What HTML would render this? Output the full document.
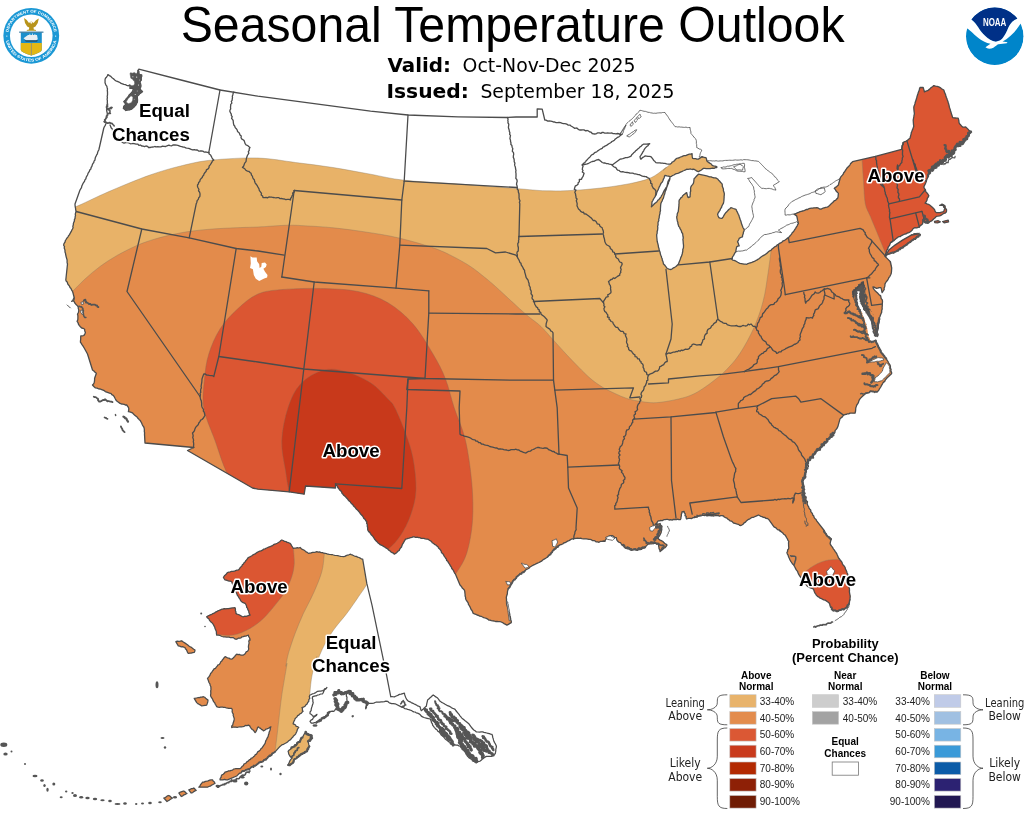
<!DOCTYPE html>
<html lang="en"><head><meta charset="utf-8"><title>Seasonal Temperature Outlook</title>
<style>html,body{margin:0;padding:0;background:#fff}svg{display:block}</style></head>
<body>
<svg width="1031" height="815" viewBox="0 0 1031 815">
<defs>
<clipPath id="cl"><path d="M138.8,69.2 L181.0,80.0 L220.0,90.0 L257.8,96.2 L295.5,101.2 L333.0,106.2 L370.5,111.2 L408.0,115.0 L458.0,116.8 L507.2,117.5 L516.0,117.0 L537.2,117.0 L537.2,108.8 L542.2,109.2 L544.8,120.0 L544.8,120.0 L546.0,120.2 L547.8,121.1 L549.1,121.0 L550.8,121.1 L552.0,121.3 L553.5,122.0 L554.7,122.0 L556.1,122.6 L557.7,122.6 L559.0,122.3 L560.6,122.6 L561.7,123.1 L563.4,123.6 L564.8,123.6 L566.0,123.8 L567.3,124.4 L568.3,125.2 L570.0,125.1 L571.0,126.0 L572.4,126.8 L573.5,127.5 L574.8,128.4 L576.0,128.0 L577.5,128.4 L578.2,129.4 L579.6,130.0 L581.0,130.0 L582.7,129.9 L583.9,129.9 L585.7,130.9 L587.2,130.5 L588.4,130.9 L589.9,132.0 L591.1,132.1 L592.2,133.5 L593.5,133.8 L594.8,134.0 L596.5,133.6 L597.7,132.8 L599.4,132.8 L600.9,133.4 L601.9,132.5 L603.5,132.5 L604.7,133.1 L606.3,133.1 L607.6,133.0 L609.0,133.2 L610.5,133.1 L612.0,133.0 L613.1,133.7 L614.5,133.7 L616.0,133.8 L617.7,133.5 L619.2,133.9 L620.4,134.6 L622.2,134.2 L621.0,135.0 L619.8,135.9 L618.9,136.9 L617.5,137.3 L616.5,138.2 L615.3,139.0 L614.4,140.2 L613.3,140.9 L611.9,141.5 L611.0,142.5 L609.8,143.2 L608.8,143.8 L607.6,144.6 L606.6,145.4 L605.4,145.8 L604.3,146.6 L603.0,147.2 L602.2,148.3 L601.0,148.8 L599.8,149.5 L598.7,150.2 L597.7,150.9 L596.7,151.9 L595.3,152.3 L594.2,153.1 L593.4,154.2 L592.0,154.7 L591.0,155.5 L590.3,156.6 L589.4,157.5 L588.2,158.5 L587.5,159.5 L586.4,160.4 L585.6,161.6 L584.8,162.5 L583.3,163.6 L582.2,165.0 L587.2,163.8 L588.6,163.3 L589.7,162.7 L591.0,162.0 L592.2,161.5 L593.4,161.3 L594.7,161.0 L596.0,160.2 L597.2,159.8 L598.5,159.5 L599.9,160.4 L601.1,161.4 L602.2,162.5 L603.6,163.0 L605.1,163.0 L606.4,163.6 L607.9,163.7 L609.3,164.1 L611.0,164.4 L612.2,165.0 L620.0,159.2 L621.4,159.0 L622.8,158.6 L624.3,158.1 L625.6,157.7 L627.3,157.6 L628.7,157.2 L630.0,156.7 L631.2,155.9 L631.7,154.7 L632.8,153.8 L633.6,152.8 L634.7,152.0 L635.6,150.8 L636.7,150.1 L637.7,149.0 L638.9,148.2 L639.9,147.0 L641.1,146.2 L642.2,145.0 L643.4,144.2 L645.0,144.1 L646.6,144.1 L648.2,143.9 L649.7,143.7 L648.7,144.5 L647.9,145.8 L646.8,146.5 L645.9,147.4 L645.0,148.4 L644.2,149.6 L643.7,150.8 L642.8,152.0 L642.3,153.2 L641.5,154.4 L640.8,155.5 L640.0,156.7 L640.3,158.1 L640.9,159.2 L641.8,158.2 L642.9,157.4 L644.0,156.7 L645.0,155.9 L646.5,156.1 L648.0,156.3 L649.3,156.4 L650.9,156.7 L651.9,157.8 L652.9,159.1 L653.7,160.4 L654.8,161.3 L655.9,162.6 L657.2,162.8 L658.5,162.8 L659.9,162.8 L661.1,163.2 L662.5,163.2 L663.7,163.3 L665.0,163.4 L666.6,163.9 L668.4,164.2 L670.0,164.2 L671.4,163.3 L672.1,162.2 L673.6,161.5 L674.6,160.5 L675.5,159.3 L676.7,158.4 L678.1,158.0 L679.2,157.8 L680.5,157.0 L681.8,156.6 L682.8,156.1 L684.1,155.7 L685.6,155.7 L686.7,155.1 L688.0,154.6 L689.3,154.2 L690.7,154.2 L692.1,153.7 L692.1,155.3 L692.3,156.9 L692.6,158.4 L694.0,158.6 L695.6,158.7 L696.9,159.1 L698.4,159.2 L699.4,158.3 L700.8,157.6 L701.8,156.7 L703.1,157.0 L704.5,157.5 L705.9,157.6 L706.5,159.1 L706.8,160.9 L707.8,161.9 L708.9,162.6 L710.1,163.4 L711.3,164.0 L712.2,165.3 L713.4,165.9 L715.0,166.2 L716.8,166.7 L716.8,167.6 L715.5,167.7 L714.1,168.3 L712.8,168.1 L711.4,168.3 L710.1,168.7 L708.8,168.7 L707.4,168.7 L706.2,168.6 L704.7,168.4 L703.4,168.4 L702.3,169.2 L701.0,170.2 L699.7,170.9 L698.4,171.7 L697.0,171.2 L696.0,170.4 L694.8,169.7 L693.4,169.2 L692.1,169.5 L690.6,169.0 L689.5,169.1 L688.0,169.3 L686.7,169.2 L685.6,169.9 L684.2,170.5 L682.9,171.0 L681.7,171.7 L680.4,172.2 L679.0,172.9 L677.7,173.4 L676.4,173.7 L675.1,174.2 L673.9,175.0 L672.5,175.5 L671.5,176.3 L670.0,176.7 L668.4,176.2 L666.8,175.9 L665.0,175.4 L664.4,176.6 L664.1,178.0 L663.4,179.2 L662.9,180.7 L662.3,182.0 L661.2,183.1 L660.5,184.4 L659.9,185.8 L659.2,187.0 L658.7,188.4 L658.2,189.6 L657.6,190.7 L657.0,191.9 L656.6,193.2 L656.3,194.4 L655.6,195.7 L655.0,196.8 L654.2,198.0 L653.4,199.3 L652.9,200.5 L652.0,201.8 L651.9,203.5 L651.7,205.2 L651.4,206.8 L652.5,205.7 L653.5,204.7 L654.6,203.5 L655.9,202.6 L657.0,201.7 L657.8,200.3 L659.0,199.4 L659.8,198.3 L660.9,197.1 L661.5,195.7 L662.3,194.5 L663.1,193.1 L663.6,191.7 L664.2,190.4 L665.2,189.2 L665.8,187.9 L666.7,186.8 L667.2,185.1 L667.6,183.5 L667.9,181.8 L668.6,180.4 L669.4,179.1 L670.0,177.6 L669.8,179.2 L669.4,180.6 L668.6,182.0 L668.4,183.4 L667.7,184.7 L667.3,186.1 L666.7,187.4 L666.4,188.7 L665.9,190.1 L665.3,191.3 L664.9,192.8 L664.7,194.0 L664.1,195.3 L663.7,196.8 L663.4,198.1 L662.6,199.5 L662.2,200.8 L661.5,202.0 L660.9,203.4 L660.7,204.8 L660.6,206.3 L660.5,207.7 L660.4,209.2 L660.5,210.7 L660.0,212.0 L660.0,213.4 L659.6,214.8 L659.3,216.2 L659.2,217.8 L658.7,219.2 L658.8,220.7 L658.1,222.0 L658.0,223.5 L658.1,224.9 L657.6,226.3 L657.8,227.6 L657.7,229.0 L657.5,230.5 L657.1,231.8 L657.2,233.1 L656.7,234.5 L656.7,236.0 L657.2,241.5 L657.6,242.9 L658.0,244.3 L658.3,245.7 L658.5,247.3 L659.0,248.6 L659.2,250.1 L659.8,251.5 L660.2,252.8 L660.4,254.1 L660.8,255.2 L661.4,256.5 L661.6,257.7 L662.2,258.8 L662.3,260.2 L662.9,261.4 L663.2,262.7 L663.5,264.0 L664.6,265.0 L665.5,266.2 L666.4,267.3 L667.2,268.5 L669.1,269.1 L671.0,269.5 L672.3,268.7 L673.5,267.8 L674.7,267.3 L676.0,266.5 L677.3,265.2 L678.5,264.0 L678.9,262.8 L679.4,261.4 L679.9,260.2 L680.4,259.1 L680.7,257.7 L681.3,256.6 L681.8,255.2 L682.2,254.0 L682.5,252.5 L682.8,251.1 L682.8,249.5 L683.4,248.0 L683.5,246.5 L683.5,245.0 L683.3,243.6 L683.2,242.2 L683.1,240.8 L682.9,239.4 L683.3,238.0 L683.0,236.5 L682.6,233.5 L681.7,232.3 L681.4,231.0 L680.9,229.9 L680.0,228.7 L679.7,227.4 L678.7,226.4 L678.4,225.1 L677.9,223.8 L677.9,222.4 L677.3,220.9 L677.1,219.6 L676.8,218.1 L676.7,216.8 L677.2,215.5 L677.2,214.1 L677.7,212.8 L678.3,211.5 L678.4,210.1 L678.6,208.7 L678.7,207.3 L678.9,205.8 L678.9,204.4 L679.1,203.0 L679.0,201.5 L679.2,200.1 L680.0,199.1 L680.8,197.9 L681.9,197.2 L682.5,196.0 L683.4,195.1 L684.5,194.2 L685.6,193.4 L686.7,192.6 L687.1,194.3 L687.5,196.0 L688.1,197.6 L690.1,196.8 L690.1,195.4 L690.3,193.9 L690.2,192.5 L690.7,191.0 L690.6,189.6 L690.6,188.2 L690.9,186.8 L691.6,185.6 L692.5,184.6 L693.4,183.4 L693.8,181.7 L693.9,180.0 L694.2,178.4 L695.4,177.4 L696.4,176.3 L697.4,175.2 L698.4,174.2 L706.8,175.9 L708.1,176.3 L709.6,176.8 L711.1,176.8 L712.4,177.3 L713.9,177.8 L715.4,177.8 L716.8,178.4 L718.0,179.3 L718.8,180.5 L719.8,181.3 L720.7,182.5 L721.8,183.4 L722.3,184.8 L722.3,186.3 L722.8,187.6 L723.4,189.1 L723.4,190.7 L723.9,192.0 L724.3,193.4 L724.3,194.9 L724.1,196.4 L724.1,197.7 L724.0,199.1 L723.9,200.5 L723.7,201.9 L723.4,203.4 L722.6,204.7 L721.9,206.0 L721.5,207.5 L720.6,208.6 L720.1,210.1 L719.2,211.5 L718.3,212.7 L717.6,214.3 L718.1,215.9 L718.8,217.6 L720.2,218.1 L721.8,218.4 L722.8,217.5 L723.5,216.3 L724.1,215.1 L724.9,213.9 L725.7,212.8 L726.8,211.8 L727.7,210.7 L728.8,209.5 L729.9,208.7 L730.9,207.6 L732.2,208.0 L733.3,208.5 L734.6,208.9 L736.0,209.3 L736.5,210.6 L737.2,211.8 L737.7,212.9 L738.3,214.2 L738.9,215.4 L739.3,216.8 L739.7,218.0 L740.1,219.3 L740.7,220.7 L741.1,222.0 L741.4,223.3 L741.8,224.6 L742.4,225.9 L742.8,227.2 L743.5,228.5 L744.2,229.2 L744.0,230.9 L743.4,232.3 L743.2,233.8 L742.6,235.2 L742.5,236.8 L740.7,237.5 L739.2,238.4 L738.5,240.1 L737.5,241.8 L738.3,243.1 L738.7,244.5 L739.2,245.9 L737.9,246.1 L736.7,246.8 L736.3,248.5 L736.0,250.1 L735.8,251.8 L734.9,252.9 L734.2,254.2 L733.5,255.6 L732.5,256.8 L732.3,258.2 L731.7,259.3 L732.7,260.0 L734.1,260.4 L735.4,260.9 L736.5,261.5 L737.7,262.2 L738.8,262.8 L740.0,263.4 L741.4,263.6 L742.7,263.8 L744.1,264.1 L745.4,264.2 L746.7,264.3 L747.9,263.6 L749.2,263.2 L750.4,262.8 L751.8,262.3 L753.0,261.8 L754.3,261.3 L755.4,260.8 L756.7,260.1 L757.9,259.4 L759.0,258.8 L759.9,257.9 L761.0,257.0 L762.1,256.3 L763.2,255.6 L764.6,254.9 L765.6,254.2 L766.7,253.4 L767.7,252.5 L768.7,251.6 L769.6,250.9 L770.9,250.3 L771.7,249.3 L772.8,248.4 L773.9,247.5 L774.9,246.7 L776.3,246.1 L777.1,245.0 L778.4,244.3 L779.5,243.4 L780.6,242.9 L781.9,242.2 L782.7,241.2 L784.0,240.7 L785.1,240.0 L786.2,239.2 L787.3,238.4 L788.4,237.6 L789.5,236.5 L790.4,235.4 L791.6,234.1 L792.2,232.8 L793.4,231.8 L794.2,230.5 L794.9,229.4 L795.7,228.3 L796.3,227.1 L797.2,225.8 L797.7,224.6 L798.4,223.4 L798.1,222.0 L797.6,220.4 L797.4,219.0 L797.1,217.5 L796.7,215.9 L795.5,215.1 L794.2,214.2 L795.7,213.7 L797.2,212.9 L798.6,212.4 L800.1,211.7 L801.4,211.3 L802.5,211.0 L803.9,210.7 L805.1,210.1 L806.2,209.5 L807.6,209.5 L808.8,208.7 L810.1,208.4 L811.4,208.1 L812.7,208.1 L814.0,207.8 L815.5,207.8 L816.8,207.6 L818.5,208.2 L820.1,209.2 L821.4,209.0 L822.8,208.2 L824.2,207.8 L825.6,207.4 L827.0,207.2 L828.4,206.7 L829.3,205.6 L830.3,204.7 L831.3,203.6 L832.5,202.7 L833.4,201.7 L834.3,200.7 L835.6,200.3 L836.5,199.1 L837.6,198.4 L838.1,196.8 L838.2,195.1 L838.4,193.4 L837.5,192.4 L836.6,191.6 L835.8,190.5 L835.2,189.2 L834.3,188.4 L835.2,187.4 L836.5,186.8 L837.3,185.9 L838.4,185.0 L838.7,183.6 L839.1,182.3 L839.4,181.0 L839.8,179.8 L840.1,178.4 L840.7,177.1 L841.5,176.1 L842.4,175.1 L843.3,174.0 L843.7,172.8 L844.7,171.7 L845.3,170.6 L846.1,169.5 L846.8,168.3 L847.8,167.2 L848.8,166.2 L849.9,165.1 L850.5,163.8 L851.5,162.7 L852.6,161.7 L875.4,156.4 L901.6,149.4 L903.1,142.6 L904.3,141.8 L905.7,141.4 L906.9,140.7 L908.0,139.9 L908.9,139.0 L910.0,138.2 L910.4,136.8 L910.7,135.4 L911.1,134.1 L911.3,132.6 L911.9,131.3 L912.3,130.1 L912.9,128.9 L913.3,127.6 L913.8,126.3 L913.5,124.7 L913.4,123.2 L913.3,121.7 L913.2,120.1 L913.5,118.5 L913.8,116.9 L914.0,115.3 L914.4,113.8 L914.2,112.2 L914.0,110.7 L913.9,109.1 L913.8,107.5 L914.0,106.2 L914.5,105.0 L914.9,103.9 L915.2,102.5 L915.6,101.3 L916.1,100.1 L916.4,98.8 L916.8,97.5 L917.1,96.2 L917.5,95.0 L917.9,93.8 L918.3,92.5 L918.8,91.3 L919.3,90.1 L919.5,88.7 L920.0,87.5 L921.6,87.5 L923.2,87.5 L923.6,89.1 L924.1,90.4 L924.4,91.9 L926.0,91.2 L927.6,90.7 L928.6,89.9 L929.7,89.1 L930.6,88.1 L931.7,87.2 L932.8,86.5 L933.8,85.6 L935.5,86.2 L937.2,86.4 L938.8,86.9 L940.1,87.6 L941.3,88.6 L942.5,89.3 L943.8,90.0 L944.2,91.3 L944.6,92.6 L945.2,93.8 L945.7,95.0 L945.9,96.3 L946.4,97.5 L947.0,98.8 L947.3,100.0 L947.9,101.3 L948.2,102.5 L948.6,103.8 L949.0,105.1 L949.2,106.3 L949.5,107.5 L950.0,108.9 L950.4,110.1 L950.6,111.3 L951.1,112.6 L951.4,113.8 L951.8,115.1 L952.3,116.3 L952.6,117.6 L954.0,117.8 L955.4,118.0 L956.8,118.2 L958.2,118.2 L958.6,119.6 L958.9,121.0 L959.0,122.5 L959.5,123.8 L960.6,124.8 L961.5,126.0 L962.6,127.0 L964.2,127.1 L965.7,127.0 L966.7,127.9 L967.7,128.9 L968.7,130.0 L969.7,131.0 L970.7,131.9 L967.6,136.3 L966.4,137.8 L966.3,139.4 L964.3,139.6 L963.9,141.3 L962.2,141.9 L961.0,142.7 L960.1,143.8 L958.3,144.2 L957.0,145.1 L956.2,146.0 L955.1,147.6 L954.7,149.5 L954.4,150.8 L953.8,152.6 L952.0,152.8 L951.1,154.2 L950.1,155.1 L948.7,155.5 L947.7,156.2 L945.9,156.6 L945.1,157.6 L944.9,159.1 L944.0,160.4 L943.4,161.8 L942.6,162.6 L941.5,164.0 L940.3,164.0 L938.8,163.8 L937.6,165.1 L936.2,165.7 L935.2,166.4 L933.8,167.6 L932.9,168.4 L931.3,168.8 L930.7,170.1 L929.4,172.0 L928.2,176.3 L927.7,177.7 L927.1,178.7 L926.6,180.1 L926.3,181.3 L925.8,182.7 L925.2,184.1 L924.5,185.4 L923.8,186.9 L924.4,188.5 L925.4,189.6 L925.7,191.3 L926.4,192.5 L927.4,193.3 L928.1,194.5 L928.8,195.7 L928.2,197.2 L927.3,198.4 L927.0,200.1 L926.2,201.7 L925.1,203.2 L926.4,203.5 L927.4,204.2 L928.8,204.4 L930.0,205.3 L931.4,206.5 L932.6,207.6 L933.8,208.7 L934.7,209.9 L935.1,211.4 L936.3,212.6 L938.3,212.6 L940.1,212.6 L941.4,212.2 L942.7,211.9 L943.8,211.3 L944.2,209.8 L945.1,208.2 L943.9,207.5 L943.5,206.0 L942.3,205.3 L940.8,205.3 L939.6,205.3 L940.9,205.0 L942.0,204.1 L943.5,204.8 L945.1,206.1 L945.2,207.4 L945.8,208.7 L946.6,209.8 L946.4,211.9 L945.3,213.0 L943.7,213.4 L942.5,214.3 L941.3,215.1 L939.7,215.8 L937.9,216.1 L936.3,216.3 L935.2,217.8 L933.8,218.8 L932.6,220.1 L931.6,220.9 L930.0,221.6 L928.8,221.9 L927.0,222.2 L925.1,222.6 L924.4,221.2 L924.2,219.6 L923.8,218.2 L923.3,219.7 L922.9,221.1 L922.8,222.3 L922.6,223.8 L921.4,224.9 L920.3,225.6 L919.4,227.0 L917.9,227.4 L916.8,227.8 L915.0,227.7 L913.8,228.2 L912.8,229.0 L912.1,230.3 L911.0,231.2 L910.0,232.0 L908.9,232.6 L907.3,233.0 L906.3,233.8 L904.9,234.0 L903.8,234.5 L902.5,235.1 L901.3,235.8 L900.1,236.6 L898.7,236.7 L897.5,237.6 L896.1,238.5 L895.1,239.4 L894.0,240.7 L892.5,241.3 L890.6,242.6 L890.0,243.9 L889.7,245.2 L888.8,246.4 L888.0,247.5 L887.9,248.8 L887.0,250.0 L886.4,251.4 L886.3,252.6 L885.5,253.9 L885.8,255.1 L885.0,256.4 L890.4,261.6 L891.7,268.0 L891.6,269.6 L891.5,271.3 L891.3,273.0 L890.9,274.2 L890.3,275.5 L889.8,276.6 L888.9,277.5 L888.4,278.8 L887.6,280.3 L886.7,281.2 L885.8,282.5 L885.0,283.9 L884.9,285.4 L884.7,286.7 L884.1,288.1 L884.2,289.7 L883.1,291.1 L882.1,292.6 L881.7,290.9 L881.4,289.1 L880.9,287.6 L879.3,287.7 L878.0,288.0 L876.7,288.4 L875.5,287.8 L874.2,287.2 L873.0,286.8 L873.3,288.3 L874.2,289.7 L875.4,291.1 L876.7,292.2 L877.9,293.3 L878.9,294.5 L880.0,295.5 L880.5,295.5 L880.9,297.0 L881.2,298.6 L882.3,299.9 L882.5,301.4 L882.4,302.9 L882.3,304.2 L882.3,305.8 L882.1,307.2 L882.2,309.0 L881.7,310.5 L881.7,312.2 L881.0,313.7 L880.4,315.2 L879.9,316.7 L879.2,318.0 L878.2,327.5 L878.1,328.9 L877.5,330.2 L877.3,331.6 L876.9,333.0 L876.9,334.4 L876.3,335.6 L874.4,335.0 L874.1,333.4 L873.9,332.0 L873.0,330.5 L872.8,329.0 L872.5,327.5 L872.5,326.0 L872.3,324.5 L872.3,323.1 L872.6,321.6 L872.5,320.0 L871.7,318.0 L871.3,316.9 L871.1,315.2 L870.9,314.1 L870.7,312.8 L870.0,311.4 L869.0,310.8 L868.3,309.6 L867.0,309.0 L865.9,308.0 L866.3,306.8 L866.6,305.5 L866.4,304.0 L867.0,302.8 L866.7,301.4 L866.3,300.0 L866.1,298.5 L865.7,297.1 L865.0,295.5 L865.3,294.1 L864.2,292.7 L864.3,291.6 L864.7,290.0 L863.5,288.7 L864.2,287.3 L863.3,286.0 L863.4,284.7 L863.4,282.2 L862.0,283.1 L861.2,284.4 L859.8,285.2 L858.9,286.4 L857.5,287.2 L856.9,288.4 L855.4,289.0 L855.0,290.5 L853.5,291.1 L852.9,292.2 L853.7,293.7 L853.4,295.3 L853.7,296.7 L854.9,298.2 L855.0,299.7 L855.5,301.1 L855.9,302.5 L856.7,303.9 L857.6,304.9 L858.5,305.9 L858.8,307.2 L859.6,308.4 L860.6,309.4 L861.8,310.7 L862.5,312.1 L863.4,313.0 L864.2,314.4 L864.4,315.5 L864.9,317.1 L865.9,318.0 L866.3,320.0 L866.7,321.3 L866.7,322.9 L867.3,324.3 L867.8,325.6 L867.8,327.1 L868.5,328.6 L868.8,330.0 L869.3,331.3 L869.6,332.4 L869.7,333.8 L870.2,335.1 L870.7,336.3 L871.0,337.6 L871.3,338.8 L872.6,339.0 L873.7,339.6 L875.0,340.0 L875.7,340.6 L876.5,342.1 L876.7,343.6 L877.5,345.0 L878.2,346.4 L879.0,347.5 L879.1,348.8 L880.2,349.9 L880.5,351.3 L881.3,352.5 L882.2,353.5 L883.1,354.4 L883.7,355.6 L884.5,356.9 L885.5,357.8 L886.3,358.8 L887.0,360.2 L887.9,361.3 L888.4,362.6 L889.2,363.8 L890.1,365.1 L890.4,366.5 L890.4,368.0 L891.1,369.5 L890.8,370.9 L891.6,372.4 L891.6,373.8 L890.4,374.7 L889.4,375.7 L888.3,376.8 L887.2,377.8 L886.3,378.8 L885.3,380.0 L884.7,381.4 L883.3,382.4 L882.5,383.8 L881.7,385.1 L881.1,386.3 L880.4,387.5 L879.5,388.8 L878.8,390.1 L878.1,391.1 L876.9,392.0 L875.4,391.5 L874.1,391.8 L872.8,391.8 L871.3,391.3 L870.0,391.7 L868.8,392.7 L867.5,392.9 L866.3,393.3 L865.0,393.8 L864.0,395.0 L863.1,395.8 L862.0,396.8 L860.9,397.9 L860.0,398.9 L859.2,400.1 L858.7,401.4 L858.4,402.6 L857.6,403.9 L856.8,405.0 L856.3,406.4 L855.8,407.7 L855.7,409.0 L855.6,410.6 L855.4,411.8 L855.0,413.2 L853.3,413.2 L851.6,413.1 L850.0,413.2 L848.8,413.8 L847.4,413.8 L846.3,414.4 L845.0,414.5 L843.8,415.1 L842.8,416.1 L842.1,417.1 L841.0,417.9 L840.0,418.9 L837.8,426.8 L837.2,428.0 L836.2,429.4 L835.1,430.5 L835.0,432.0 L834.1,433.0 L832.8,433.8 L831.8,434.7 L831.3,436.2 L830.2,437.5 L829.0,438.1 L828.0,438.9 L827.2,440.2 L826.4,441.3 L825.0,442.1 L824.0,443.0 L822.9,443.8 L822.1,444.6 L821.3,446.1 L820.4,447.1 L819.6,448.3 L819.0,449.2 L818.2,450.5 L816.7,450.8 L815.9,452.0 L815.3,453.1 L814.6,454.5 L813.3,455.2 L812.8,456.7 L811.9,457.5 L810.3,458.3 L809.2,459.5 L808.4,460.6 L807.8,461.8 L807.4,463.0 L807.5,464.8 L806.7,466.2 L806.3,467.6 L806.6,468.9 L805.7,470.2 L805.7,471.6 L805.3,473.1 L804.7,474.3 L804.8,475.8 L803.9,477.2 L803.6,478.7 L803.3,480.3 L802.7,481.6 L802.8,483.1 L802.8,484.5 L802.9,486.0 L803.7,487.1 L803.9,488.7 L803.3,490.3 L804.2,491.6 L804.0,493.1 L804.4,494.2 L804.5,495.7 L805.7,496.8 L806.1,497.8 L805.7,499.5 L806.4,500.7 L807.5,501.8 L807.2,503.1 L807.3,504.4 L807.9,505.6 L808.7,506.9 L809.0,508.1 L809.7,509.0 L810.8,510.1 L810.7,511.5 L811.7,512.6 L812.5,513.8 L812.7,515.1 L813.8,516.1 L814.1,517.4 L814.8,518.5 L816.1,519.5 L816.5,520.6 L823.8,530.0 L824.6,531.1 L825.1,532.5 L825.7,533.6 L826.3,535.0 L827.4,536.0 L828.8,536.9 L830.2,537.9 L831.3,538.8 L830.8,540.4 L830.4,542.1 L830.1,543.8 L830.7,545.0 L831.6,546.2 L832.7,547.6 L833.3,548.8 L834.4,550.1 L835.1,551.3 L835.9,552.4 L836.7,553.6 L837.3,555.0 L837.9,556.2 L838.4,557.7 L839.3,558.7 L840.1,560.0 L841.2,561.2 L842.0,562.4 L842.4,563.8 L843.3,565.2 L844.4,566.2 L845.1,567.5 L845.4,568.9 L846.1,570.2 L846.6,571.2 L847.0,572.7 L847.6,573.8 L847.9,575.2 L848.0,576.7 L847.8,578.3 L847.9,579.6 L847.9,581.0 L848.2,582.6 L848.6,583.9 L848.6,585.6 L848.9,587.0 L849.4,588.5 L849.5,590.1 L849.4,591.6 L849.6,593.1 L849.9,594.6 L850.2,596.1 L850.1,597.6 L850.0,599.2 L849.5,600.8 L849.3,602.3 L848.9,603.8 L848.2,605.2 L847.1,606.2 L846.4,607.6 L845.0,608.5 L843.8,609.5 L841.9,609.5 L840.1,610.1 L838.9,610.6 L837.6,611.4 L835.9,610.6 L834.3,610.6 L832.6,610.1 L831.9,608.5 L830.7,607.0 L830.0,605.6 L829.7,603.9 L828.8,602.6 L827.5,601.8 L826.4,600.9 L825.1,600.1 L823.7,599.9 L822.5,599.2 L821.5,598.6 L820.1,598.2 L818.9,597.1 L817.5,596.4 L816.3,595.1 L815.6,593.8 L814.8,592.8 L814.3,591.5 L813.8,590.0 L813.2,588.8 L811.8,588.3 L810.3,587.9 L809.0,587.0 L807.5,586.3 L806.5,585.0 L805.0,583.8 L804.1,582.5 L803.4,581.3 L802.6,580.1 L801.9,578.6 L800.9,577.5 L800.0,576.3 L799.2,575.2 L798.5,573.9 L798.0,572.7 L797.5,571.3 L796.5,570.1 L795.7,568.9 L795.1,567.5 L794.4,566.3 L793.7,564.8 L792.5,563.9 L791.6,562.5 L790.8,561.3 L790.0,560.0 L789.5,558.7 L788.9,557.5 L788.4,556.3 L788.1,555.1 L787.3,553.8 L786.9,552.5 L787.6,551.3 L787.6,550.0 L788.6,548.8 L788.8,547.5 L788.6,546.0 L788.6,544.4 L788.5,542.9 L788.8,541.3 L787.8,540.1 L787.4,538.8 L786.5,537.5 L785.8,536.1 L785.0,535.0 L783.7,534.2 L782.8,533.0 L781.5,532.0 L780.0,531.2 L779.4,530.0 L781.5,531.9 L780.3,531.2 L779.1,530.0 L777.5,529.6 L776.6,528.6 L775.5,527.6 L774.0,526.9 L768.5,519.2 L767.4,518.5 L766.0,518.4 L765.0,517.5 L763.3,517.3 L762.1,516.7 L761.0,516.4 L759.8,515.7 L758.5,515.0 L757.2,515.6 L756.0,516.2 L754.7,516.7 L753.6,517.3 L752.1,517.4 L751.0,518.0 L749.9,518.8 L748.6,519.3 L747.3,520.3 L746.3,521.1 L745.5,522.1 L744.1,522.9 L743.3,524.0 L742.3,524.8 L741.0,525.5 L739.6,525.4 L738.7,524.3 L737.3,524.2 L735.9,523.7 L734.9,523.3 L733.5,523.0 L732.6,522.1 L731.4,521.1 L730.0,520.9 L729.1,519.8 L727.8,519.2 L727.0,518.2 L725.6,517.6 L724.3,517.0 L723.5,516.0 L722.1,515.7 L720.8,515.7 L719.5,516.2 L718.3,515.7 L716.9,515.6 L715.3,515.5 L713.9,516.0 L712.6,515.7 L711.2,515.9 L710.1,515.7 L708.6,515.7 L707.2,515.8 L706.0,515.5 L719.0,513.5 L717.5,513.7 L716.1,513.4 L714.9,514.1 L713.1,514.2 L711.6,514.1 L710.2,513.8 L708.9,514.2 L707.2,514.2 L705.9,514.8 L704.7,515.5 L703.0,515.1 L701.5,515.6 L700.1,515.9 L698.4,515.9 L697.2,517.0 L695.8,517.2 L694.6,517.5 L693.1,517.6 L691.7,518.5 L690.1,518.4 L688.4,518.4 L686.6,519.0 L686.0,517.8 L686.3,516.5 L685.0,515.6 L685.3,513.9 L684.4,512.8 L684.1,511.5 L681.9,511.8 L681.9,513.0 L681.3,514.5 L681.4,515.7 L681.0,517.2 L680.9,518.4 L680.4,519.5 L678.8,519.7 L677.7,519.2 L676.4,519.7 L675.1,519.5 L673.4,519.4 L672.1,520.1 L670.7,519.7 L669.2,520.0 L667.7,519.3 L666.6,519.4 L665.1,519.7 L663.8,519.7 L662.3,520.6 L660.8,520.3 L659.8,520.9 L658.2,520.9 L657.2,522.2 L656.6,523.4 L655.1,524.4 L656.7,524.4 L658.6,524.0 L660.1,523.5 L660.7,525.2 L662.0,526.3 L661.6,528.0 L661.8,529.6 L661.3,531.3 L661.1,532.6 L660.4,534.0 L660.0,535.0 L658.8,536.2 L658.4,537.5 L658.2,538.8 L660.1,540.1 L661.3,540.6 L662.9,541.5 L663.8,542.6 L664.8,543.5 L665.9,544.1 L667.0,545.1 L666.0,546.5 L665.1,547.6 L663.8,548.3 L663.1,549.1 L662.0,550.1 L660.1,551.6 L659.9,550.3 L659.1,548.8 L658.9,547.2 L658.6,545.8 L658.6,544.4 L657.0,543.9 L655.1,543.2 L653.2,543.7 L651.3,543.8 L648.8,543.8 L647.5,544.6 L646.8,545.4 L645.9,546.3 L645.1,547.6 L643.7,548.2 L642.6,548.2 L641.6,549.4 L640.1,549.5 L638.7,549.4 L637.2,549.8 L635.6,549.9 L634.2,549.5 L632.6,549.6 L631.3,550.1 L630.2,549.2 L628.9,548.7 L627.6,548.8 L626.3,548.4 L625.0,547.6 L623.8,546.2 L622.5,545.1 L621.4,544.2 L620.6,542.7 L619.0,542.3 L617.8,541.3 L616.9,540.1 L616.3,537.6 L614.8,537.3 L613.8,536.6 L612.6,535.7 L611.3,535.7 L609.7,535.8 L608.7,536.3 L607.4,537.0 L606.3,537.6 L606.3,538.9 L605.3,540.1 L605.0,541.3 L603.7,541.0 L602.0,541.4 L600.7,541.3 L599.0,542.3 L597.5,541.9 L596.0,541.9 L595.0,540.9 L593.9,540.6 L592.4,540.6 L591.3,539.7 L590.0,539.4 L589.0,539.4 L587.7,539.1 L586.3,538.9 L584.7,538.9 L583.3,538.8 L581.9,538.7 L580.5,538.2 L579.1,538.3 L577.6,538.1 L576.0,538.3 L574.3,538.5 L572.6,538.8 L571.2,539.2 L570.2,539.9 L569.0,540.6 L567.5,541.2 L566.4,541.9 L565.1,542.7 L563.7,543.0 L562.7,544.0 L561.4,544.5 L560.0,544.8 L558.9,545.6 L557.8,546.7 L557.0,547.4 L555.7,548.1 L554.7,549.0 L553.9,550.0 L552.9,550.9 L552.1,552.1 L551.2,552.9 L550.5,554.0 L549.2,554.9 L548.4,555.9 L547.6,556.9 L546.4,557.8 L545.0,558.7 L543.8,559.3 L542.5,560.2 L541.5,561.2 L540.1,561.9 L539.0,562.5 L537.5,563.1 L536.4,563.6 L535.1,564.3 L533.7,564.9 L532.6,565.5 L531.3,566.3 L530.0,567.0 L528.9,568.3 L527.6,569.0 L526.1,569.6 L525.1,570.7 L523.9,571.7 L522.4,572.3 L521.4,573.5 L520.0,574.2 L518.8,575.1 L517.8,576.3 L516.7,577.1 L515.9,578.3 L514.7,579.3 L513.5,580.2 L512.6,581.3 L511.9,582.7 L511.4,583.8 L510.5,585.1 L509.8,586.5 L509.1,587.7 L508.2,588.8 L507.8,590.3 L507.4,591.8 L507.4,593.3 L507.1,594.8 L506.6,596.1 L506.3,597.6 L506.5,599.2 L506.5,600.5 L506.5,602.2 L506.6,603.6 L506.9,605.1 L507.4,606.3 L507.7,607.7 L508.0,608.9 L508.7,610.1 L508.9,611.5 L509.4,612.6 L509.7,613.9 L509.9,615.4 L510.3,616.8 L510.6,618.4 L510.7,619.8 L511.3,621.2 L511.3,622.6 L509.9,623.4 L508.4,624.4 L506.9,625.1 L505.6,624.4 L504.1,623.6 L502.8,622.8 L501.3,622.0 L500.0,621.6 L498.5,621.6 L497.1,621.5 L495.5,621.5 L494.1,621.0 L492.7,620.9 L491.3,620.7 L490.1,620.2 L488.7,620.0 L487.7,619.1 L486.4,618.4 L485.1,618.0 L483.7,617.6 L482.5,617.0 L481.2,616.3 L479.8,616.2 L478.5,615.4 L477.0,615.0 L475.9,614.3 L474.4,613.9 L473.1,613.2 L472.7,612.0 L472.0,610.5 L471.1,609.5 L470.6,608.2 L470.1,607.1 L469.4,605.7 L468.5,604.6 L468.3,603.3 L467.7,602.1 L466.8,601.0 L466.2,600.1 L465.6,598.8 L465.6,597.4 L465.1,596.0 L465.1,594.5 L464.9,593.0 L464.8,591.5 L464.4,590.1 L463.4,589.0 L462.5,588.3 L461.8,587.1 L460.9,585.9 L460.0,585.1 L455.5,574.2 L454.6,573.1 L454.1,571.9 L453.5,570.7 L452.7,569.5 L451.8,568.5 L451.4,567.2 L450.6,566.2 L449.9,564.9 L449.3,563.8 L448.4,562.7 L447.8,561.3 L446.6,560.4 L446.4,559.1 L445.5,558.0 L444.8,557.0 L444.0,555.9 L443.5,554.5 L442.5,553.6 L441.5,552.5 L441.2,551.1 L440.4,549.9 L439.7,549.0 L438.5,547.9 L438.0,546.8 L436.9,545.9 L435.9,545.0 L434.5,544.3 L433.6,543.5 L432.3,542.8 L431.5,541.5 L430.3,540.7 L429.1,540.0 L428.0,539.2 L426.6,539.1 L425.2,538.9 L423.9,538.4 L422.6,538.4 L421.2,538.3 L419.8,537.7 L418.5,537.6 L417.2,537.2 L415.6,537.3 L414.3,536.9 L413.0,536.8 L411.9,537.3 L410.5,537.7 L409.2,538.1 L407.9,538.3 L406.7,538.8 L405.5,539.2 L404.8,540.4 L404.0,541.7 L403.4,542.9 L402.5,544.2 L402.0,545.4 L401.5,547.0 L400.5,548.0 L399.8,549.1 L399.2,550.5 L397.9,551.3 L396.9,552.4 L395.6,553.4 L394.2,554.2 L393.4,553.2 L392.2,552.6 L391.0,552.0 L390.1,551.0 L388.9,550.2 L388.0,549.2 L387.0,548.5 L385.9,547.9 L384.7,547.0 L383.4,546.4 L382.5,545.6 L381.4,545.2 L380.0,544.6 L379.1,543.6 L378.0,543.0 L377.3,542.0 L376.2,541.0 L375.4,540.0 L374.5,539.0 L373.7,537.7 L373.1,536.7 L372.3,535.7 L371.3,534.8 L370.5,533.6 L369.8,532.4 L368.7,531.6 L368.0,530.5 L367.6,529.1 L367.7,527.7 L367.2,526.0 L367.4,524.6 L366.7,523.4 L366.8,521.8 L365.8,520.7 L365.2,519.4 L363.9,518.5 L363.3,517.3 L362.6,516.0 L361.6,515.0 L360.5,513.9 L359.7,512.7 L358.9,511.7 L358.0,510.5 L356.9,509.6 L356.0,508.7 L355.3,507.6 L354.4,506.8 L353.4,505.7 L352.8,504.6 L351.7,503.8 L350.9,502.8 L350.3,501.8 L349.0,500.9 L348.3,500.1 L347.6,498.9 L346.6,498.1 L345.7,496.9 L344.7,496.1 L343.7,495.3 L343.0,494.2 L342.0,493.2 L341.6,491.8 L340.6,490.7 L339.4,489.7 L338.6,488.5 L337.8,487.4 L337.3,486.1 L336.3,485.1 L335.5,483.8 L335.5,488.0 L305.5,486.0 L304.2,494.2 L289.2,491.8 L258.0,489.2 L252.5,488.0 L187.5,450.5 L193.8,447.5 L145.0,443.0 L144.6,435.9 L144.5,434.4 L144.6,432.8 L144.3,431.3 L144.4,429.9 L144.2,428.4 L143.8,427.0 L142.8,425.6 L142.2,424.5 L141.7,423.1 L140.9,421.7 L140.3,420.6 L139.2,419.7 L138.4,418.7 L137.5,417.7 L136.7,416.7 L135.7,415.9 L134.5,414.9 L133.5,414.0 L132.5,412.9 L131.2,412.3 L129.8,411.8 L128.4,411.7 L128.7,410.1 L128.8,408.4 L128.2,407.1 L127.5,406.1 L126.7,405.0 L125.2,405.0 L124.2,404.3 L122.7,404.1 L121.4,404.0 L120.0,403.4 L119.0,402.6 L117.8,401.8 L116.8,401.0 L115.9,400.0 L115.0,398.3 L114.2,396.7 L113.2,395.3 L111.8,394.7 L110.9,393.4 L109.5,393.2 L108.2,392.7 L106.7,392.1 L105.3,391.6 L104.3,390.7 L103.0,390.1 L101.7,389.6 L100.2,389.0 L98.4,388.8 L97.1,388.1 L95.4,387.9 L94.4,387.1 L93.4,386.0 L92.5,385.0 L93.6,383.9 L94.2,382.5 L94.5,381.1 L94.6,379.6 L94.6,378.3 L95.1,377.1 L95.5,375.8 L96.0,374.6 L96.3,373.3 L95.1,372.2 L93.9,371.0 L92.5,370.0 L87.5,354.0 L84.2,348.0 L82.9,345.9 L82.0,344.6 L81.3,343.4 L80.4,342.1 L80.5,340.7 L80.7,339.0 L80.7,337.5 L80.8,335.9 L82.5,335.9 L83.8,335.5 L84.8,334.1 L85.4,332.5 L84.8,330.9 L84.6,329.2 L83.1,328.3 L81.7,328.0 L80.4,326.7 L79.2,325.4 L78.4,324.1 L78.0,322.6 L77.1,321.3 L77.8,319.9 L77.9,318.4 L77.9,316.9 L77.9,315.5 L77.5,314.2 L78.4,312.5 L78.8,310.9 L78.6,309.4 L78.2,308.1 L78.3,306.7 L77.0,305.4 L75.8,304.2 L74.8,303.0 L74.1,301.5 L72.9,300.4 L73.4,299.0 L74.2,297.5 L73.7,295.8 L73.3,294.2 L72.9,292.5 L72.4,291.2 L71.5,289.9 L71.0,288.5 L70.0,287.5 L69.5,286.1 L68.6,285.0 L67.7,283.8 L67.4,282.3 L66.3,281.3 L65.8,280.0 L67.5,264.0 L67.1,262.6 L67.1,261.3 L67.1,260.0 L66.7,258.6 L66.3,257.3 L66.0,256.0 L65.7,254.6 L65.5,253.3 L65.0,252.0 L65.0,250.6 L64.8,249.4 L64.2,248.0 L64.5,246.7 L63.7,245.5 L63.8,244.0 L64.5,242.8 L65.1,241.8 L65.4,240.5 L66.2,239.3 L66.8,238.2 L67.9,237.1 L68.4,236.0 L69.3,234.9 L70.0,233.7 L70.6,232.4 L71.3,231.5 L71.8,230.1 L72.5,229.0 L73.1,227.6 L72.8,226.2 L73.3,225.1 L73.4,223.4 L73.8,222.3 L74.4,221.1 L74.4,219.6 L75.1,218.2 L75.1,216.9 L75.5,215.6 L75.3,214.1 L75.6,212.8 L76.2,211.5 L75.7,210.1 L75.6,208.6 L75.3,207.1 L75.1,205.6 L75.0,204.0 L80.0,190.0 L80.7,188.8 L81.5,187.7 L81.8,186.1 L82.3,185.0 L82.9,183.7 L83.6,182.5 L84.5,181.4 L84.9,179.9 L85.9,178.8 L86.1,177.5 L86.7,176.3 L87.5,175.0 L87.9,173.7 L88.5,172.5 L89.4,171.3 L89.9,169.8 L90.9,168.9 L91.1,167.5 L91.9,166.4 L92.3,164.8 L92.8,163.7 L93.8,162.5 L94.0,161.1 L95.0,160.0 L95.1,158.7 L95.5,157.3 L96.1,156.1 L96.6,154.9 L97.4,153.8 L97.6,152.5 L98.1,151.1 L98.8,150.0 L103.8,128.0 L104.4,126.7 L105.3,125.3 L105.8,123.9 L106.7,122.5 L105.4,122.4 L104.2,121.7 L105.0,120.2 L105.8,118.4 L106.7,117.0 L107.0,115.5 L107.5,114.2 L107.1,112.5 L106.7,110.8 L106.7,109.2 L106.8,107.5 L107.3,106.0 L107.5,104.2 L107.3,102.6 L107.4,100.9 L107.1,99.2 L107.4,97.8 L107.2,96.3 L107.5,94.8 L107.5,93.4 L107.5,91.9 L107.3,90.3 L107.5,89.0 L107.1,87.5 L106.8,86.2 L105.9,85.1 L105.4,83.7 L105.0,82.5 L105.1,81.0 L105.0,79.8 L105.4,78.3 L106.5,77.2 L107.3,76.0 L107.9,74.6 L109.4,75.6 L110.8,76.3 L111.7,77.4 L112.8,78.3 L113.9,79.1 L114.7,80.0 L115.8,80.8 L117.3,81.3 L118.5,81.8 L119.9,82.5 L121.1,83.4 L122.5,83.8 L123.9,84.3 L125.6,84.7 L126.8,85.4 L128.4,85.8 L129.6,85.0 L130.0,86.7 L130.0,88.4 L131.3,88.4 L132.8,88.5 L134.2,88.4 L133.3,89.6 L132.6,91.2 L131.7,92.5 L130.0,94.2 L128.9,95.3 L128.6,96.5 L127.5,97.5 L126.7,98.7 L125.9,99.7 L124.7,100.7 L123.8,101.7 L125.0,103.1 L125.9,104.6 L124.7,105.4 L123.8,106.3 L123.4,108.4 L124.6,109.3 L125.9,110.5 L127.3,110.1 L128.8,109.8 L130.2,109.5 L131.7,109.2 L132.7,108.0 L133.8,107.1 L134.8,106.0 L135.9,105.0 L136.2,103.6 L137.3,102.3 L137.5,100.9 L137.4,99.3 L137.3,97.4 L137.5,95.9 L139.0,94.7 L140.0,93.4 L141.3,92.6 L142.5,91.7 L141.1,90.5 L140.0,88.8 L140.6,87.4 L140.9,85.8 L140.7,84.0 L140.0,82.5 L140.4,81.1 L141.3,80.0 L141.2,78.4 L141.5,76.6 L141.7,75.0 L140.4,74.8 L138.9,74.3 L137.5,73.8Z M885.6,255.7 L888.8,250.1 L895.0,245.1 L902.5,240.1 L911.3,235.1 L918.8,233.8 L920.1,234.5 L916.3,237.6 L912.5,240.1 L903.8,246.4 L896.3,251.4 L888.8,253.9Z M934.5,221.3 L938.2,220.7 L940.3,221.9 L937.6,222.9 L934.8,222.6Z M942.6,221.6 L948.2,220.1 L948.6,221.9 L944.1,222.8Z"/></clipPath>
<clipPath id="ck"><path d="M223.4,577.5 L224.1,576.3 L224.7,575.4 L225.9,574.6 L226.6,573.6 L227.5,572.5 L228.8,572.1 L230.3,571.9 L231.5,571.3 L232.9,571.4 L234.4,571.2 L235.6,570.6 L236.9,570.2 L238.4,570.0 L239.2,569.2 L239.9,568.0 L240.9,566.9 L241.9,566.0 L242.5,564.6 L243.5,564.0 L244.0,562.7 L245.3,561.8 L245.8,560.6 L246.8,559.7 L247.5,558.5 L248.4,557.5 L249.8,556.9 L251.0,556.2 L252.3,555.5 L253.4,554.5 L254.7,554.2 L255.9,553.2 L257.2,552.4 L258.4,551.7 L259.7,551.1 L261.0,550.8 L262.5,550.2 L263.5,549.2 L265.0,548.9 L266.0,548.3 L267.3,547.7 L268.6,547.1 L270.1,546.7 L271.2,546.1 L272.4,545.7 L273.6,544.6 L274.8,544.1 L276.0,543.8 L277.3,543.2 L278.4,542.5 L279.7,541.8 L280.5,540.8 L281.8,540.0 L283.2,540.5 L284.5,541.4 L286.0,541.5 L287.1,542.4 L288.6,542.7 L290.1,543.4 L291.0,544.5 L291.7,545.9 L292.5,547.0 L293.4,548.4 L294.8,548.2 L296.0,548.2 L297.3,547.7 L298.8,548.0 L300.1,547.5 L301.1,548.5 L302.3,549.4 L303.8,550.0 L305.0,550.8 L306.0,551.9 L307.3,552.4 L308.4,553.4 L309.8,553.1 L311.2,552.8 L312.6,552.3 L314.1,552.4 L315.4,552.2 L316.8,551.7 L318.2,552.1 L319.5,551.9 L321.1,552.6 L322.5,552.6 L323.8,553.2 L325.1,553.4 L326.5,553.6 L327.9,554.2 L329.3,554.4 L330.8,554.5 L332.1,554.5 L333.5,555.0 L334.9,555.3 L336.3,555.5 L337.9,555.7 L339.1,556.0 L340.6,556.4 L342.0,556.5 L343.5,556.7 L344.8,556.4 L346.2,555.6 L347.4,555.2 L348.9,554.8 L350.1,554.2 L351.3,554.7 L352.8,555.2 L353.9,555.8 L355.0,556.3 L356.4,556.4 L357.6,557.1 L359.0,557.5 L360.2,558.1 L361.3,558.8 L362.7,559.2 L366.8,583.4 L372.0,605.1 L386.4,674.4 L390.8,696.9 L390.6,696.3 L392.6,696.7 L394.4,696.9 L395.6,696.3 L396.9,695.7 L398.2,695.1 L399.4,694.4 L401.1,694.1 L402.8,693.6 L404.4,693.1 L404.7,694.7 L405.2,696.1 L405.7,697.5 L406.6,699.1 L407.6,700.6 L408.8,701.4 L410.1,701.8 L411.2,702.6 L412.5,703.1 L413.8,703.8 L415.1,704.4 L416.4,705.0 L417.5,705.8 L418.8,706.2 L420.1,706.9 L420.4,708.2 L420.8,709.5 L421.3,710.7 L422.4,709.8 L423.4,709.0 L424.3,708.0 L425.2,707.1 L426.3,706.3 L426.6,704.7 L426.9,703.2 L427.3,701.6 L427.6,700.0 L428.8,699.1 L429.8,698.0 L431.0,697.1 L432.0,696.0 L433.2,695.0 L434.4,695.7 L435.3,696.6 L436.5,697.3 L437.6,698.1 L438.5,699.1 L439.3,700.3 L440.1,701.3 L441.3,702.1 L442.5,702.8 L443.9,703.5 L445.1,704.3 L446.4,705.0 L447.6,705.7 L448.9,706.1 L450.2,706.8 L451.3,707.6 L452.6,708.3 L453.9,708.7 L455.1,709.4 L455.8,710.5 L456.6,711.5 L457.5,712.6 L458.4,713.7 L459.2,714.7 L460.0,715.8 L460.9,716.8 L461.7,717.8 L462.6,718.8 L463.7,719.6 L464.7,720.4 L465.8,721.2 L466.7,722.1 L467.9,723.0 L468.9,723.8 L469.8,725.1 L470.7,726.4 L471.6,727.5 L472.6,728.8 L473.8,730.0 L475.1,730.8 L476.4,731.9 L477.9,732.0 L479.5,732.1 L481.1,731.9 L482.6,731.9 L484.0,732.4 L485.3,732.7 L486.7,733.0 L488.0,733.3 L489.4,733.6 L490.6,734.1 L492.0,734.4 L492.5,735.8 L492.7,737.2 L493.2,738.6 L493.5,739.9 L493.9,741.3 L494.6,742.6 L495.3,743.8 L495.9,745.0 L496.4,746.3 L496.2,747.8 L495.8,749.3 L495.8,750.8 L495.5,752.4 L495.2,753.8 L493.9,754.8 L492.7,755.7 L491.4,756.4 L486.4,756.4 L485.0,757.1 L483.8,757.9 L482.4,758.9 L481.4,760.1 L480.3,761.0 L479.1,761.5 L477.5,761.7 L476.4,762.6 L475.0,762.1 L474.0,761.0 L473.4,760.1 L472.0,759.5 L470.8,759.0 L469.8,758.1 L468.7,757.4 L467.6,756.4 L466.8,755.0 L466.2,754.0 L465.7,752.6 L464.9,751.1 L464.1,750.1 L463.4,748.8 L462.6,747.6 L461.1,747.2 L460.2,746.1 L458.7,745.8 L457.6,745.1 L456.0,745.2 L454.2,744.7 L452.6,745.1 L451.9,744.0 L450.6,743.2 L449.8,742.1 L448.4,741.6 L447.4,740.6 L446.2,739.7 L445.2,738.9 L444.4,737.8 L443.5,736.8 L442.5,736.0 L441.3,735.1 L440.6,734.0 L439.9,732.9 L439.0,731.9 L437.8,731.2 L437.0,729.8 L435.8,729.1 L435.0,728.1 L434.3,727.3 L433.4,726.1 L432.6,725.1 L432.4,723.6 L431.5,722.7 L431.2,721.2 L430.7,720.0 L430.1,718.8 L428.6,718.7 L427.1,718.3 L425.5,717.9 L424.1,717.5 L422.6,716.9 L421.3,716.1 L420.2,714.7 L419.1,713.8 L417.6,713.2 L416.2,712.8 L415.1,712.0 L413.8,711.8 L412.6,711.3 L411.4,710.5 L410.3,710.2 L408.9,709.6 L407.6,709.4 L406.2,708.8 L404.9,708.7 L403.7,707.8 L402.7,707.3 L401.3,706.9 L395.1,703.8 L393.3,703.7 L391.6,703.7 L390.1,703.2 L388.9,702.4 L387.6,701.3 L386.0,701.1 L384.4,701.7 L382.6,701.9 L381.2,701.8 L379.6,702.1 L378.1,702.1 L376.5,702.0 L375.1,702.5 L373.8,703.1 L372.0,703.4 L370.8,703.4 L369.0,703.4 L367.6,703.8 L367.5,705.1 L366.3,706.3 L366.5,707.5 L365.7,708.8 L365.7,707.5 L366.1,705.9 L366.5,704.6 L366.4,703.2 L365.0,702.3 L363.7,701.9 L362.8,700.6 L361.4,700.0 L359.9,700.3 L358.0,700.1 L356.9,699.3 L355.1,699.4 L353.9,698.4 L353.5,696.7 L352.6,695.7 L351.7,694.9 L350.5,693.8 L349.5,692.9 L348.8,691.9 L347.6,693.1 L346.3,694.4 L346.4,696.1 L347.0,697.3 L346.8,699.0 L347.0,700.4 L347.6,701.9 L346.5,702.9 L345.5,704.2 L345.1,705.7 L344.4,706.7 L343.3,707.9 L342.5,708.8 L342.3,710.3 L341.3,711.3 L340.5,710.4 L339.6,709.3 L338.1,708.7 L337.6,707.5 L336.4,708.4 L335.4,709.3 L334.7,710.3 L333.8,711.3 L332.4,711.2 L331.0,711.3 L329.4,711.9 L328.6,713.3 L327.6,714.5 L326.3,715.7 L325.2,717.0 L323.8,717.5 L322.5,718.2 L321.3,719.4 L319.9,720.4 L318.5,720.7 L317.4,721.6 L316.3,722.6 L314.5,722.7 L313.1,723.1 L311.3,723.2 L310.0,721.3 L311.0,720.1 L312.5,719.4 L313.1,718.2 L314.1,717.1 L315.3,716.3 L316.3,715.6 L316.9,714.4 L315.4,715.6 L313.8,716.3 L312.5,715.8 L311.6,714.5 L310.0,713.8 L310.1,711.9 L311.1,710.6 L311.3,708.8 L311.7,707.4 L312.1,706.2 L312.4,705.2 L312.8,704.0 L313.2,702.5 L312.8,701.2 L312.9,699.7 L312.3,698.5 L312.5,696.9 L313.6,696.4 L315.2,695.9 L316.4,695.8 L317.6,695.0 L319.1,694.8 L320.7,694.0 L322.6,693.8 L323.2,692.7 L323.8,691.3 L324.6,689.6 L326.1,688.7 L326.9,687.5 L326.1,688.4 L324.6,688.9 L323.9,690.0 L322.6,690.6 L320.8,691.1 L319.3,691.1 L317.6,691.3 L316.5,692.0 L315.2,692.9 L313.9,693.5 L312.5,693.8 L311.3,694.5 L310.0,695.0 L309.3,696.5 L309.8,698.4 L308.8,699.7 L308.8,701.3 L307.7,702.5 L307.1,703.9 L305.8,705.0 L305.0,706.3 L303.4,707.2 L301.9,707.5 L302.5,708.8 L302.3,710.1 L303.1,711.3 L302.0,712.3 L301.1,713.4 L299.7,714.0 L298.8,715.1 L297.6,715.6 L297.0,716.9 L295.9,717.9 L295.0,718.8 L294.7,720.0 L293.9,721.4 L293.5,722.4 L293.1,723.8 L294.4,724.3 L295.5,725.0 L296.2,726.4 L297.8,726.6 L298.8,727.6 L297.8,728.6 L297.3,729.8 L296.8,731.5 L296.3,732.6 L295.6,734.1 L294.6,735.1 L293.3,736.2 L292.5,737.6 L291.5,738.3 L290.6,739.6 L289.5,740.3 L288.4,741.1 L287.5,742.0 L286.4,742.8 L284.9,743.5 L283.6,744.3 L282.4,744.6 L281.1,745.6 L280.0,746.4 L275.1,751.8 L274.1,752.6 L273.1,753.3 L271.6,754.1 L270.9,755.1 L270.0,756.4 L268.9,756.7 L267.6,757.2 L266.8,758.5 L265.4,758.9 L264.2,759.8 L263.1,760.8 L262.3,761.7 L261.1,762.4 L259.5,762.7 L258.4,763.5 L257.4,764.4 L256.3,765.3 L255.1,765.8 L253.4,766.1 L252.2,766.7 L250.9,767.4 L250.1,768.5 L248.8,768.8 L247.3,769.5 L245.8,770.2 L244.4,770.9 L242.9,770.9 L241.7,771.8 L240.9,773.1 L239.5,773.2 L238.7,774.0 L237.6,775.1 L236.7,776.0 L227.5,779.8 L226.0,779.9 L224.6,779.4 L223.0,779.9 L221.5,779.9 L220.0,779.8 L220.2,778.4 L221.2,777.2 L221.2,776.0 L221.9,774.9 L223.2,774.3 L224.3,773.3 L225.0,772.2 L226.1,771.8 L227.6,771.4 L228.7,770.8 L230.1,770.9 L231.2,770.3 L232.5,770.1 L233.7,769.0 L234.8,768.8 L236.2,768.5 L240.1,768.5 L241.2,767.7 L242.0,766.6 L243.4,765.6 L243.9,764.1 L245.1,763.5 L246.4,762.7 L247.0,761.6 L248.2,761.1 L249.2,759.8 L250.5,759.4 L251.1,758.2 L252.5,757.8 L253.4,756.8 L254.6,755.9 L255.3,754.6 L256.5,754.2 L257.1,753.0 L257.9,751.7 L259.1,751.2 L260.1,750.1 L260.9,748.8 L261.9,748.1 L262.7,746.9 L263.4,745.8 L264.4,744.4 L265.1,743.4 L265.5,741.8 L265.9,740.5 L266.7,739.3 L267.3,737.8 L268.1,736.6 L268.4,735.1 L269.0,733.6 L269.1,732.2 L269.7,731.0 L270.2,729.6 L270.3,728.1 L270.9,726.8 L269.8,727.4 L268.5,728.2 L267.0,728.9 L265.8,729.2 L264.8,730.3 L263.4,730.9 L262.6,729.9 L261.4,729.4 L260.6,728.4 L259.1,727.7 L258.4,726.8 L257.5,727.6 L257.1,729.2 L256.5,730.4 L256.0,731.6 L255.1,732.6 L254.2,731.3 L253.5,730.3 L252.2,729.5 L251.2,728.3 L250.4,727.3 L249.7,725.9 L248.4,725.1 L247.1,725.6 L245.4,725.4 L244.2,726.3 L242.8,726.6 L241.6,726.8 L240.1,726.8 L238.8,727.0 L237.2,727.3 L235.8,727.2 L234.5,727.2 L233.1,727.0 L231.7,727.6 L231.7,726.0 L232.7,725.1 L233.0,723.7 L233.3,722.5 L233.9,721.0 L234.1,719.9 L234.2,718.4 L233.7,716.9 L233.2,715.6 L233.3,714.1 L232.5,712.7 L232.1,711.5 L232.3,709.7 L231.7,708.4 L230.4,708.4 L228.8,708.4 L227.6,708.1 L226.3,708.0 L224.9,707.3 L223.5,707.4 L222.3,707.0 L220.9,707.1 L219.3,707.3 L218.1,707.2 L216.7,706.7 L216.1,705.4 L215.3,704.3 L214.7,702.8 L213.8,701.9 L213.0,700.4 L212.6,699.1 L211.7,697.8 L210.9,696.7 L210.5,695.2 L210.8,693.9 L210.8,692.4 L210.7,690.9 L211.0,689.6 L210.9,688.1 L210.9,686.7 L210.2,685.5 L209.9,683.8 L209.0,682.5 L208.6,681.3 L208.1,679.7 L207.5,678.4 L208.6,677.2 L209.4,676.2 L210.1,674.9 L210.6,673.5 L211.7,672.4 L212.4,671.2 L213.4,670.0 L214.0,668.9 L215.5,668.3 L216.3,667.2 L217.2,666.2 L218.0,664.9 L219.3,664.5 L220.1,663.4 L220.6,662.1 L221.8,661.1 L222.4,659.9 L223.3,659.0 L224.1,657.7 L225.1,656.7 L226.3,657.2 L227.7,658.0 L228.9,658.1 L230.2,658.9 L231.7,659.2 L232.9,658.3 L233.9,657.3 L234.8,656.4 L235.6,655.2 L236.7,654.2 L238.1,654.7 L239.3,654.4 L240.6,655.0 L242.1,655.0 L243.4,655.0 L244.6,654.3 L245.5,653.2 L246.1,651.9 L247.6,651.2 L248.4,650.0 L248.7,648.7 L248.4,647.1 L248.5,645.7 L248.8,644.4 L249.1,643.0 L248.8,641.4 L249.2,640.0 L250.1,640.1 L249.9,638.8 L249.4,637.7 L248.6,636.5 L248.4,635.1 L247.2,635.5 L245.9,636.1 L244.7,636.2 L243.3,636.7 L242.1,636.8 L241.0,637.8 L239.8,638.2 L238.2,638.2 L237.2,638.9 L235.9,639.3 L234.4,638.6 L233.4,637.6 L231.9,637.6 L230.5,637.7 L229.2,637.1 L227.8,637.1 L226.5,637.1 L225.0,636.8 L223.6,636.8 L222.2,636.5 L220.9,636.0 L219.5,635.3 L218.1,635.1 L216.7,635.1 L216.4,633.5 L216.4,631.8 L215.8,630.1 L215.1,628.8 L214.8,627.3 L214.0,625.9 L213.4,624.6 L212.5,623.4 L211.6,622.4 L210.4,621.5 L209.4,620.1 L208.8,618.7 L207.6,618.0 L206.7,616.8 L207.8,616.0 L209.2,615.4 L210.4,614.8 L211.7,614.3 L212.9,613.6 L214.2,613.2 L215.4,612.2 L216.7,611.7 L217.7,610.9 L219.1,610.4 L220.4,609.9 L221.7,609.2 L223.0,609.1 L224.3,608.6 L225.8,608.8 L227.0,608.7 L228.3,608.7 L229.8,608.3 L230.9,608.1 L232.4,607.9 L233.8,607.8 L235.0,607.6 L235.5,609.0 L235.3,610.4 L236.0,612.0 L235.9,613.4 L237.0,614.1 L238.4,614.5 L239.7,615.1 L240.9,615.7 L242.1,616.5 L243.4,616.8 L244.6,616.2 L246.1,616.3 L247.5,615.9 L248.8,615.4 L250.1,615.1 L249.4,613.9 L248.9,612.5 L248.7,610.9 L247.9,609.9 L247.6,608.4 L246.7,607.4 L246.5,605.9 L245.9,604.5 L245.1,603.4 L243.2,602.7 L241.7,601.7 L240.6,600.6 L240.0,599.2 L239.2,598.1 L238.4,596.7 L237.3,595.2 L236.7,593.4 L236.1,592.2 L235.3,590.9 L235.2,589.4 L234.4,588.3 L233.9,586.8 L233.5,585.6 L232.7,584.3 L232.2,583.2 L231.7,581.7 L230.4,581.1 L229.1,581.1 L227.6,580.7 L226.4,580.2 L225.0,580.0Z M175.8,641.7 L181.7,640.8 L186.7,644.2 L195.0,650.0 L194.2,652.5 L188.3,653.4 L185.0,647.5 L178.3,645.8Z M194.2,698.4 L203.4,696.7 L208.0,700.1 L206.7,705.1 L201.7,705.9 L196.7,702.6Z M305.7,732.0 L310.0,735.1 L311.9,738.2 L308.2,741.3 L309.4,746.4 L306.9,751.4 L302.5,753.9 L298.8,756.4 L295.0,758.9 L292.5,763.2 L288.1,765.1 L289.4,762.0 L291.9,758.2 L289.4,755.1 L288.1,751.4 L291.3,748.2 L295.0,745.1 L298.8,742.0 L302.5,737.6 L304.4,733.8Z M198.8,787.2 L202.5,782.2 L212.5,779.8 L215.0,783.5 L207.5,787.2Z M188.8,789.8 L193.8,788.0 L196.2,790.5 L191.2,793.0Z M178.8,793.0 L183.8,791.0 L187.0,793.5 L181.2,796.5Z M163.8,798.0 L168.8,795.5 L172.5,798.0 L167.0,801.5Z"/></clipPath>
</defs>
<rect width="1031" height="815" fill="#fff"/>
<g clip-path="url(#cl)">
<path d="M50.0,225.0 C53.3,222.5 64.6,213.5 70.0,210.0 C75.4,206.5 75.4,207.1 82.5,203.8 C89.6,200.4 101.2,194.8 112.5,190.0 C123.8,185.2 138.3,179.1 150.0,175.0 C161.7,170.9 172.1,168.0 182.5,165.5 C192.9,163.0 200.0,161.2 212.5,160.0 C225.0,158.8 243.9,157.6 257.8,158.0 C271.6,158.4 283.0,160.9 295.5,162.5 C308.0,164.1 320.5,165.5 333.0,167.5 C345.5,169.5 358.6,172.1 370.5,174.2 C382.4,176.4 389.7,178.6 404.2,180.2 C418.8,181.9 439.4,182.6 458.0,184.0 C476.6,185.4 501.1,187.4 515.8,188.5 C530.4,189.6 536.0,190.5 546.0,190.8 C556.0,191.0 564.3,191.0 576.0,190.2 C587.7,189.5 603.9,187.9 616.0,186.0 C628.1,184.1 640.2,181.8 648.5,178.8 C656.8,175.7 663.5,168.9 666.0,167.5 C668.5,166.1 661.6,171.6 663.4,170.1 C665.2,168.6 672.8,162.0 676.7,158.4 C680.6,154.8 683.9,151.4 686.7,148.4 C689.5,145.3 692.3,141.4 693.4,140.0 L1031,140 L1031,815 L0,815 L0,225 Z" fill="#E8B268"/>
<path d="M50.0,314.0 C52.1,311.9 58.8,305.2 62.5,301.5 C66.2,297.8 68.8,295.2 72.5,291.5 C76.2,287.8 80.4,283.2 85.0,279.0 C89.6,274.8 94.6,270.5 100.0,266.5 C105.4,262.5 111.2,258.8 117.5,255.2 C123.8,251.7 131.2,248.0 137.5,245.2 C143.8,242.5 148.8,240.9 155.0,239.0 C161.2,237.1 168.8,235.3 175.0,234.0 C181.2,232.7 186.2,231.8 192.5,231.0 C198.8,230.2 205.4,229.5 212.5,229.0 C219.6,228.5 227.5,228.1 235.0,227.8 C242.5,227.4 248.9,227.4 257.8,227.0 C266.6,226.6 279.6,225.4 288.0,225.2 C296.4,225.1 300.5,225.6 308.0,226.0 C315.5,226.4 323.4,226.8 333.0,227.8 C342.6,228.8 354.7,230.3 365.5,232.0 C376.3,233.7 386.8,235.1 398.0,237.8 C409.2,240.4 423.8,244.6 433.0,247.8 C442.2,250.9 446.8,253.4 453.0,256.5 C459.2,259.6 465.5,263.2 470.5,266.5 C475.5,269.8 478.8,272.7 483.0,276.0 C487.2,279.3 490.0,281.6 495.5,286.5 C501.0,291.4 510.2,300.2 515.8,305.2 C521.2,310.2 524.3,313.0 528.5,316.5 C532.7,320.0 536.8,322.5 541.0,326.5 C545.2,330.5 549.3,335.7 553.5,340.2 C557.7,344.8 561.8,349.5 566.0,354.0 C570.2,358.5 574.3,362.8 578.5,367.0 C582.7,371.2 586.8,375.5 591.0,379.0 C595.2,382.5 599.3,385.2 603.5,387.8 C607.7,390.2 611.8,392.1 616.0,394.0 C620.2,395.9 624.3,397.8 628.5,399.0 C632.7,400.2 636.8,400.9 641.0,401.5 C645.2,402.1 649.3,402.8 653.5,402.8 C657.7,402.8 661.8,402.1 666.0,401.5 C670.2,400.9 674.3,400.0 678.5,399.0 C682.7,398.0 686.8,397.0 691.0,395.2 C695.2,393.5 699.3,391.0 703.5,388.2 C707.7,385.5 712.2,382.0 716.0,379.0 C719.8,376.0 722.7,373.6 726.0,370.2 C729.3,366.9 733.1,362.8 736.0,359.0 C738.9,355.2 741.0,351.9 743.5,347.8 C746.0,343.6 748.9,338.2 751.0,334.0 C753.1,329.8 754.3,326.9 756.0,322.8 C757.7,318.6 759.5,313.8 761.0,309.0 C762.5,304.2 763.7,299.0 764.8,294.0 C765.8,289.0 766.5,283.8 767.2,279.0 C768.0,274.2 768.6,269.8 769.2,265.2 C769.9,260.7 770.3,256.7 771.0,251.5 C771.7,246.3 772.7,240.2 773.5,234.0 C774.3,227.8 775.6,217.3 776.0,214.0 L780,60 L1031,60 L1031,815 L0,815 L0,314 Z" fill="#E38B4B"/>
<path d="M258.0,294.0 C265.6,290.8 272.6,290.4 283.0,289.5 C293.4,288.6 308.0,288.2 320.5,288.5 C333.0,288.8 346.8,289.1 358.0,291.5 C369.2,293.9 378.8,297.3 388.0,302.8 C397.2,308.2 405.5,315.5 413.0,324.0 C420.5,332.5 427.6,344.8 433.0,354.0 C438.4,363.2 442.0,370.0 445.5,379.0 C449.0,388.0 450.9,397.5 454.2,407.8 C457.6,418.0 462.6,428.0 465.5,440.5 C468.4,453.0 470.6,469.7 471.8,483.0 C472.9,496.3 473.3,508.8 472.5,520.5 C471.7,532.2 469.6,544.0 466.8,553.0 C463.9,562.0 460.3,566.8 455.5,574.2 C450.7,581.8 445.9,590.7 438.0,598.0 C430.1,605.3 439.3,632.2 408.0,618.0 C376.7,603.8 280.1,537.0 250.0,513.0 C219.9,489.0 233.3,486.3 227.5,474.2 C221.7,462.2 219.0,451.5 215.0,440.5 C211.0,429.5 205.5,418.2 203.8,408.0 C202.0,397.8 203.7,388.0 204.5,379.0 C205.3,370.0 206.2,362.3 208.8,354.0 C211.3,345.7 215.2,336.5 220.0,329.0 C224.8,321.5 231.2,314.8 237.5,309.0 C243.8,303.2 250.4,297.2 258.0,294.0Z" fill="#DB5632"/>
<path d="M323.0,370.2 C330.5,368.2 337.6,369.4 345.5,371.5 C353.4,373.6 363.4,378.2 370.5,382.8 C377.6,387.3 383.9,394.8 388.0,399.0 C392.1,403.2 392.1,402.3 395.0,408.0 C397.9,413.7 402.5,424.7 405.5,433.0 C408.5,441.3 411.2,448.4 413.0,458.0 C414.8,467.6 416.4,480.9 416.0,490.5 C415.6,500.1 413.1,508.0 410.5,515.5 C407.9,523.0 404.2,529.9 400.5,535.5 C396.8,541.1 393.4,544.7 388.0,549.2 C382.6,553.8 377.2,561.5 368.0,563.0 C358.8,564.5 344.7,565.1 333.0,558.0 C321.3,550.9 305.3,531.5 298.0,520.5 C290.7,509.5 291.3,500.1 289.2,491.8 C287.2,483.4 286.8,479.0 285.5,470.5 C284.2,462.0 281.3,451.0 281.8,440.5 C282.2,430.0 284.9,417.2 288.0,407.8 C291.1,398.3 294.7,390.2 300.5,384.0 C306.3,377.8 315.5,372.3 323.0,370.2Z" fill="#C8391B"/>
<path d="M860.3,140.1 C860.6,143.5 861.5,153.1 862.1,160.2 C862.6,167.2 863.0,175.4 863.6,182.7 C864.1,190.0 864.2,198.3 865.3,203.9 C866.5,209.6 868.5,211.9 870.4,216.5 C872.2,221.1 874.1,225.5 876.6,231.5 C879.1,237.6 882.9,247.0 885.4,252.8 C887.9,258.6 890.6,264.3 891.6,266.6 L1031,266 L1031,60 L860,60 Z" fill="#DB5632"/>
<path d="M789.0,588.2 C791.9,585.3 801.1,575.0 806.5,570.7 C812.0,566.3 816.5,563.8 821.5,561.9 C826.6,560.0 831.1,559.5 836.6,559.4 C842.0,559.3 851.2,560.9 854.1,561.1 L860,700 L780,700 Z" fill="#DB5632"/>
<path d="M50.0,225.0 C53.3,222.5 64.6,213.5 70.0,210.0 C75.4,206.5 75.4,207.1 82.5,203.8 C89.6,200.4 101.2,194.8 112.5,190.0 C123.8,185.2 138.3,179.1 150.0,175.0 C161.7,170.9 172.1,168.0 182.5,165.5 C192.9,163.0 200.0,161.2 212.5,160.0 C225.0,158.8 243.9,157.6 257.8,158.0 C271.6,158.4 283.0,160.9 295.5,162.5 C308.0,164.1 320.5,165.5 333.0,167.5 C345.5,169.5 358.6,172.1 370.5,174.2 C382.4,176.4 389.7,178.6 404.2,180.2 C418.8,181.9 439.4,182.6 458.0,184.0 C476.6,185.4 501.1,187.4 515.8,188.5 C530.4,189.6 536.0,190.5 546.0,190.8 C556.0,191.0 564.3,191.0 576.0,190.2 C587.7,189.5 603.9,187.9 616.0,186.0 C628.1,184.1 640.2,181.8 648.5,178.8 C656.8,175.7 663.5,168.9 666.0,167.5 C668.5,166.1 661.6,171.6 663.4,170.1 C665.2,168.6 672.8,162.0 676.7,158.4 C680.6,154.8 683.9,151.4 686.7,148.4 C689.5,145.3 692.3,141.4 693.4,140.0" fill="none" stroke="#8a7a60" stroke-opacity=".55" stroke-width=".7"/>
<path d="M50.0,314.0 C52.1,311.9 58.8,305.2 62.5,301.5 C66.2,297.8 68.8,295.2 72.5,291.5 C76.2,287.8 80.4,283.2 85.0,279.0 C89.6,274.8 94.6,270.5 100.0,266.5 C105.4,262.5 111.2,258.8 117.5,255.2 C123.8,251.7 131.2,248.0 137.5,245.2 C143.8,242.5 148.8,240.9 155.0,239.0 C161.2,237.1 168.8,235.3 175.0,234.0 C181.2,232.7 186.2,231.8 192.5,231.0 C198.8,230.2 205.4,229.5 212.5,229.0 C219.6,228.5 227.5,228.1 235.0,227.8 C242.5,227.4 248.9,227.4 257.8,227.0 C266.6,226.6 279.6,225.4 288.0,225.2 C296.4,225.1 300.5,225.6 308.0,226.0 C315.5,226.4 323.4,226.8 333.0,227.8 C342.6,228.8 354.7,230.3 365.5,232.0 C376.3,233.7 386.8,235.1 398.0,237.8 C409.2,240.4 423.8,244.6 433.0,247.8 C442.2,250.9 446.8,253.4 453.0,256.5 C459.2,259.6 465.5,263.2 470.5,266.5 C475.5,269.8 478.8,272.7 483.0,276.0 C487.2,279.3 490.0,281.6 495.5,286.5 C501.0,291.4 510.2,300.2 515.8,305.2 C521.2,310.2 524.3,313.0 528.5,316.5 C532.7,320.0 536.8,322.5 541.0,326.5 C545.2,330.5 549.3,335.7 553.5,340.2 C557.7,344.8 561.8,349.5 566.0,354.0 C570.2,358.5 574.3,362.8 578.5,367.0 C582.7,371.2 586.8,375.5 591.0,379.0 C595.2,382.5 599.3,385.2 603.5,387.8 C607.7,390.2 611.8,392.1 616.0,394.0 C620.2,395.9 624.3,397.8 628.5,399.0 C632.7,400.2 636.8,400.9 641.0,401.5 C645.2,402.1 649.3,402.8 653.5,402.8 C657.7,402.8 661.8,402.1 666.0,401.5 C670.2,400.9 674.3,400.0 678.5,399.0 C682.7,398.0 686.8,397.0 691.0,395.2 C695.2,393.5 699.3,391.0 703.5,388.2 C707.7,385.5 712.2,382.0 716.0,379.0 C719.8,376.0 722.7,373.6 726.0,370.2 C729.3,366.9 733.1,362.8 736.0,359.0 C738.9,355.2 741.0,351.9 743.5,347.8 C746.0,343.6 748.9,338.2 751.0,334.0 C753.1,329.8 754.3,326.9 756.0,322.8 C757.7,318.6 759.5,313.8 761.0,309.0 C762.5,304.2 763.7,299.0 764.8,294.0 C765.8,289.0 766.5,283.8 767.2,279.0 C768.0,274.2 768.6,269.8 769.2,265.2 C769.9,260.7 770.3,256.7 771.0,251.5 C771.7,246.3 772.7,240.2 773.5,234.0 C774.3,227.8 775.6,217.3 776.0,214.0" fill="none" stroke="#8a7a60" stroke-opacity=".55" stroke-width=".7"/>
<path d="M860.3,140.1 C860.6,143.5 861.5,153.1 862.1,160.2 C862.6,167.2 863.0,175.4 863.6,182.7 C864.1,190.0 864.2,198.3 865.3,203.9 C866.5,209.6 868.5,211.9 870.4,216.5 C872.2,221.1 874.1,225.5 876.6,231.5 C879.1,237.6 882.9,247.0 885.4,252.8 C887.9,258.6 890.6,264.3 891.6,266.6" fill="none" stroke="#8a7a60" stroke-opacity=".55" stroke-width=".7"/>
<path d="M789.0,588.2 C791.9,585.3 801.1,575.0 806.5,570.7 C812.0,566.3 816.5,563.8 821.5,561.9 C826.6,560.0 831.1,559.5 836.6,559.4 C842.0,559.3 851.2,560.9 854.1,561.1" fill="none" stroke="#8a7a60" stroke-opacity=".55" stroke-width=".7"/>
<path d="M258.0,294.0 C265.6,290.8 272.6,290.4 283.0,289.5 C293.4,288.6 308.0,288.2 320.5,288.5 C333.0,288.8 346.8,289.1 358.0,291.5 C369.2,293.9 378.8,297.3 388.0,302.8 C397.2,308.2 405.5,315.5 413.0,324.0 C420.5,332.5 427.6,344.8 433.0,354.0 C438.4,363.2 442.0,370.0 445.5,379.0 C449.0,388.0 450.9,397.5 454.2,407.8 C457.6,418.0 462.6,428.0 465.5,440.5 C468.4,453.0 470.6,469.7 471.8,483.0 C472.9,496.3 473.3,508.8 472.5,520.5 C471.7,532.2 469.6,544.0 466.8,553.0 C463.9,562.0 460.3,566.8 455.5,574.2 C450.7,581.8 445.9,590.7 438.0,598.0 C430.1,605.3 439.3,632.2 408.0,618.0 C376.7,603.8 280.1,537.0 250.0,513.0 C219.9,489.0 233.3,486.3 227.5,474.2 C221.7,462.2 219.0,451.5 215.0,440.5 C211.0,429.5 205.5,418.2 203.8,408.0 C202.0,397.8 203.7,388.0 204.5,379.0 C205.3,370.0 206.2,362.3 208.8,354.0 C211.3,345.7 215.2,336.5 220.0,329.0 C224.8,321.5 231.2,314.8 237.5,309.0 C243.8,303.2 250.4,297.2 258.0,294.0Z" fill="none" stroke="#8a6a55" stroke-opacity=".55" stroke-width=".7"/>
<path d="M323.0,370.2 C330.5,368.2 337.6,369.4 345.5,371.5 C353.4,373.6 363.4,378.2 370.5,382.8 C377.6,387.3 383.9,394.8 388.0,399.0 C392.1,403.2 392.1,402.3 395.0,408.0 C397.9,413.7 402.5,424.7 405.5,433.0 C408.5,441.3 411.2,448.4 413.0,458.0 C414.8,467.6 416.4,480.9 416.0,490.5 C415.6,500.1 413.1,508.0 410.5,515.5 C407.9,523.0 404.2,529.9 400.5,535.5 C396.8,541.1 393.4,544.7 388.0,549.2 C382.6,553.8 377.2,561.5 368.0,563.0 C358.8,564.5 344.7,565.1 333.0,558.0 C321.3,550.9 305.3,531.5 298.0,520.5 C290.7,509.5 291.3,500.1 289.2,491.8 C287.2,483.4 286.8,479.0 285.5,470.5 C284.2,462.0 281.3,451.0 281.8,440.5 C282.2,430.0 284.9,417.2 288.0,407.8 C291.1,398.3 294.7,390.2 300.5,384.0 C306.3,377.8 315.5,372.3 323.0,370.2Z" fill="none" stroke="#8a6a55" stroke-opacity=".55" stroke-width=".7"/>
</g>
<path d="M250.4,256.3 L252.5,257.5 L256.7,257.5 L257.1,261.3 L259.2,264.2 L259.6,267.9 L261.3,266.7 L261.7,262.9 L265.0,262.5 L266.7,264.6 L265.9,267.1 L263.4,268.8 L265.0,271.7 L267.5,275.0 L267.1,277.5 L264.2,278.4 L259.2,280.9 L255.8,278.8 L253.8,275.0 L252.9,269.2 L250.0,267.9 L250.8,263.4Z" fill="#fff"/>
<path d="M863.4,281.8 L862.2,282.1 L861.3,282.5 L861.4,284.1 L859.9,284.2 L858.5,284.8 L858.8,286.3 L857.5,286.8 L856.7,287.7 L855.3,287.8 L855.9,289.4 L853.8,289.5 L853.9,291.1 L852.6,291.0 L852.5,292.2 L852.7,293.3 L852.5,294.2 L853.4,295.3 L852.7,296.5 L853.9,297.7 L854.1,299.1 L854.6,299.7 L855.3,301.0 L854.9,302.1 L855.9,302.9 L856.3,303.9 L856.2,305.3 L858.1,305.4 L858.4,307.2 L859.4,308.0 L859.2,309.5 L861.0,309.1 L860.5,310.4 L862.4,311.0 L863.2,311.8 L862.9,313.0 L864.2,313.5 L863.4,315.6 L863.9,315.9 L865.6,316.3 L865.5,318.0 L866.4,318.8 L866.4,320.0 L867.5,321.3 L867.0,322.8 L866.9,323.8 L866.8,324.6 L867.3,326.0 L867.9,326.7 L868.3,327.7 L869.2,329.3 L869.1,330.2 L869.4,331.3 L869.0,332.4 L869.6,333.5 L870.0,334.3 L871.3,334.5 L871.4,336.0 L871.2,337.0 L871.7,337.6 L872.3,338.8 L873.3,338.2 L872.3,336.9 L873.6,335.6 L873.8,335.0 L873.9,333.6 L872.9,332.6 L873.0,331.6 L872.4,331.1 L873.8,329.3 L872.4,328.3 L872.8,327.5 L872.5,326.7 L873.4,325.7 L872.5,324.4 L873.1,323.2 L872.6,322.1 L873.5,321.2 L872.8,320.0 L873.3,319.2 L873.4,318.0 L872.6,317.1 L873.1,316.1 L872.7,314.8 L872.2,314.1 L871.3,313.0 L871.2,311.6 L869.7,312.0 L869.9,310.2 L869.9,309.4 L868.3,308.4 L867.7,308.0 L868.3,306.5 L866.8,305.5 L867.3,305.0 L866.8,303.9 L866.4,302.6 L866.4,301.4 L865.6,300.3 L865.8,299.4 L865.4,298.7 L866.0,296.8 L864.3,296.6 L864.6,295.5 L865.1,294.6 L864.6,293.0 L864.8,292.4 L864.4,291.3 L864.4,290.2 L863.3,289.3 L864.7,287.9 L863.6,286.6 L864.4,285.4 L863.5,284.7Z" fill="#555555" stroke="#555555" stroke-width="1.2" stroke-linejoin="round"/>
<g clip-path="url(#ck)">
<path d="M372.0,571.7 C371.1,573.8 369.1,580.1 366.8,584.2 C364.6,588.4 361.8,591.9 358.5,596.7 C355.2,601.6 351.0,607.9 346.8,613.4 C342.6,619.0 337.4,624.5 333.5,630.1 C329.6,635.7 326.5,640.8 323.5,646.8 C320.4,652.8 316.2,664.3 315.1,666.0 C314.0,667.6 317.4,654.9 316.8,656.7 C316.3,658.5 313.0,670.3 311.8,676.7 C310.6,683.1 310.1,692.0 309.8,695.1 C309.5,698.1 310.1,693.8 310.0,695.0 C310.0,696.3 309.8,699.8 309.4,702.5 C309.0,705.3 308.5,708.4 307.8,711.3 C307.0,714.2 305.7,717.1 305.0,720.1 C304.4,723.0 304.4,725.9 303.8,728.8 C303.2,731.7 303.2,734.5 301.3,737.6 C299.4,740.7 296.1,744.3 292.5,747.6 C289.0,750.9 282.1,755.9 280.0,757.6 L100,815 L100,520 L372,520 Z" fill="#E8B268"/>
<path d="M325.1,543.4 C325.0,545.2 324.8,549.5 324.3,554.2 C323.7,558.9 323.6,565.2 321.8,571.7 C320.0,578.2 316.5,586.4 313.4,593.4 C310.4,600.4 306.5,606.7 303.4,613.4 C300.4,620.1 297.6,626.8 295.1,633.4 C292.6,640.1 290.0,648.0 288.4,653.5 C286.9,658.9 286.2,664.0 285.9,666.0 C285.6,667.9 287.5,660.2 286.8,665.0 C286.1,669.9 283.2,685.3 281.8,695.1 C280.4,704.8 279.5,714.5 278.4,723.4 C277.4,732.3 276.6,740.1 275.4,748.4 C274.3,756.8 272.4,769.3 271.8,773.5 L100,815 L100,520 L325,520 Z" fill="#E38B4B"/>
<path d="M293.4,540.0 C293.4,541.4 293.3,544.5 293.4,548.4 C293.6,552.2 294.5,558.6 294.3,563.4 C294.0,568.1 293.3,572.0 291.8,576.7 C290.2,581.4 287.9,587.0 285.1,591.7 C282.3,596.5 278.7,600.6 275.1,605.1 C271.5,609.5 267.6,614.5 263.4,618.4 C259.2,622.3 255.1,625.6 250.1,628.4 C245.0,631.2 238.9,634.1 233.4,635.1 C227.8,636.1 222.2,635.1 216.7,634.3 C211.1,633.4 202.8,630.8 200.0,630.1 L150,630 L150,520 L293,520 Z" fill="#DB5632"/>
<path d="M305.7,732.0 L310.0,735.1 L311.9,738.2 L308.2,741.3 L309.4,746.4 L306.9,751.4 L302.5,753.9 L298.8,756.4 L295.0,758.9 L292.5,763.2 L288.1,765.1 L289.4,762.0 L291.9,758.2 L289.4,755.1 L288.1,751.4 L291.3,748.2 L295.0,745.1 L298.8,742.0 L302.5,737.6 L304.4,733.8Z" fill="#E8B268"/>
<path d="M198.8,787.2 L202.5,782.2 L212.5,779.8 L215.0,783.5 L207.5,787.2Z" fill="#E38B4B"/>
<path d="M188.8,789.8 L193.8,788.0 L196.2,790.5 L191.2,793.0Z" fill="#E38B4B"/>
<path d="M178.8,793.0 L183.8,791.0 L187.0,793.5 L181.2,796.5Z" fill="#E38B4B"/>
<path d="M163.8,798.0 L168.8,795.5 L172.5,798.0 L167.0,801.5Z" fill="#E38B4B"/>
<path d="M372.0,571.7 C371.1,573.8 369.1,580.1 366.8,584.2 C364.6,588.4 361.8,591.9 358.5,596.7 C355.2,601.6 351.0,607.9 346.8,613.4 C342.6,619.0 337.4,624.5 333.5,630.1 C329.6,635.7 326.5,640.8 323.5,646.8 C320.4,652.8 316.2,664.3 315.1,666.0 C314.0,667.6 317.4,654.9 316.8,656.7 C316.3,658.5 313.0,670.3 311.8,676.7 C310.6,683.1 310.1,692.0 309.8,695.1 C309.5,698.1 310.1,693.8 310.0,695.0 C310.0,696.3 309.8,699.8 309.4,702.5 C309.0,705.3 308.5,708.4 307.8,711.3 C307.0,714.2 305.7,717.1 305.0,720.1 C304.4,723.0 304.4,725.9 303.8,728.8 C303.2,731.7 303.2,734.5 301.3,737.6 C299.4,740.7 296.1,744.3 292.5,747.6 C289.0,750.9 282.1,755.9 280.0,757.6" fill="none" stroke="#8a7a60" stroke-opacity=".55" stroke-width=".7"/>
<path d="M325.1,543.4 C325.0,545.2 324.8,549.5 324.3,554.2 C323.7,558.9 323.6,565.2 321.8,571.7 C320.0,578.2 316.5,586.4 313.4,593.4 C310.4,600.4 306.5,606.7 303.4,613.4 C300.4,620.1 297.6,626.8 295.1,633.4 C292.6,640.1 290.0,648.0 288.4,653.5 C286.9,658.9 286.2,664.0 285.9,666.0 C285.6,667.9 287.5,660.2 286.8,665.0 C286.1,669.9 283.2,685.3 281.8,695.1 C280.4,704.8 279.5,714.5 278.4,723.4 C277.4,732.3 276.6,740.1 275.4,748.4 C274.3,756.8 272.4,769.3 271.8,773.5" fill="none" stroke="#8a7a60" stroke-opacity=".55" stroke-width=".7"/>
<path d="M293.4,540.0 C293.4,541.4 293.3,544.5 293.4,548.4 C293.6,552.2 294.5,558.6 294.3,563.4 C294.0,568.1 293.3,572.0 291.8,576.7 C290.2,581.4 287.9,587.0 285.1,591.7 C282.3,596.5 278.7,600.6 275.1,605.1 C271.5,609.5 267.6,614.5 263.4,618.4 C259.2,622.3 255.1,625.6 250.1,628.4 C245.0,631.2 238.9,634.1 233.4,635.1 C227.8,636.1 222.2,635.1 216.7,634.3 C211.1,633.4 202.8,630.8 200.0,630.1" fill="none" stroke="#8a7a60" stroke-opacity=".55" stroke-width=".7"/>
</g>
<g fill="none" stroke="#4c4c4c" stroke-width="1.3" stroke-linejoin="round" stroke-linecap="round">
<path d="M220.0,90.0 L208.8,152.5"/>
<path d="M110.0,125.0 L110.6,126.3 L111.1,127.8 L112.5,129.2 L112.6,131.0 L113.4,132.1 L114.7,133.4 L115.0,135.0 L115.8,136.4 L116.9,137.3 L118.3,137.8 L118.9,139.7 L120.6,140.1 L121.4,141.6 L122.5,142.5 L124.0,143.2 L125.7,142.7 L127.4,142.4 L128.6,142.8 L130.4,143.8 L131.8,143.7 L133.4,143.4 L135.0,143.8 L136.2,144.1 L137.7,144.1 L139.1,145.4 L140.4,145.0 L141.7,146.0 L143.2,146.2 L144.6,146.6 L145.9,146.0 L147.6,146.4 L148.5,147.5 L150.0,147.5 L151.5,147.2 L153.3,147.0 L154.8,146.5 L156.0,146.8 L157.9,146.7 L159.2,146.8 L160.9,146.8 L162.5,146.2 L164.0,146.3 L165.8,146.5 L167.0,145.8 L168.9,145.2 L170.1,145.6 L171.8,145.8 L173.3,144.8 L175.0,145.0 L176.6,145.2 L177.9,145.4 L179.1,145.8 L180.5,146.4 L181.8,146.7 L183.2,147.2 L184.6,147.2 L185.7,147.9 L187.1,148.2 L188.8,148.4 L190.0,148.8 L191.2,149.4 L192.6,149.9 L194.4,149.6 L195.6,150.0 L197.3,150.0 L198.6,151.1 L200.0,151.0 L201.3,150.8 L202.8,151.1 L204.5,152.2 L206.1,152.0 L207.2,152.4 L208.8,152.5"/>
<path d="M208.8,152.5 L209.2,154.0 L210.6,155.0 L211.3,156.4 L212.0,157.8 L212.7,159.0 L213.8,160.0 L212.4,161.1 L211.8,162.4 L211.0,163.7 L210.2,164.8 L209.1,166.2 L209.0,167.6 L208.1,168.9 L206.4,169.9 L206.0,171.5 L205.0,172.5 L204.0,173.8 L203.7,175.2 L202.6,176.2 L202.2,177.6 L200.9,178.8 L200.2,179.7 L199.8,181.4 L198.6,182.5 L198.4,183.8 L197.5,185.0 L197.5,186.5 L198.0,187.7 L198.9,189.3 L198.5,190.8 L199.5,192.0 L200.0,193.6 L200.0,195.0 L199.8,196.6 L198.7,197.8 L198.3,199.4 L197.2,200.5 L196.8,202.4 L196.2,203.8 L189.2,237.8"/>
<path d="M233.8,92.0 L233.2,93.1 L232.8,94.9 L232.3,96.2 L232.5,97.5 L232.3,98.7 L232.1,100.3 L231.3,101.4 L231.9,103.1 L230.7,104.4 L230.7,105.6 L230.5,107.2 L230.7,108.8 L230.0,110.0 L229.8,111.3 L230.6,112.9 L231.3,114.1 L231.3,115.6 L232.2,116.5 L231.6,118.5 L232.5,119.4 L233.2,120.6 L233.3,122.2 L233.5,123.6 L233.8,125.0 L234.7,126.0 L235.2,127.6 L236.3,128.7 L237.2,130.0 L237.5,131.4 L238.8,132.4 L239.5,133.5 L240.0,135.0 L241.3,136.0 L241.0,137.6 L241.9,139.1 L243.5,140.0 L244.2,140.8 L244.8,142.6 L245.1,143.7 L246.2,145.0 L247.8,145.6 L248.7,146.5 L250.0,147.5 L249.2,148.9 L249.2,150.5 L248.3,151.6 L248.8,153.3 L248.1,154.3 L247.3,155.7 L246.8,157.2 L246.4,158.4 L246.2,160.0 L246.0,161.6 L244.7,163.1 L244.2,164.5 L243.7,166.0 L242.5,167.5 L243.9,168.2 L245.0,169.0 L245.9,170.3 L247.4,171.1 L248.8,171.3 L250.0,172.5 L251.1,173.3 L251.5,175.1 L252.4,176.1 L252.7,177.4 L253.3,178.8 L254.3,179.7 L254.6,181.3 L255.1,182.8 L256.0,184.0 L256.7,184.9 L257.5,186.2 L258.3,187.7 L259.0,188.8 L259.3,190.4 L260.4,191.8 L261.5,193.3 L261.2,194.9 L262.6,196.0 L263.0,197.5 L264.6,197.7 L266.1,197.4 L267.4,197.9 L268.9,197.0 L270.3,197.2 L271.7,197.1 L273.0,197.5 L274.6,197.7 L276.0,197.8 L277.2,197.6 L278.9,197.7 L280.1,198.7 L281.4,198.5 L283.0,198.8 L284.4,199.0 L285.8,199.6 L287.4,199.3 L289.1,199.3 L290.5,200.0 L290.6,198.5 L291.6,197.2 L292.1,195.7 L293.0,194.6 L292.6,193.1 L294.2,191.9 L294.2,190.5"/>
<path d="M76.2,211.5 L141.8,229.0 L189.2,237.8 L236.2,248.5 L258.0,251.0 L284.2,255.2"/>
<path d="M141.8,229.0 L127.0,291.5 L200.0,396.5 L200.0,396.5 L200.3,397.9 L200.6,399.4 L201.3,400.7 L201.5,402.1 L201.7,403.8 L201.6,405.2 L201.9,406.7 L202.5,408.0 L203.5,409.5 L203.3,411.0 L204.3,412.3 L204.6,414.0 L205.0,415.5 L204.2,416.7 L203.2,418.3 L202.0,419.5 L200.6,420.2 L199.9,421.6 L198.8,423.0 L198.4,424.4 L197.5,425.5 L196.3,426.5 L195.4,427.9 L194.8,429.3 L194.5,430.6 L193.5,432.0 L192.5,433.0 L192.9,434.5 L193.2,436.0 L192.7,437.3 L193.2,438.7 L193.6,440.2 L193.3,441.7 L193.6,443.0 L193.7,444.6 L193.5,446.1 L193.8,447.5"/>
<path d="M236.2,248.5 L218.8,356.5 L218.8,356.5 L213.8,376.5 L212.5,375.7 L211.0,375.6 L209.3,375.4 L207.9,375.2 L206.6,375.1 L205.3,373.9 L203.8,374.0 L203.2,375.6 L202.5,377.4 L202.0,379.0 L201.9,380.7 L201.8,382.1 L201.6,383.3 L201.3,385.0 L201.1,386.4 L201.4,388.0 L200.8,389.0 L200.6,390.7 L200.8,392.3 L200.0,393.5 L200.5,394.9 L200.0,396.5"/>
<path d="M218.8,356.5 L258.0,362.0 L303.8,369.0 L425.0,378.5 L516.0,380.2 L553.5,380.2"/>
<path d="M294.2,190.5 L281.8,277.0"/>
<path d="M294.2,190.5 L401.8,200.0"/>
<path d="M408.0,115.0 L404.2,181.2 L401.8,200.0 L399.8,245.2 L396.0,288.2"/>
<path d="M404.2,181.2 L517.2,187.5"/>
<path d="M507.2,117.5 L508.1,119.0 L507.8,120.4 L508.1,121.8 L507.9,122.9 L508.8,124.2 L508.6,125.8 L508.4,127.4 L508.7,128.8 L509.2,130.0 L509.3,131.2 L509.9,132.8 L509.6,134.3 L510.5,135.4 L510.2,136.9 L509.9,138.8 L510.5,140.0 L510.5,141.3 L511.0,143.0 L510.8,144.3 L511.9,145.5 L512.1,147.2 L512.8,148.5 L512.5,150.0 L512.3,151.3 L513.5,152.6 L513.7,154.3 L513.4,155.6 L513.3,157.4 L513.9,158.6 L514.2,160.0 L514.2,161.7 L514.9,163.1 L514.6,164.8 L514.9,165.9 L515.4,167.3 L515.6,169.0 L516.0,170.6 L515.7,171.9 L516.0,173.5 L516.0,175.0 L516.0,176.6 L515.8,178.3 L516.8,179.5 L517.2,181.2 L516.7,183.0 L516.5,184.3 L517.1,185.9 L517.2,187.5 L517.3,189.2 L518.3,190.2 L518.3,191.9 L519.0,193.7 L519.0,195.0 L519.1,196.6 L519.0,197.7 L519.3,199.4 L520.0,200.8 L519.4,202.5 L519.8,203.8 L519.0,236.5"/>
<path d="M281.8,277.0 L314.2,282.0 L396.0,288.2 L428.8,290.8"/>
<path d="M314.2,282.0 L303.8,369.0 L299.2,408.0 L289.2,491.8"/>
<path d="M428.8,290.8 L428.8,313.2 L425.0,378.5"/>
<path d="M399.8,245.2 L486.8,248.5 L495.5,252.8 L505.5,252.0 L516.0,255.2 L517.2,256.5"/>
<path d="M519.0,236.5 L518.7,238.2 L518.9,239.3 L518.5,240.6 L518.6,242.4 L517.8,243.5 L517.8,244.9 L518.0,246.5 L518.4,247.8 L518.3,249.2 L518.2,251.1 L517.1,252.0 L516.9,253.6 L517.4,254.9 L517.2,256.5 L517.8,258.2 L518.6,259.3 L519.2,260.5 L519.9,262.4 L521.0,263.3 L521.2,264.8 L522.2,266.3 L522.9,267.5 L523.5,269.0 L524.6,270.4 L524.6,271.8 L525.0,273.1 L525.5,274.8 L525.9,276.5 L526.2,277.7 L527.2,279.0 L528.1,280.2 L528.5,281.9 L529.1,283.4 L529.1,285.2 L529.8,286.5 L530.3,287.7 L530.2,289.1 L531.0,290.6 L531.3,291.8 L531.0,293.7 L531.8,294.6 L532.6,296.1 L532.0,297.4 L532.2,298.7 L533.6,300.1 L533.5,301.5 L534.5,302.5 L534.6,304.0 L535.5,305.5 L536.3,306.9 L537.7,307.7 L537.8,309.0 L539.2,309.9 L539.3,311.6 L540.8,312.6 L541.0,314.0 L542.1,315.1 L543.5,316.0 L544.6,316.9 L545.5,318.1 L546.4,318.9 L547.2,320.2 L546.8,321.6 L546.2,323.5 L546.1,324.7 L546.0,326.5 L547.2,327.5 L548.6,328.4 L549.9,329.3 L550.6,330.8 L552.1,331.5 L553.0,332.8 L553.5,380.2 L554.8,390.2 L557.2,407.8 L557.2,408.0 L559.0,454.2"/>
<path d="M428.8,313.2 L516.0,314.0 L539.8,314.0"/>
<path d="M519.0,236.5 L602.2,234.0"/>
<path d="M533.5,301.5 L599.8,298.5 L603.5,302.8"/>
<path d="M554.8,390.2 L633.5,387.8 L629.8,397.8 L639.8,397.0"/>
<path d="M582.2,165.0 L583.1,166.3 L582.5,167.8 L582.3,169.6 L583.0,170.4 L582.3,172.0 L584.1,173.3 L583.5,175.0 L583.1,176.4 L582.1,177.7 L581.5,179.3 L579.3,179.5 L579.4,181.8 L578.1,182.7 L578.2,184.0 L576.8,185.3 L575.4,185.8 L574.8,187.5 L574.3,189.4 L576.0,190.1 L574.8,192.2 L575.5,193.7 L575.6,195.0 L576.0,196.7 L576.0,198.0 L577.1,198.9 L576.3,200.8 L576.9,202.6 L577.2,203.8 L577.0,205.7 L577.7,207.3 L578.5,209.0 L579.7,209.9 L580.7,211.4 L582.1,212.3 L583.6,212.2 L584.1,213.8 L586.0,214.0 L587.6,215.2 L588.4,215.8 L590.0,217.1 L591.0,217.8 L592.1,219.0 L593.1,220.5 L594.7,220.5 L596.1,221.6 L596.6,222.5 L597.3,223.9 L599.4,224.3 L599.8,225.8 L600.6,226.8 L602.2,227.8 L602.5,228.9 L603.3,231.0 L603.5,232.3 L603.0,234.1 L603.6,235.4 L603.7,236.8 L604.3,238.5 L604.6,239.9 L604.8,241.5 L605.5,243.0 L606.1,244.1 L607.0,245.0 L608.9,246.0 L610.1,247.0 L610.1,248.0 L611.2,249.2 L612.4,250.2 L612.7,251.9 L614.3,252.3 L614.8,254.0 L615.8,255.5 L615.7,256.8 L616.9,258.2 L618.3,259.0 L618.9,260.5 L619.8,262.0 L621.6,262.6 L622.2,264.0 L621.6,265.5 L620.9,266.6 L620.5,268.0 L621.2,269.4 L620.6,271.4 L620.9,272.2 L619.7,274.0 L619.8,275.2 L618.3,275.9 L617.0,276.8 L616.3,277.2 L614.7,278.5 L613.3,277.8 L612.1,279.3 L610.9,279.5 L609.6,280.8 L608.5,281.5 L609.0,282.7 L609.4,284.3 L610.3,285.4 L610.7,287.4 L610.5,288.3 L610.7,290.0 L611.0,291.5 L610.9,292.8 L609.3,294.0 L607.7,294.9 L608.2,296.7 L606.2,297.2 L605.4,298.4 L604.7,299.7 L603.7,301.0 L603.5,302.8 L604.0,304.3 L603.8,305.8 L604.9,306.7 L603.9,308.6 L604.2,309.9 L604.8,311.5 L606.1,312.4 L607.0,313.8 L607.9,315.1 L607.4,317.0 L609.2,317.3 L609.0,319.3 L610.3,320.1 L611.0,321.5 L612.7,322.0 L613.1,323.3 L613.9,324.6 L614.8,326.0 L616.1,327.4 L617.8,327.4 L618.5,329.0 L619.7,330.3 L620.8,331.4 L622.6,331.3 L623.5,332.0 L624.2,333.7 L626.0,334.0 L625.4,335.4 L626.3,337.4 L626.8,338.8 L626.8,340.3 L626.5,341.9 L626.8,343.0 L627.8,345.0 L627.2,346.5 L628.4,347.2 L628.7,349.4 L630.1,350.7 L631.6,351.2 L632.4,352.6 L633.5,354.0 L634.9,354.9 L635.1,356.6 L636.8,356.9 L637.6,358.8 L639.3,358.9 L639.8,360.9 L641.0,361.5 L641.0,362.8 L642.5,363.9 L643.2,365.3 L643.1,367.4 L643.9,368.6 L644.1,370.1 L644.8,371.5 L646.5,372.3 L646.9,374.6 L648.5,375.2 L647.8,376.9 L647.7,378.1 L647.9,380.2 L646.7,380.8 L646.7,382.3 L646.0,384.0 L645.5,385.5 L644.1,387.0 L644.0,388.6 L643.4,390.2 L642.2,391.5 L641.3,392.9 L641.0,394.4 L641.7,395.6 L641.3,397.5 L639.8,398.7 L640.9,400.2 L639.8,401.5 L639.5,403.0 L638.2,404.2 L637.5,405.9 L637.2,407.8 L637.6,409.3 L636.5,411.0 L635.1,411.7 L635.5,413.9 L634.1,415.0 L634.0,416.1 L634.7,418.4 L633.5,419.2 L632.6,420.2 L632.8,422.2 L631.8,423.3 L631.5,424.5 L630.8,425.5 L629.4,426.9 L629.3,428.6 L628.3,429.6 L626.9,429.9 L626.1,431.6 L626.0,433.0 L625.9,434.5 L625.1,436.0 L623.7,436.6 L624.5,438.7 L623.3,439.9 L622.8,441.5 L622.7,442.9 L622.3,444.2 L621.7,445.6 L620.2,446.8 L619.8,448.0 L619.2,449.5 L620.1,451.1 L619.0,452.0 L618.8,453.4 L620.0,455.0 L618.8,456.4 L619.0,458.1 L619.6,459.5 L619.3,460.5 L619.0,462.0 L618.4,463.4 L619.0,465.0 L619.7,466.2 L619.3,468.1 L620.0,469.2 L622.1,470.7 L621.4,472.1 L622.9,473.6 L623.5,475.0 L624.2,476.5 L625.0,477.4 L624.8,479.2 L623.3,480.4 L623.9,482.0 L623.2,483.2 L621.5,484.2 L621.1,486.2 L620.8,487.1 L619.7,488.7 L619.4,490.0 L618.9,491.2 L618.5,493.0 L618.6,494.4 L617.3,495.6 L618.1,497.7 L617.6,498.7 L617.3,500.4 L616.8,502.1 L615.7,503.6 L615.8,504.9 L614.7,505.8 L614.8,507.5 L614.8,509.2 L648.5,507.2 L648.6,509.0 L649.4,510.4 L649.2,512.1 L649.9,513.4 L649.9,514.9 L650.8,516.5 L651.0,518.0 L651.3,519.5 L651.7,521.0 L652.7,522.3 L653.2,524.1 L653.5,525.5"/>
<path d="M612.2,165.0 L613.1,166.2 L614.3,167.1 L615.7,167.4 L616.6,169.0 L617.6,170.1 L619.1,170.3 L620.0,171.4 L621.2,171.9 L622.7,171.7 L624.4,172.2 L625.4,172.4 L627.2,172.5 L628.3,172.7 L629.7,173.0 L631.1,173.2 L632.8,173.1 L634.1,173.8 L635.2,173.8 L636.7,174.2 L638.0,174.5 L639.3,174.7 L640.7,175.3 L642.2,176.2 L643.4,176.3 L644.9,176.5 L646.1,176.6 L647.5,177.6 L649.1,178.3 L650.0,180.1 L650.8,181.3 L650.6,183.1 L652.1,184.0 L651.9,185.4 L652.5,186.8 L653.4,188.4 L654.8,189.3 L655.9,190.9 L655.8,192.8 L655.8,194.4 L655.4,195.9"/>
<path d="M614.8,254.0 L658.5,251.0"/>
<path d="M666.0,269.5 L672.2,324.0 L671.0,339.0 L666.0,354.0"/>
<path d="M678.5,264.8 L709.8,262.0 L732.2,258.5"/>
<path d="M709.8,262.0 L718.0,319.5"/>
<path d="M648.5,375.2 L649.9,374.1 L651.1,373.7 L652.6,373.2 L654.0,372.1 L655.5,371.1 L657.2,371.2 L658.5,370.2 L659.4,368.6 L659.8,366.5 L661.2,366.1 L662.3,365.3 L663.7,364.6 L664.6,363.0 L665.9,361.8 L667.2,361.5 L667.2,360.2 L666.8,358.5 L666.6,357.1 L666.1,355.3 L666.0,354.0 L667.3,353.8 L669.0,352.8 L670.2,353.4 L672.0,352.7 L672.9,352.2 L674.9,352.1 L676.0,351.5 L677.6,351.6 L678.5,350.6 L680.1,351.2 L681.4,350.1 L682.9,350.5 L684.5,349.7 L685.6,349.2 L687.3,349.3 L688.5,349.0 L689.6,348.4 L690.1,346.8 L691.6,346.1 L692.1,344.6 L693.5,344.0 L694.9,344.4 L696.6,345.0 L698.0,344.9 L699.6,344.6 L701.0,345.2 L701.4,343.8 L702.1,342.6 L702.6,341.2 L702.9,339.8 L704.5,338.9 L704.3,337.1 L704.7,335.7 L705.4,334.4 L707.2,333.1 L707.0,331.8 L707.6,330.0 L708.5,329.0 L710.1,328.3 L710.9,327.5 L711.5,326.0 L713.0,324.9 L713.8,323.6 L714.9,322.9 L716.4,321.9 L716.6,320.3 L718.0,319.5 L719.4,320.4 L720.4,321.3 L721.7,321.8 L722.9,322.8 L724.6,323.4 L726.2,323.3 L727.2,324.6 L728.5,325.2 L730.3,325.6 L731.6,325.8 L733.2,325.8 L734.7,325.8 L736.6,325.5 L738.0,326.4 L739.3,326.5 L741.0,326.5 L742.3,325.7 L743.6,325.5 L745.2,326.0 L747.0,325.6 L748.2,324.2 L749.5,324.8 L751.0,324.0 L752.1,325.1 L753.2,326.4 L755.1,326.4 L756.0,327.8 L757.1,326.5 L757.3,324.9 L757.6,323.2 L758.8,321.9 L759.1,320.7 L759.8,319.0 L760.2,317.6 L762.1,316.6 L762.3,315.3 L762.6,313.8 L764.0,312.5 L764.8,311.3 L765.6,310.1 L766.7,308.7 L768.0,307.8 L768.5,306.5 L769.7,305.4 L771.2,304.7 L772.7,304.6 L774.0,304.1 L774.8,302.5 L776.2,302.0 L777.5,300.5 L778.1,298.8 L779.3,297.7 L780.3,296.6 L780.9,295.3 L781.1,293.9 L781.4,291.9 L780.7,290.3 L781.4,289.2 L781.8,287.7 L782.5,286.1 L782.3,284.7 L782.1,283.0 L782.8,281.6 L782.0,280.0 L782.4,278.6 L781.3,277.4 L781.9,275.4 L781.0,274.1 L780.4,272.8 L780.3,271.4 L780.4,269.9 L781.0,268.0 L780.4,266.5 L780.2,265.3 L780.3,263.5 L780.0,262.2 L779.7,260.9 L779.4,259.1 L779.5,257.8"/>
<path d="M778.4,244.3 L778.4,247.6 L784.2,286.0 L785.3,294.6"/>
<path d="M788.4,237.6 L789.2,242.6 L860.1,228.4 L860.1,228.4 L861.7,229.2 L863.5,230.1 L864.0,231.6 L865.3,232.7 L865.1,234.2 L866.1,235.3 L866.8,236.8 L867.9,237.7 L869.4,238.7 L870.9,239.6 L871.8,240.9 L871.6,242.7 L870.7,244.1 L870.0,245.6 L869.2,247.0 L868.5,248.4 L869.4,249.7 L869.3,251.2 L869.8,252.9 L870.3,254.0 L871.2,255.3 L871.8,256.8 L872.7,257.9 L874.0,258.8 L874.2,260.6 L875.7,261.4 L876.7,262.9 L877.9,263.7 L878.5,265.1 L877.4,266.0 L876.5,267.2 L875.6,268.5 L874.9,270.2 L873.7,271.1 L872.9,272.2 L871.8,273.5 L870.8,274.5 L869.4,275.6 L868.5,276.8 L866.6,277.8"/>
<path d="M869.9,277.8 L866.6,277.8 L785.3,294.6"/>
<path d="M871.8,240.9 L886.0,256.8"/>
<path d="M648.5,384.0 L668.5,382.8 L668.5,379.0 L668.5,379.0 L700.0,375.9 L723.4,374.2 L743.4,371.7 L778.4,366.7 L816.8,359.2 L872.0,348.3 L873.7,347.3 L875.4,346.6"/>
<path d="M744.2,371.7 L745.5,370.7 L747.2,369.7 L748.6,369.4 L750.0,368.4 L751.5,367.4 L752.8,366.3 L753.7,364.9 L755.2,364.0 L756.7,363.4 L757.3,361.7 L757.2,359.8 L758.5,358.6 L758.4,356.7 L759.4,355.6 L760.8,354.5 L761.7,353.6 L763.3,353.1 L764.3,351.7 L765.7,351.4 L766.7,350.0 L767.4,348.5 L768.9,347.8 L770.1,346.7"/>
<path d="M756.0,327.8 L756.5,328.9 L756.9,330.3 L758.5,331.1 L758.3,332.8 L759.2,334.1 L759.9,335.6 L761.1,336.3 L761.4,337.7 L762.2,339.0 L763.1,340.2 L764.6,341.1 L766.0,342.0 L766.5,343.6 L767.3,344.7 L769.1,345.3 L769.8,346.5 L770.1,346.7 L771.3,347.7 L772.0,349.0 L773.1,350.5 L774.4,351.2 L775.9,351.9 L776.7,353.4 L778.1,352.8 L779.3,351.8 L781.0,351.9 L782.1,350.4 L783.4,350.0 L784.9,349.2 L786.1,348.4 L787.3,347.9 L788.7,347.2 L790.1,346.7 L791.6,346.2 L792.8,345.4 L794.1,344.4 L795.7,344.0 L796.8,343.3 L798.0,342.4 L798.7,341.0 L800.1,340.0 L799.7,338.3 L800.5,336.5 L800.0,335.1 L800.5,333.6 L801.0,332.4 L801.7,330.8 L802.0,329.3 L802.7,328.1 L803.8,326.6 L803.8,325.1 L804.8,323.6 L805.0,322.0 L805.4,320.8 L806.1,319.4 L806.3,317.6 L808.1,317.8 L809.2,318.0 L810.9,317.5 L812.5,318.2 L812.9,316.7 L813.8,315.5 L813.5,314.1 L814.4,313.0 L814.9,311.3 L815.1,310.1 L816.3,309.4 L818.0,308.8 L818.8,307.6 L819.3,306.2 L820.5,304.8 L821.7,303.9 L822.6,302.5 L823.0,300.9 L823.8,299.5 L824.1,298.3 L824.0,296.7 L824.7,295.0 L824.9,293.6 L824.5,291.9 L824.1,290.5 L824.4,288.8"/>
<path d="M803.8,292.5 L804.0,294.2 L804.8,295.4 L804.4,297.3 L805.1,298.6 L805.0,299.9 L805.3,301.8 L805.7,303.2 L806.3,301.7 L807.5,300.8 L808.7,300.2 L809.8,298.6 L810.6,297.6 L811.3,296.3 L812.1,295.1 L813.6,294.3 L814.6,293.3 L815.1,291.9 L816.2,292.8 L818.2,293.1 L819.9,292.5 L820.6,291.4 L822.1,290.8 L823.3,289.7 L824.4,288.8 L826.0,289.0 L827.4,288.3 L828.8,288.8 L830.2,289.4 L831.2,290.6 L831.6,291.9 L832.9,292.5 L833.8,293.8 L835.2,294.5 L835.9,295.8 L837.6,296.3 L839.0,296.8 L840.6,298.1 L842.0,298.4 L843.6,299.7 L845.1,300.0 L846.7,299.8 L848.9,300.0 L848.6,301.5 L849.8,303.4 L849.5,305.0 L848.3,306.4 L846.9,307.1 L845.7,308.8 L846.1,310.4 L845.0,312.3 L845.1,313.8"/>
<path d="M866.6,277.8 L871.6,305.4 L881.6,304.1"/>
<path d="M778.4,366.7 L778.5,368.5 L778.5,370.1 L779.2,371.7 L778.2,372.9 L777.1,374.1 L776.2,374.9 L774.4,375.6 L773.4,376.7 L772.1,377.9 L771.0,378.6 L770.1,380.0 L768.2,380.8 L766.6,381.0 L765.1,381.7 L763.8,383.2 L762.3,384.2 L761.7,385.9 L760.6,386.5 L759.4,387.8 L757.9,388.6 L756.7,389.2 L755.7,390.6 L754.4,391.4 L752.9,392.4 L751.7,393.4 L750.7,394.5 L749.2,394.5 L747.7,395.6 L746.5,396.0 L745.0,396.7 L743.7,397.6 L743.2,399.2 L742.3,400.0 L740.7,400.7 L740.0,401.7 L738.4,403.4 L738.3,405.1 L738.3,406.7 L738.4,408.4"/>
<path d="M633.5,419.2 L671.0,416.8 L716.0,412.5 L715.9,412.1 L738.4,408.4 L757.6,405.9"/>
<path d="M757.6,405.9 L771.7,398.7 L795.9,396.2 L798.4,398.4 L800.9,402.1 L821.0,398.7 L843.5,415.1"/>
<path d="M757.6,405.9 L756.9,407.5 L757.6,409.0 L756.6,410.3 L756.7,411.7 L758.4,412.2 L758.9,413.7 L760.4,414.5 L761.8,415.4 L763.0,416.3 L764.2,416.7 L765.5,417.2 L766.7,418.4 L768.0,419.5 L768.6,420.9 L769.7,422.6 L771.1,423.6 L771.7,425.1 L772.9,426.1 L774.0,427.3 L775.1,427.6 L776.2,428.4 L777.9,429.1 L778.7,430.5 L780.1,430.9 L781.4,432.0 L782.1,432.9 L783.4,433.9 L784.3,434.8 L785.7,435.5 L786.8,436.8 L788.0,437.9 L788.9,438.8 L790.7,439.6 L791.8,440.4 L792.4,441.7 L794.2,442.3 L795.1,443.4 L796.0,444.7 L797.1,446.2 L797.8,447.3 L798.3,449.3 L798.9,450.5 L800.1,451.8 L801.2,453.1 L801.5,454.9 L802.3,456.0 L803.5,457.4 L804.6,458.8 L805.1,460.1 L805.6,461.6 L806.6,462.9 L806.9,464.1 L808.2,465.0 L808.4,466.8"/>
<path d="M671.0,416.8 L671.5,480.5 L676.0,518.0"/>
<path d="M715.9,412.1 L723.4,436.8 L731.7,460.1 L731.7,460.1 L732.4,461.7 L733.1,463.1 L733.8,464.5 L734.4,465.9 L734.9,467.1 L735.9,468.5 L735.6,470.0 L735.7,471.4 L734.7,473.0 L734.5,474.3 L734.2,475.8 L734.1,477.3 L733.5,479.1 L733.5,480.5 L733.9,481.8 L734.4,483.5 L734.6,485.0 L734.6,486.4 L734.9,487.9 L735.8,489.2 L736.0,490.9 L736.4,492.2 L736.5,493.8 L737.1,495.3 L737.2,496.8"/>
<path d="M692.2,514.2 L689.8,503.0 L737.2,496.8 L741.0,502.5 L741.0,502.5 L773.8,500.0 L774.9,499.4 L776.6,500.1 L777.9,499.2 L779.4,499.5 L780.9,499.1 L782.1,498.8 L783.6,498.9 L784.9,498.7 L786.5,498.9 L788.0,498.4 L789.3,498.6 L790.6,498.8 L792.1,498.0 L793.5,498.1 L793.2,499.8 L792.8,501.3 L792.8,503.1 L793.4,501.6 L794.0,500.2 L794.2,498.9 L794.1,497.3 L794.2,495.7 L794.8,494.7 L795.3,493.1 L796.6,493.4 L798.1,493.6 L799.5,493.3 L801.3,492.8 L802.7,492.8 L804.0,493.1"/>
<path d="M567.8,467.2 L619.0,465.0"/>
<path d="M559.0,454.2 L567.2,455.5 L567.8,467.2 L567.8,467.2 L568.5,488.0 L577.2,508.0 L576.0,528.0 L576.2,529.6 L575.4,530.9 L574.9,532.0 L574.8,533.8 L574.2,535.0 L573.9,536.3 L573.8,537.9 L573.5,539.2"/>
<path d="M408.0,379.0 L406.8,389.5 L460.0,391.0 L459.2,408.0 L459.2,408.0 L460.0,434.2 L461.4,435.1 L463.1,435.4 L464.2,436.1 L466.2,436.5 L467.5,436.9 L468.9,437.3 L470.5,438.0 L471.8,439.0 L473.2,439.7 L475.0,439.9 L475.9,441.1 L477.4,441.1 L478.6,442.5 L480.3,442.7 L481.5,444.0 L483.0,444.2 L484.5,444.8 L485.7,445.2 L487.1,445.3 L488.4,445.7 L489.8,446.5 L491.2,446.8 L492.7,447.2 L494.2,447.6 L495.5,448.0 L497.0,447.9 L498.3,449.0 L499.8,448.8 L501.1,449.0 L502.5,449.1 L503.7,449.6 L505.1,449.8 L506.8,450.0 L508.0,450.5 L509.5,450.4 L511.0,449.7 L513.0,449.6 L514.5,449.6 L516.0,449.2 L517.3,449.9 L518.9,450.0 L520.2,451.1 L521.7,451.5 L522.9,452.1 L524.3,452.7 L526.0,453.0 L527.2,452.1 L528.7,451.3 L530.3,451.2 L531.8,449.9 L533.1,449.5 L534.6,448.8 L536.0,448.0 L537.4,447.5 L538.7,447.5 L540.3,447.9 L541.9,448.2 L543.3,448.3 L544.5,447.9 L546.0,448.0 L547.5,448.4 L548.5,449.7 L549.8,450.0 L551.1,450.6 L552.4,451.5 L554.0,451.5 L554.8,452.5 L556.4,453.1 L557.6,454.0 L559.0,454.2"/>
<path d="M425.0,378.5 L408.0,379.0 L406.8,408.0 L401.8,488.5 L335.5,483.8"/>
<path d="M875.4,156.4 L875.9,157.9 L875.8,159.4 L876.6,160.8 L876.5,162.3 L876.7,163.6 L876.9,165.2 L877.3,166.7 L877.4,167.9 L877.7,169.4 L878.3,171.0 L878.7,172.4 L879.1,173.7 L879.1,175.2 L879.8,176.6 L879.8,178.2 L881.0,179.1 L881.1,180.6 L882.2,182.2 L882.5,183.6 L882.8,185.1 L883.8,186.2 L884.1,187.7 L883.0,186.5 L881.8,185.2 L880.6,184.4 L881.9,185.8 L883.8,186.9 L884.5,188.2 L884.6,189.7 L884.7,191.1 L885.4,192.7 L885.3,193.9 L886.1,195.4 L886.4,196.7 L887.2,198.0 L887.5,199.5 L887.6,201.1 L888.2,202.3 L888.8,203.8 L888.5,205.4 L888.7,206.7 L889.1,208.4 L889.6,209.9 L889.4,211.3 L889.9,212.7 L889.6,214.2 L889.6,215.9 L889.4,217.3 L890.0,218.8 L893.1,240.1 L892.2,241.8 L890.6,242.6"/>
<path d="M903.1,142.6 L903.3,144.3 L902.0,145.7 L901.9,147.6 L901.9,149.2 L902.7,150.4 L902.5,152.1 L902.5,153.7 L902.5,154.8 L903.1,156.4 L902.3,158.0 L902.3,159.6 L901.8,161.0 L901.9,162.6 L900.5,163.7 L899.6,165.7 L898.1,166.4 L898.2,168.0 L898.1,169.0 L897.7,170.6 L897.5,172.0 L897.7,170.1 L897.1,168.5 L897.2,166.7 L897.5,165.0 L897.8,166.5 L897.7,167.8 L897.9,169.5 L897.7,170.9 L897.2,172.0 L897.5,173.8 L897.4,174.9 L896.7,176.4 L897.3,177.9 L896.9,179.6 L897.2,181.1 L897.3,182.1 L896.9,183.8 L897.5,184.9 L897.2,186.7 L897.0,187.9 L898.2,189.5 L898.0,190.6 L897.9,192.5 L898.8,193.7 L898.9,195.1 L898.4,196.3 L898.4,197.8 L899.6,199.1 L899.4,200.7"/>
<path d="M906.9,140.7 L916.3,172.0 L915.9,170.5 L915.3,169.1 L914.9,167.7 L915.0,166.1 L914.5,164.5 L913.6,163.1 L913.6,161.5 L913.2,160.0 L913.3,161.5 L914.0,162.8 L915.2,164.3 L915.3,165.5 L915.8,167.3 L916.3,168.5 L916.9,170.0 L917.5,171.2 L918.5,172.6 L919.0,174.1 L920.5,174.7 L920.6,176.6 L921.4,177.6 L922.6,178.8 L923.9,179.6 L924.9,180.4 L926.3,181.3"/>
<path d="M888.8,203.8 L919.4,196.9 L925.1,190.0"/>
<path d="M890.0,218.8 L921.9,211.3"/>
<path d="M915.7,213.2 L919.4,227.0"/>
<path d="M921.9,211.3 L923.8,217.6"/>
<path d="M824.7,295.0 L834.1,299.0 L834.1,294.0"/>
<path d="M138.8,69.2 L181.0,80.0 L220.0,90.0 L257.8,96.2 L295.5,101.2 L333.0,106.2 L370.5,111.2 L408.0,115.0 L458.0,116.8 L507.2,117.5 L516.0,117.0 L537.2,117.0 L537.2,108.8 L542.2,109.2 L544.8,120.0 L544.8,120.0 L546.0,120.2 L547.8,121.1 L549.1,121.0 L550.8,121.1 L552.0,121.3 L553.5,122.0 L554.7,122.0 L556.1,122.6 L557.7,122.6 L559.0,122.3 L560.6,122.6 L561.7,123.1 L563.4,123.6 L564.8,123.6 L566.0,123.8 L567.3,124.4 L568.3,125.2 L570.0,125.1 L571.0,126.0 L572.4,126.8 L573.5,127.5 L574.8,128.4 L576.0,128.0 L577.5,128.4 L578.2,129.4 L579.6,130.0 L581.0,130.0 L582.7,129.9 L583.9,129.9 L585.7,130.9 L587.2,130.5 L588.4,130.9 L589.9,132.0 L591.1,132.1 L592.2,133.5 L593.5,133.8 L594.8,134.0 L596.5,133.6 L597.7,132.8 L599.4,132.8 L600.9,133.4 L601.9,132.5 L603.5,132.5 L604.7,133.1 L606.3,133.1 L607.6,133.0 L609.0,133.2 L610.5,133.1 L612.0,133.0 L613.1,133.7 L614.5,133.7 L616.0,133.8 L617.7,133.5 L619.2,133.9 L620.4,134.6 L622.2,134.2 L621.0,135.0 L619.8,135.9 L618.9,136.9 L617.5,137.3 L616.5,138.2 L615.3,139.0 L614.4,140.2 L613.3,140.9 L611.9,141.5 L611.0,142.5 L609.8,143.2 L608.8,143.8 L607.6,144.6 L606.6,145.4 L605.4,145.8 L604.3,146.6 L603.0,147.2 L602.2,148.3 L601.0,148.8 L599.8,149.5 L598.7,150.2 L597.7,150.9 L596.7,151.9 L595.3,152.3 L594.2,153.1 L593.4,154.2 L592.0,154.7 L591.0,155.5 L590.3,156.6 L589.4,157.5 L588.2,158.5 L587.5,159.5 L586.4,160.4 L585.6,161.6 L584.8,162.5 L583.3,163.6 L582.2,165.0 L587.2,163.8 L588.6,163.3 L589.7,162.7 L591.0,162.0 L592.2,161.5 L593.4,161.3 L594.7,161.0 L596.0,160.2 L597.2,159.8 L598.5,159.5 L599.9,160.4 L601.1,161.4 L602.2,162.5 L603.6,163.0 L605.1,163.0 L606.4,163.6 L607.9,163.7 L609.3,164.1 L611.0,164.4 L612.2,165.0 L620.0,159.2 L621.4,159.0 L622.8,158.6 L624.3,158.1 L625.6,157.7 L627.3,157.6 L628.7,157.2 L630.0,156.7 L631.2,155.9 L631.7,154.7 L632.8,153.8 L633.6,152.8 L634.7,152.0 L635.6,150.8 L636.7,150.1 L637.7,149.0 L638.9,148.2 L639.9,147.0 L641.1,146.2 L642.2,145.0 L643.4,144.2 L645.0,144.1 L646.6,144.1 L648.2,143.9 L649.7,143.7 L648.7,144.5 L647.9,145.8 L646.8,146.5 L645.9,147.4 L645.0,148.4 L644.2,149.6 L643.7,150.8 L642.8,152.0 L642.3,153.2 L641.5,154.4 L640.8,155.5 L640.0,156.7 L640.3,158.1 L640.9,159.2 L641.8,158.2 L642.9,157.4 L644.0,156.7 L645.0,155.9 L646.5,156.1 L648.0,156.3 L649.3,156.4 L650.9,156.7 L651.9,157.8 L652.9,159.1 L653.7,160.4 L654.8,161.3 L655.9,162.6 L657.2,162.8 L658.5,162.8 L659.9,162.8 L661.1,163.2 L662.5,163.2 L663.7,163.3 L665.0,163.4 L666.6,163.9 L668.4,164.2 L670.0,164.2 L671.4,163.3 L672.1,162.2 L673.6,161.5 L674.6,160.5 L675.5,159.3 L676.7,158.4 L678.1,158.0 L679.2,157.8 L680.5,157.0 L681.8,156.6 L682.8,156.1 L684.1,155.7 L685.6,155.7 L686.7,155.1 L688.0,154.6 L689.3,154.2 L690.7,154.2 L692.1,153.7 L692.1,155.3 L692.3,156.9 L692.6,158.4 L694.0,158.6 L695.6,158.7 L696.9,159.1 L698.4,159.2 L699.4,158.3 L700.8,157.6 L701.8,156.7 L703.1,157.0 L704.5,157.5 L705.9,157.6 L706.5,159.1 L706.8,160.9 L707.8,161.9 L708.9,162.6 L710.1,163.4 L711.3,164.0 L712.2,165.3 L713.4,165.9 L715.0,166.2 L716.8,166.7 L716.8,167.6 L715.5,167.7 L714.1,168.3 L712.8,168.1 L711.4,168.3 L710.1,168.7 L708.8,168.7 L707.4,168.7 L706.2,168.6 L704.7,168.4 L703.4,168.4 L702.3,169.2 L701.0,170.2 L699.7,170.9 L698.4,171.7 L697.0,171.2 L696.0,170.4 L694.8,169.7 L693.4,169.2 L692.1,169.5 L690.6,169.0 L689.5,169.1 L688.0,169.3 L686.7,169.2 L685.6,169.9 L684.2,170.5 L682.9,171.0 L681.7,171.7 L680.4,172.2 L679.0,172.9 L677.7,173.4 L676.4,173.7 L675.1,174.2 L673.9,175.0 L672.5,175.5 L671.5,176.3 L670.0,176.7 L668.4,176.2 L666.8,175.9 L665.0,175.4 L664.4,176.6 L664.1,178.0 L663.4,179.2 L662.9,180.7 L662.3,182.0 L661.2,183.1 L660.5,184.4 L659.9,185.8 L659.2,187.0 L658.7,188.4 L658.2,189.6 L657.6,190.7 L657.0,191.9 L656.6,193.2 L656.3,194.4 L655.6,195.7 L655.0,196.8 L654.2,198.0 L653.4,199.3 L652.9,200.5 L652.0,201.8 L651.9,203.5 L651.7,205.2 L651.4,206.8 L652.5,205.7 L653.5,204.7 L654.6,203.5 L655.9,202.6 L657.0,201.7 L657.8,200.3 L659.0,199.4 L659.8,198.3 L660.9,197.1 L661.5,195.7 L662.3,194.5 L663.1,193.1 L663.6,191.7 L664.2,190.4 L665.2,189.2 L665.8,187.9 L666.7,186.8 L667.2,185.1 L667.6,183.5 L667.9,181.8 L668.6,180.4 L669.4,179.1 L670.0,177.6 L669.8,179.2 L669.4,180.6 L668.6,182.0 L668.4,183.4 L667.7,184.7 L667.3,186.1 L666.7,187.4 L666.4,188.7 L665.9,190.1 L665.3,191.3 L664.9,192.8 L664.7,194.0 L664.1,195.3 L663.7,196.8 L663.4,198.1 L662.6,199.5 L662.2,200.8 L661.5,202.0 L660.9,203.4 L660.7,204.8 L660.6,206.3 L660.5,207.7 L660.4,209.2 L660.5,210.7 L660.0,212.0 L660.0,213.4 L659.6,214.8 L659.3,216.2 L659.2,217.8 L658.7,219.2 L658.8,220.7 L658.1,222.0 L658.0,223.5 L658.1,224.9 L657.6,226.3 L657.8,227.6 L657.7,229.0 L657.5,230.5 L657.1,231.8 L657.2,233.1 L656.7,234.5 L656.7,236.0 L657.2,241.5 L657.6,242.9 L658.0,244.3 L658.3,245.7 L658.5,247.3 L659.0,248.6 L659.2,250.1 L659.8,251.5 L660.2,252.8 L660.4,254.1 L660.8,255.2 L661.4,256.5 L661.6,257.7 L662.2,258.8 L662.3,260.2 L662.9,261.4 L663.2,262.7 L663.5,264.0 L664.6,265.0 L665.5,266.2 L666.4,267.3 L667.2,268.5 L669.1,269.1 L671.0,269.5 L672.3,268.7 L673.5,267.8 L674.7,267.3 L676.0,266.5 L677.3,265.2 L678.5,264.0 L678.9,262.8 L679.4,261.4 L679.9,260.2 L680.4,259.1 L680.7,257.7 L681.3,256.6 L681.8,255.2 L682.2,254.0 L682.5,252.5 L682.8,251.1 L682.8,249.5 L683.4,248.0 L683.5,246.5 L683.5,245.0 L683.3,243.6 L683.2,242.2 L683.1,240.8 L682.9,239.4 L683.3,238.0 L683.0,236.5 L682.6,233.5 L681.7,232.3 L681.4,231.0 L680.9,229.9 L680.0,228.7 L679.7,227.4 L678.7,226.4 L678.4,225.1 L677.9,223.8 L677.9,222.4 L677.3,220.9 L677.1,219.6 L676.8,218.1 L676.7,216.8 L677.2,215.5 L677.2,214.1 L677.7,212.8 L678.3,211.5 L678.4,210.1 L678.6,208.7 L678.7,207.3 L678.9,205.8 L678.9,204.4 L679.1,203.0 L679.0,201.5 L679.2,200.1 L680.0,199.1 L680.8,197.9 L681.9,197.2 L682.5,196.0 L683.4,195.1 L684.5,194.2 L685.6,193.4 L686.7,192.6 L687.1,194.3 L687.5,196.0 L688.1,197.6 L690.1,196.8 L690.1,195.4 L690.3,193.9 L690.2,192.5 L690.7,191.0 L690.6,189.6 L690.6,188.2 L690.9,186.8 L691.6,185.6 L692.5,184.6 L693.4,183.4 L693.8,181.7 L693.9,180.0 L694.2,178.4 L695.4,177.4 L696.4,176.3 L697.4,175.2 L698.4,174.2 L706.8,175.9 L708.1,176.3 L709.6,176.8 L711.1,176.8 L712.4,177.3 L713.9,177.8 L715.4,177.8 L716.8,178.4 L718.0,179.3 L718.8,180.5 L719.8,181.3 L720.7,182.5 L721.8,183.4 L722.3,184.8 L722.3,186.3 L722.8,187.6 L723.4,189.1 L723.4,190.7 L723.9,192.0 L724.3,193.4 L724.3,194.9 L724.1,196.4 L724.1,197.7 L724.0,199.1 L723.9,200.5 L723.7,201.9 L723.4,203.4 L722.6,204.7 L721.9,206.0 L721.5,207.5 L720.6,208.6 L720.1,210.1 L719.2,211.5 L718.3,212.7 L717.6,214.3 L718.1,215.9 L718.8,217.6 L720.2,218.1 L721.8,218.4 L722.8,217.5 L723.5,216.3 L724.1,215.1 L724.9,213.9 L725.7,212.8 L726.8,211.8 L727.7,210.7 L728.8,209.5 L729.9,208.7 L730.9,207.6 L732.2,208.0 L733.3,208.5 L734.6,208.9 L736.0,209.3 L736.5,210.6 L737.2,211.8 L737.7,212.9 L738.3,214.2 L738.9,215.4 L739.3,216.8 L739.7,218.0 L740.1,219.3 L740.7,220.7 L741.1,222.0 L741.4,223.3 L741.8,224.6 L742.4,225.9 L742.8,227.2 L743.5,228.5 L744.2,229.2 L744.0,230.9 L743.4,232.3 L743.2,233.8 L742.6,235.2 L742.5,236.8 L740.7,237.5 L739.2,238.4 L738.5,240.1 L737.5,241.8 L738.3,243.1 L738.7,244.5 L739.2,245.9 L737.9,246.1 L736.7,246.8 L736.3,248.5 L736.0,250.1 L735.8,251.8 L734.9,252.9 L734.2,254.2 L733.5,255.6 L732.5,256.8 L732.3,258.2 L731.7,259.3 L732.7,260.0 L734.1,260.4 L735.4,260.9 L736.5,261.5 L737.7,262.2 L738.8,262.8 L740.0,263.4 L741.4,263.6 L742.7,263.8 L744.1,264.1 L745.4,264.2 L746.7,264.3 L747.9,263.6 L749.2,263.2 L750.4,262.8 L751.8,262.3 L753.0,261.8 L754.3,261.3 L755.4,260.8 L756.7,260.1 L757.9,259.4 L759.0,258.8 L759.9,257.9 L761.0,257.0 L762.1,256.3 L763.2,255.6 L764.6,254.9 L765.6,254.2 L766.7,253.4 L767.7,252.5 L768.7,251.6 L769.6,250.9 L770.9,250.3 L771.7,249.3 L772.8,248.4 L773.9,247.5 L774.9,246.7 L776.3,246.1 L777.1,245.0 L778.4,244.3 L779.5,243.4 L780.6,242.9 L781.9,242.2 L782.7,241.2 L784.0,240.7 L785.1,240.0 L786.2,239.2 L787.3,238.4 L788.4,237.6 L789.5,236.5 L790.4,235.4 L791.6,234.1 L792.2,232.8 L793.4,231.8 L794.2,230.5 L794.9,229.4 L795.7,228.3 L796.3,227.1 L797.2,225.8 L797.7,224.6 L798.4,223.4 L798.1,222.0 L797.6,220.4 L797.4,219.0 L797.1,217.5 L796.7,215.9 L795.5,215.1 L794.2,214.2 L795.7,213.7 L797.2,212.9 L798.6,212.4 L800.1,211.7 L801.4,211.3 L802.5,211.0 L803.9,210.7 L805.1,210.1 L806.2,209.5 L807.6,209.5 L808.8,208.7 L810.1,208.4 L811.4,208.1 L812.7,208.1 L814.0,207.8 L815.5,207.8 L816.8,207.6 L818.5,208.2 L820.1,209.2 L821.4,209.0 L822.8,208.2 L824.2,207.8 L825.6,207.4 L827.0,207.2 L828.4,206.7 L829.3,205.6 L830.3,204.7 L831.3,203.6 L832.5,202.7 L833.4,201.7 L834.3,200.7 L835.6,200.3 L836.5,199.1 L837.6,198.4 L838.1,196.8 L838.2,195.1 L838.4,193.4 L837.5,192.4 L836.6,191.6 L835.8,190.5 L835.2,189.2 L834.3,188.4 L835.2,187.4 L836.5,186.8 L837.3,185.9 L838.4,185.0 L838.7,183.6 L839.1,182.3 L839.4,181.0 L839.8,179.8 L840.1,178.4 L840.7,177.1 L841.5,176.1 L842.4,175.1 L843.3,174.0 L843.7,172.8 L844.7,171.7 L845.3,170.6 L846.1,169.5 L846.8,168.3 L847.8,167.2 L848.8,166.2 L849.9,165.1 L850.5,163.8 L851.5,162.7 L852.6,161.7 L875.4,156.4 L901.6,149.4 L903.1,142.6 L904.3,141.8 L905.7,141.4 L906.9,140.7 L908.0,139.9 L908.9,139.0 L910.0,138.2 L910.4,136.8 L910.7,135.4 L911.1,134.1 L911.3,132.6 L911.9,131.3 L912.3,130.1 L912.9,128.9 L913.3,127.6 L913.8,126.3 L913.5,124.7 L913.4,123.2 L913.3,121.7 L913.2,120.1 L913.5,118.5 L913.8,116.9 L914.0,115.3 L914.4,113.8 L914.2,112.2 L914.0,110.7 L913.9,109.1 L913.8,107.5 L914.0,106.2 L914.5,105.0 L914.9,103.9 L915.2,102.5 L915.6,101.3 L916.1,100.1 L916.4,98.8 L916.8,97.5 L917.1,96.2 L917.5,95.0 L917.9,93.8 L918.3,92.5 L918.8,91.3 L919.3,90.1 L919.5,88.7 L920.0,87.5 L921.6,87.5 L923.2,87.5 L923.6,89.1 L924.1,90.4 L924.4,91.9 L926.0,91.2 L927.6,90.7 L928.6,89.9 L929.7,89.1 L930.6,88.1 L931.7,87.2 L932.8,86.5 L933.8,85.6 L935.5,86.2 L937.2,86.4 L938.8,86.9 L940.1,87.6 L941.3,88.6 L942.5,89.3 L943.8,90.0 L944.2,91.3 L944.6,92.6 L945.2,93.8 L945.7,95.0 L945.9,96.3 L946.4,97.5 L947.0,98.8 L947.3,100.0 L947.9,101.3 L948.2,102.5 L948.6,103.8 L949.0,105.1 L949.2,106.3 L949.5,107.5 L950.0,108.9 L950.4,110.1 L950.6,111.3 L951.1,112.6 L951.4,113.8 L951.8,115.1 L952.3,116.3 L952.6,117.6 L954.0,117.8 L955.4,118.0 L956.8,118.2 L958.2,118.2 L958.6,119.6 L958.9,121.0 L959.0,122.5 L959.5,123.8 L960.6,124.8 L961.5,126.0 L962.6,127.0 L964.2,127.1 L965.7,127.0 L966.7,127.9 L967.7,128.9 L968.7,130.0 L969.7,131.0 L970.7,131.9 L967.6,136.3 L966.4,137.8 L966.3,139.4 L964.3,139.6 L963.9,141.3 L962.2,141.9 L961.0,142.7 L960.1,143.8 L958.3,144.2 L957.0,145.1 L956.2,146.0 L955.1,147.6 L954.7,149.5 L954.4,150.8 L953.8,152.6 L952.0,152.8 L951.1,154.2 L950.1,155.1 L948.7,155.5 L947.7,156.2 L945.9,156.6 L945.1,157.6 L944.9,159.1 L944.0,160.4 L943.4,161.8 L942.6,162.6 L941.5,164.0 L940.3,164.0 L938.8,163.8 L937.6,165.1 L936.2,165.7 L935.2,166.4 L933.8,167.6 L932.9,168.4 L931.3,168.8 L930.7,170.1 L929.4,172.0 L928.2,176.3 L927.7,177.7 L927.1,178.7 L926.6,180.1 L926.3,181.3 L925.8,182.7 L925.2,184.1 L924.5,185.4 L923.8,186.9 L924.4,188.5 L925.4,189.6 L925.7,191.3 L926.4,192.5 L927.4,193.3 L928.1,194.5 L928.8,195.7 L928.2,197.2 L927.3,198.4 L927.0,200.1 L926.2,201.7 L925.1,203.2 L926.4,203.5 L927.4,204.2 L928.8,204.4 L930.0,205.3 L931.4,206.5 L932.6,207.6 L933.8,208.7 L934.7,209.9 L935.1,211.4 L936.3,212.6 L938.3,212.6 L940.1,212.6 L941.4,212.2 L942.7,211.9 L943.8,211.3 L944.2,209.8 L945.1,208.2 L943.9,207.5 L943.5,206.0 L942.3,205.3 L940.8,205.3 L939.6,205.3 L940.9,205.0 L942.0,204.1 L943.5,204.8 L945.1,206.1 L945.2,207.4 L945.8,208.7 L946.6,209.8 L946.4,211.9 L945.3,213.0 L943.7,213.4 L942.5,214.3 L941.3,215.1 L939.7,215.8 L937.9,216.1 L936.3,216.3 L935.2,217.8 L933.8,218.8 L932.6,220.1 L931.6,220.9 L930.0,221.6 L928.8,221.9 L927.0,222.2 L925.1,222.6 L924.4,221.2 L924.2,219.6 L923.8,218.2 L923.3,219.7 L922.9,221.1 L922.8,222.3 L922.6,223.8 L921.4,224.9 L920.3,225.6 L919.4,227.0 L917.9,227.4 L916.8,227.8 L915.0,227.7 L913.8,228.2 L912.8,229.0 L912.1,230.3 L911.0,231.2 L910.0,232.0 L908.9,232.6 L907.3,233.0 L906.3,233.8 L904.9,234.0 L903.8,234.5 L902.5,235.1 L901.3,235.8 L900.1,236.6 L898.7,236.7 L897.5,237.6 L896.1,238.5 L895.1,239.4 L894.0,240.7 L892.5,241.3 L890.6,242.6 L890.0,243.9 L889.7,245.2 L888.8,246.4 L888.0,247.5 L887.9,248.8 L887.0,250.0 L886.4,251.4 L886.3,252.6 L885.5,253.9 L885.8,255.1 L885.0,256.4 L890.4,261.6 L891.7,268.0 L891.6,269.6 L891.5,271.3 L891.3,273.0 L890.9,274.2 L890.3,275.5 L889.8,276.6 L888.9,277.5 L888.4,278.8 L887.6,280.3 L886.7,281.2 L885.8,282.5 L885.0,283.9 L884.9,285.4 L884.7,286.7 L884.1,288.1 L884.2,289.7 L883.1,291.1 L882.1,292.6 L881.7,290.9 L881.4,289.1 L880.9,287.6 L879.3,287.7 L878.0,288.0 L876.7,288.4 L875.5,287.8 L874.2,287.2 L873.0,286.8 L873.3,288.3 L874.2,289.7 L875.4,291.1 L876.7,292.2 L877.9,293.3 L878.9,294.5 L880.0,295.5 L880.5,295.5 L880.9,297.0 L881.2,298.6 L882.3,299.9 L882.5,301.4 L882.4,302.9 L882.3,304.2 L882.3,305.8 L882.1,307.2 L882.2,309.0 L881.7,310.5 L881.7,312.2 L881.0,313.7 L880.4,315.2 L879.9,316.7 L879.2,318.0 L878.2,327.5 L878.1,328.9 L877.5,330.2 L877.3,331.6 L876.9,333.0 L876.9,334.4 L876.3,335.6 L874.4,335.0 L874.1,333.4 L873.9,332.0 L873.0,330.5 L872.8,329.0 L872.5,327.5 L872.5,326.0 L872.3,324.5 L872.3,323.1 L872.6,321.6 L872.5,320.0 L871.7,318.0 L871.3,316.9 L871.1,315.2 L870.9,314.1 L870.7,312.8 L870.0,311.4 L869.0,310.8 L868.3,309.6 L867.0,309.0 L865.9,308.0 L866.3,306.8 L866.6,305.5 L866.4,304.0 L867.0,302.8 L866.7,301.4 L866.3,300.0 L866.1,298.5 L865.7,297.1 L865.0,295.5 L865.3,294.1 L864.2,292.7 L864.3,291.6 L864.7,290.0 L863.5,288.7 L864.2,287.3 L863.3,286.0 L863.4,284.7 L863.4,282.2 L862.0,283.1 L861.2,284.4 L859.8,285.2 L858.9,286.4 L857.5,287.2 L856.9,288.4 L855.4,289.0 L855.0,290.5 L853.5,291.1 L852.9,292.2 L853.7,293.7 L853.4,295.3 L853.7,296.7 L854.9,298.2 L855.0,299.7 L855.5,301.1 L855.9,302.5 L856.7,303.9 L857.6,304.9 L858.5,305.9 L858.8,307.2 L859.6,308.4 L860.6,309.4 L861.8,310.7 L862.5,312.1 L863.4,313.0 L864.2,314.4 L864.4,315.5 L864.9,317.1 L865.9,318.0 L866.3,320.0 L866.7,321.3 L866.7,322.9 L867.3,324.3 L867.8,325.6 L867.8,327.1 L868.5,328.6 L868.8,330.0 L869.3,331.3 L869.6,332.4 L869.7,333.8 L870.2,335.1 L870.7,336.3 L871.0,337.6 L871.3,338.8 L872.6,339.0 L873.7,339.6 L875.0,340.0 L875.7,340.6 L876.5,342.1 L876.7,343.6 L877.5,345.0 L878.2,346.4 L879.0,347.5 L879.1,348.8 L880.2,349.9 L880.5,351.3 L881.3,352.5 L882.2,353.5 L883.1,354.4 L883.7,355.6 L884.5,356.9 L885.5,357.8 L886.3,358.8 L887.0,360.2 L887.9,361.3 L888.4,362.6 L889.2,363.8 L890.1,365.1 L890.4,366.5 L890.4,368.0 L891.1,369.5 L890.8,370.9 L891.6,372.4 L891.6,373.8 L890.4,374.7 L889.4,375.7 L888.3,376.8 L887.2,377.8 L886.3,378.8 L885.3,380.0 L884.7,381.4 L883.3,382.4 L882.5,383.8 L881.7,385.1 L881.1,386.3 L880.4,387.5 L879.5,388.8 L878.8,390.1 L878.1,391.1 L876.9,392.0 L875.4,391.5 L874.1,391.8 L872.8,391.8 L871.3,391.3 L870.0,391.7 L868.8,392.7 L867.5,392.9 L866.3,393.3 L865.0,393.8 L864.0,395.0 L863.1,395.8 L862.0,396.8 L860.9,397.9 L860.0,398.9 L859.2,400.1 L858.7,401.4 L858.4,402.6 L857.6,403.9 L856.8,405.0 L856.3,406.4 L855.8,407.7 L855.7,409.0 L855.6,410.6 L855.4,411.8 L855.0,413.2 L853.3,413.2 L851.6,413.1 L850.0,413.2 L848.8,413.8 L847.4,413.8 L846.3,414.4 L845.0,414.5 L843.8,415.1 L842.8,416.1 L842.1,417.1 L841.0,417.9 L840.0,418.9 L837.8,426.8 L837.2,428.0 L836.2,429.4 L835.1,430.5 L835.0,432.0 L834.1,433.0 L832.8,433.8 L831.8,434.7 L831.3,436.2 L830.2,437.5 L829.0,438.1 L828.0,438.9 L827.2,440.2 L826.4,441.3 L825.0,442.1 L824.0,443.0 L822.9,443.8 L822.1,444.6 L821.3,446.1 L820.4,447.1 L819.6,448.3 L819.0,449.2 L818.2,450.5 L816.7,450.8 L815.9,452.0 L815.3,453.1 L814.6,454.5 L813.3,455.2 L812.8,456.7 L811.9,457.5 L810.3,458.3 L809.2,459.5 L808.4,460.6 L807.8,461.8 L807.4,463.0 L807.5,464.8 L806.7,466.2 L806.3,467.6 L806.6,468.9 L805.7,470.2 L805.7,471.6 L805.3,473.1 L804.7,474.3 L804.8,475.8 L803.9,477.2 L803.6,478.7 L803.3,480.3 L802.7,481.6 L802.8,483.1 L802.8,484.5 L802.9,486.0 L803.7,487.1 L803.9,488.7 L803.3,490.3 L804.2,491.6 L804.0,493.1 L804.4,494.2 L804.5,495.7 L805.7,496.8 L806.1,497.8 L805.7,499.5 L806.4,500.7 L807.5,501.8 L807.2,503.1 L807.3,504.4 L807.9,505.6 L808.7,506.9 L809.0,508.1 L809.7,509.0 L810.8,510.1 L810.7,511.5 L811.7,512.6 L812.5,513.8 L812.7,515.1 L813.8,516.1 L814.1,517.4 L814.8,518.5 L816.1,519.5 L816.5,520.6 L823.8,530.0 L824.6,531.1 L825.1,532.5 L825.7,533.6 L826.3,535.0 L827.4,536.0 L828.8,536.9 L830.2,537.9 L831.3,538.8 L830.8,540.4 L830.4,542.1 L830.1,543.8 L830.7,545.0 L831.6,546.2 L832.7,547.6 L833.3,548.8 L834.4,550.1 L835.1,551.3 L835.9,552.4 L836.7,553.6 L837.3,555.0 L837.9,556.2 L838.4,557.7 L839.3,558.7 L840.1,560.0 L841.2,561.2 L842.0,562.4 L842.4,563.8 L843.3,565.2 L844.4,566.2 L845.1,567.5 L845.4,568.9 L846.1,570.2 L846.6,571.2 L847.0,572.7 L847.6,573.8 L847.9,575.2 L848.0,576.7 L847.8,578.3 L847.9,579.6 L847.9,581.0 L848.2,582.6 L848.6,583.9 L848.6,585.6 L848.9,587.0 L849.4,588.5 L849.5,590.1 L849.4,591.6 L849.6,593.1 L849.9,594.6 L850.2,596.1 L850.1,597.6 L850.0,599.2 L849.5,600.8 L849.3,602.3 L848.9,603.8 L848.2,605.2 L847.1,606.2 L846.4,607.6 L845.0,608.5 L843.8,609.5 L841.9,609.5 L840.1,610.1 L838.9,610.6 L837.6,611.4 L835.9,610.6 L834.3,610.6 L832.6,610.1 L831.9,608.5 L830.7,607.0 L830.0,605.6 L829.7,603.9 L828.8,602.6 L827.5,601.8 L826.4,600.9 L825.1,600.1 L823.7,599.9 L822.5,599.2 L821.5,598.6 L820.1,598.2 L818.9,597.1 L817.5,596.4 L816.3,595.1 L815.6,593.8 L814.8,592.8 L814.3,591.5 L813.8,590.0 L813.2,588.8 L811.8,588.3 L810.3,587.9 L809.0,587.0 L807.5,586.3 L806.5,585.0 L805.0,583.8 L804.1,582.5 L803.4,581.3 L802.6,580.1 L801.9,578.6 L800.9,577.5 L800.0,576.3 L799.2,575.2 L798.5,573.9 L798.0,572.7 L797.5,571.3 L796.5,570.1 L795.7,568.9 L795.1,567.5 L794.4,566.3 L793.7,564.8 L792.5,563.9 L791.6,562.5 L790.8,561.3 L790.0,560.0 L789.5,558.7 L788.9,557.5 L788.4,556.3 L788.1,555.1 L787.3,553.8 L786.9,552.5 L787.6,551.3 L787.6,550.0 L788.6,548.8 L788.8,547.5 L788.6,546.0 L788.6,544.4 L788.5,542.9 L788.8,541.3 L787.8,540.1 L787.4,538.8 L786.5,537.5 L785.8,536.1 L785.0,535.0 L783.7,534.2 L782.8,533.0 L781.5,532.0 L780.0,531.2 L779.4,530.0 L781.5,531.9 L780.3,531.2 L779.1,530.0 L777.5,529.6 L776.6,528.6 L775.5,527.6 L774.0,526.9 L768.5,519.2 L767.4,518.5 L766.0,518.4 L765.0,517.5 L763.3,517.3 L762.1,516.7 L761.0,516.4 L759.8,515.7 L758.5,515.0 L757.2,515.6 L756.0,516.2 L754.7,516.7 L753.6,517.3 L752.1,517.4 L751.0,518.0 L749.9,518.8 L748.6,519.3 L747.3,520.3 L746.3,521.1 L745.5,522.1 L744.1,522.9 L743.3,524.0 L742.3,524.8 L741.0,525.5 L739.6,525.4 L738.7,524.3 L737.3,524.2 L735.9,523.7 L734.9,523.3 L733.5,523.0 L732.6,522.1 L731.4,521.1 L730.0,520.9 L729.1,519.8 L727.8,519.2 L727.0,518.2 L725.6,517.6 L724.3,517.0 L723.5,516.0 L722.1,515.7 L720.8,515.7 L719.5,516.2 L718.3,515.7 L716.9,515.6 L715.3,515.5 L713.9,516.0 L712.6,515.7 L711.2,515.9 L710.1,515.7 L708.6,515.7 L707.2,515.8 L706.0,515.5 L719.0,513.5 L717.5,513.7 L716.1,513.4 L714.9,514.1 L713.1,514.2 L711.6,514.1 L710.2,513.8 L708.9,514.2 L707.2,514.2 L705.9,514.8 L704.7,515.5 L703.0,515.1 L701.5,515.6 L700.1,515.9 L698.4,515.9 L697.2,517.0 L695.8,517.2 L694.6,517.5 L693.1,517.6 L691.7,518.5 L690.1,518.4 L688.4,518.4 L686.6,519.0 L686.0,517.8 L686.3,516.5 L685.0,515.6 L685.3,513.9 L684.4,512.8 L684.1,511.5 L681.9,511.8 L681.9,513.0 L681.3,514.5 L681.4,515.7 L681.0,517.2 L680.9,518.4 L680.4,519.5 L678.8,519.7 L677.7,519.2 L676.4,519.7 L675.1,519.5 L673.4,519.4 L672.1,520.1 L670.7,519.7 L669.2,520.0 L667.7,519.3 L666.6,519.4 L665.1,519.7 L663.8,519.7 L662.3,520.6 L660.8,520.3 L659.8,520.9 L658.2,520.9 L657.2,522.2 L656.6,523.4 L655.1,524.4 L656.7,524.4 L658.6,524.0 L660.1,523.5 L660.7,525.2 L662.0,526.3 L661.6,528.0 L661.8,529.6 L661.3,531.3 L661.1,532.6 L660.4,534.0 L660.0,535.0 L658.8,536.2 L658.4,537.5 L658.2,538.8 L660.1,540.1 L661.3,540.6 L662.9,541.5 L663.8,542.6 L664.8,543.5 L665.9,544.1 L667.0,545.1 L666.0,546.5 L665.1,547.6 L663.8,548.3 L663.1,549.1 L662.0,550.1 L660.1,551.6 L659.9,550.3 L659.1,548.8 L658.9,547.2 L658.6,545.8 L658.6,544.4 L657.0,543.9 L655.1,543.2 L653.2,543.7 L651.3,543.8 L648.8,543.8 L647.5,544.6 L646.8,545.4 L645.9,546.3 L645.1,547.6 L643.7,548.2 L642.6,548.2 L641.6,549.4 L640.1,549.5 L638.7,549.4 L637.2,549.8 L635.6,549.9 L634.2,549.5 L632.6,549.6 L631.3,550.1 L630.2,549.2 L628.9,548.7 L627.6,548.8 L626.3,548.4 L625.0,547.6 L623.8,546.2 L622.5,545.1 L621.4,544.2 L620.6,542.7 L619.0,542.3 L617.8,541.3 L616.9,540.1 L616.3,537.6 L614.8,537.3 L613.8,536.6 L612.6,535.7 L611.3,535.7 L609.7,535.8 L608.7,536.3 L607.4,537.0 L606.3,537.6 L606.3,538.9 L605.3,540.1 L605.0,541.3 L603.7,541.0 L602.0,541.4 L600.7,541.3 L599.0,542.3 L597.5,541.9 L596.0,541.9 L595.0,540.9 L593.9,540.6 L592.4,540.6 L591.3,539.7 L590.0,539.4 L589.0,539.4 L587.7,539.1 L586.3,538.9 L584.7,538.9 L583.3,538.8 L581.9,538.7 L580.5,538.2 L579.1,538.3 L577.6,538.1 L576.0,538.3 L574.3,538.5 L572.6,538.8 L571.2,539.2 L570.2,539.9 L569.0,540.6 L567.5,541.2 L566.4,541.9 L565.1,542.7 L563.7,543.0 L562.7,544.0 L561.4,544.5 L560.0,544.8 L558.9,545.6 L557.8,546.7 L557.0,547.4 L555.7,548.1 L554.7,549.0 L553.9,550.0 L552.9,550.9 L552.1,552.1 L551.2,552.9 L550.5,554.0 L549.2,554.9 L548.4,555.9 L547.6,556.9 L546.4,557.8 L545.0,558.7 L543.8,559.3 L542.5,560.2 L541.5,561.2 L540.1,561.9 L539.0,562.5 L537.5,563.1 L536.4,563.6 L535.1,564.3 L533.7,564.9 L532.6,565.5 L531.3,566.3 L530.0,567.0 L528.9,568.3 L527.6,569.0 L526.1,569.6 L525.1,570.7 L523.9,571.7 L522.4,572.3 L521.4,573.5 L520.0,574.2 L518.8,575.1 L517.8,576.3 L516.7,577.1 L515.9,578.3 L514.7,579.3 L513.5,580.2 L512.6,581.3 L511.9,582.7 L511.4,583.8 L510.5,585.1 L509.8,586.5 L509.1,587.7 L508.2,588.8 L507.8,590.3 L507.4,591.8 L507.4,593.3 L507.1,594.8 L506.6,596.1 L506.3,597.6 L506.5,599.2 L506.5,600.5 L506.5,602.2 L506.6,603.6 L506.9,605.1 L507.4,606.3 L507.7,607.7 L508.0,608.9 L508.7,610.1 L508.9,611.5 L509.4,612.6 L509.7,613.9 L509.9,615.4 L510.3,616.8 L510.6,618.4 L510.7,619.8 L511.3,621.2 L511.3,622.6 L509.9,623.4 L508.4,624.4 L506.9,625.1 L505.6,624.4 L504.1,623.6 L502.8,622.8 L501.3,622.0 L500.0,621.6 L498.5,621.6 L497.1,621.5 L495.5,621.5 L494.1,621.0 L492.7,620.9 L491.3,620.7 L490.1,620.2 L488.7,620.0 L487.7,619.1 L486.4,618.4 L485.1,618.0 L483.7,617.6 L482.5,617.0 L481.2,616.3 L479.8,616.2 L478.5,615.4 L477.0,615.0 L475.9,614.3 L474.4,613.9 L473.1,613.2 L472.7,612.0 L472.0,610.5 L471.1,609.5 L470.6,608.2 L470.1,607.1 L469.4,605.7 L468.5,604.6 L468.3,603.3 L467.7,602.1 L466.8,601.0 L466.2,600.1 L465.6,598.8 L465.6,597.4 L465.1,596.0 L465.1,594.5 L464.9,593.0 L464.8,591.5 L464.4,590.1 L463.4,589.0 L462.5,588.3 L461.8,587.1 L460.9,585.9 L460.0,585.1 L455.5,574.2 L454.6,573.1 L454.1,571.9 L453.5,570.7 L452.7,569.5 L451.8,568.5 L451.4,567.2 L450.6,566.2 L449.9,564.9 L449.3,563.8 L448.4,562.7 L447.8,561.3 L446.6,560.4 L446.4,559.1 L445.5,558.0 L444.8,557.0 L444.0,555.9 L443.5,554.5 L442.5,553.6 L441.5,552.5 L441.2,551.1 L440.4,549.9 L439.7,549.0 L438.5,547.9 L438.0,546.8 L436.9,545.9 L435.9,545.0 L434.5,544.3 L433.6,543.5 L432.3,542.8 L431.5,541.5 L430.3,540.7 L429.1,540.0 L428.0,539.2 L426.6,539.1 L425.2,538.9 L423.9,538.4 L422.6,538.4 L421.2,538.3 L419.8,537.7 L418.5,537.6 L417.2,537.2 L415.6,537.3 L414.3,536.9 L413.0,536.8 L411.9,537.3 L410.5,537.7 L409.2,538.1 L407.9,538.3 L406.7,538.8 L405.5,539.2 L404.8,540.4 L404.0,541.7 L403.4,542.9 L402.5,544.2 L402.0,545.4 L401.5,547.0 L400.5,548.0 L399.8,549.1 L399.2,550.5 L397.9,551.3 L396.9,552.4 L395.6,553.4 L394.2,554.2 L393.4,553.2 L392.2,552.6 L391.0,552.0 L390.1,551.0 L388.9,550.2 L388.0,549.2 L387.0,548.5 L385.9,547.9 L384.7,547.0 L383.4,546.4 L382.5,545.6 L381.4,545.2 L380.0,544.6 L379.1,543.6 L378.0,543.0 L377.3,542.0 L376.2,541.0 L375.4,540.0 L374.5,539.0 L373.7,537.7 L373.1,536.7 L372.3,535.7 L371.3,534.8 L370.5,533.6 L369.8,532.4 L368.7,531.6 L368.0,530.5 L367.6,529.1 L367.7,527.7 L367.2,526.0 L367.4,524.6 L366.7,523.4 L366.8,521.8 L365.8,520.7 L365.2,519.4 L363.9,518.5 L363.3,517.3 L362.6,516.0 L361.6,515.0 L360.5,513.9 L359.7,512.7 L358.9,511.7 L358.0,510.5 L356.9,509.6 L356.0,508.7 L355.3,507.6 L354.4,506.8 L353.4,505.7 L352.8,504.6 L351.7,503.8 L350.9,502.8 L350.3,501.8 L349.0,500.9 L348.3,500.1 L347.6,498.9 L346.6,498.1 L345.7,496.9 L344.7,496.1 L343.7,495.3 L343.0,494.2 L342.0,493.2 L341.6,491.8 L340.6,490.7 L339.4,489.7 L338.6,488.5 L337.8,487.4 L337.3,486.1 L336.3,485.1 L335.5,483.8 L335.5,488.0 L305.5,486.0 L304.2,494.2 L289.2,491.8 L258.0,489.2 L252.5,488.0 L187.5,450.5 L193.8,447.5 L145.0,443.0 L144.6,435.9 L144.5,434.4 L144.6,432.8 L144.3,431.3 L144.4,429.9 L144.2,428.4 L143.8,427.0 L142.8,425.6 L142.2,424.5 L141.7,423.1 L140.9,421.7 L140.3,420.6 L139.2,419.7 L138.4,418.7 L137.5,417.7 L136.7,416.7 L135.7,415.9 L134.5,414.9 L133.5,414.0 L132.5,412.9 L131.2,412.3 L129.8,411.8 L128.4,411.7 L128.7,410.1 L128.8,408.4 L128.2,407.1 L127.5,406.1 L126.7,405.0 L125.2,405.0 L124.2,404.3 L122.7,404.1 L121.4,404.0 L120.0,403.4 L119.0,402.6 L117.8,401.8 L116.8,401.0 L115.9,400.0 L115.0,398.3 L114.2,396.7 L113.2,395.3 L111.8,394.7 L110.9,393.4 L109.5,393.2 L108.2,392.7 L106.7,392.1 L105.3,391.6 L104.3,390.7 L103.0,390.1 L101.7,389.6 L100.2,389.0 L98.4,388.8 L97.1,388.1 L95.4,387.9 L94.4,387.1 L93.4,386.0 L92.5,385.0 L93.6,383.9 L94.2,382.5 L94.5,381.1 L94.6,379.6 L94.6,378.3 L95.1,377.1 L95.5,375.8 L96.0,374.6 L96.3,373.3 L95.1,372.2 L93.9,371.0 L92.5,370.0 L87.5,354.0 L84.2,348.0 L82.9,345.9 L82.0,344.6 L81.3,343.4 L80.4,342.1 L80.5,340.7 L80.7,339.0 L80.7,337.5 L80.8,335.9 L82.5,335.9 L83.8,335.5 L84.8,334.1 L85.4,332.5 L84.8,330.9 L84.6,329.2 L83.1,328.3 L81.7,328.0 L80.4,326.7 L79.2,325.4 L78.4,324.1 L78.0,322.6 L77.1,321.3 L77.8,319.9 L77.9,318.4 L77.9,316.9 L77.9,315.5 L77.5,314.2 L78.4,312.5 L78.8,310.9 L78.6,309.4 L78.2,308.1 L78.3,306.7 L77.0,305.4 L75.8,304.2 L74.8,303.0 L74.1,301.5 L72.9,300.4 L73.4,299.0 L74.2,297.5 L73.7,295.8 L73.3,294.2 L72.9,292.5 L72.4,291.2 L71.5,289.9 L71.0,288.5 L70.0,287.5 L69.5,286.1 L68.6,285.0 L67.7,283.8 L67.4,282.3 L66.3,281.3 L65.8,280.0 L67.5,264.0 L67.1,262.6 L67.1,261.3 L67.1,260.0 L66.7,258.6 L66.3,257.3 L66.0,256.0 L65.7,254.6 L65.5,253.3 L65.0,252.0 L65.0,250.6 L64.8,249.4 L64.2,248.0 L64.5,246.7 L63.7,245.5 L63.8,244.0 L64.5,242.8 L65.1,241.8 L65.4,240.5 L66.2,239.3 L66.8,238.2 L67.9,237.1 L68.4,236.0 L69.3,234.9 L70.0,233.7 L70.6,232.4 L71.3,231.5 L71.8,230.1 L72.5,229.0 L73.1,227.6 L72.8,226.2 L73.3,225.1 L73.4,223.4 L73.8,222.3 L74.4,221.1 L74.4,219.6 L75.1,218.2 L75.1,216.9 L75.5,215.6 L75.3,214.1 L75.6,212.8 L76.2,211.5 L75.7,210.1 L75.6,208.6 L75.3,207.1 L75.1,205.6 L75.0,204.0 L80.0,190.0 L80.7,188.8 L81.5,187.7 L81.8,186.1 L82.3,185.0 L82.9,183.7 L83.6,182.5 L84.5,181.4 L84.9,179.9 L85.9,178.8 L86.1,177.5 L86.7,176.3 L87.5,175.0 L87.9,173.7 L88.5,172.5 L89.4,171.3 L89.9,169.8 L90.9,168.9 L91.1,167.5 L91.9,166.4 L92.3,164.8 L92.8,163.7 L93.8,162.5 L94.0,161.1 L95.0,160.0 L95.1,158.7 L95.5,157.3 L96.1,156.1 L96.6,154.9 L97.4,153.8 L97.6,152.5 L98.1,151.1 L98.8,150.0 L103.8,128.0 L104.4,126.7 L105.3,125.3 L105.8,123.9 L106.7,122.5 L105.4,122.4 L104.2,121.7 L105.0,120.2 L105.8,118.4 L106.7,117.0 L107.0,115.5 L107.5,114.2 L107.1,112.5 L106.7,110.8 L106.7,109.2 L106.8,107.5 L107.3,106.0 L107.5,104.2 L107.3,102.6 L107.4,100.9 L107.1,99.2 L107.4,97.8 L107.2,96.3 L107.5,94.8 L107.5,93.4 L107.5,91.9 L107.3,90.3 L107.5,89.0 L107.1,87.5 L106.8,86.2 L105.9,85.1 L105.4,83.7 L105.0,82.5 L105.1,81.0 L105.0,79.8 L105.4,78.3 L106.5,77.2 L107.3,76.0 L107.9,74.6 L109.4,75.6 L110.8,76.3 L111.7,77.4 L112.8,78.3 L113.9,79.1 L114.7,80.0 L115.8,80.8 L117.3,81.3 L118.5,81.8 L119.9,82.5 L121.1,83.4 L122.5,83.8 L123.9,84.3 L125.6,84.7 L126.8,85.4 L128.4,85.8 L129.6,85.0 L130.0,86.7 L130.0,88.4 L131.3,88.4 L132.8,88.5 L134.2,88.4 L133.3,89.6 L132.6,91.2 L131.7,92.5 L130.0,94.2 L128.9,95.3 L128.6,96.5 L127.5,97.5 L126.7,98.7 L125.9,99.7 L124.7,100.7 L123.8,101.7 L125.0,103.1 L125.9,104.6 L124.7,105.4 L123.8,106.3 L123.4,108.4 L124.6,109.3 L125.9,110.5 L127.3,110.1 L128.8,109.8 L130.2,109.5 L131.7,109.2 L132.7,108.0 L133.8,107.1 L134.8,106.0 L135.9,105.0 L136.2,103.6 L137.3,102.3 L137.5,100.9 L137.4,99.3 L137.3,97.4 L137.5,95.9 L139.0,94.7 L140.0,93.4 L141.3,92.6 L142.5,91.7 L141.1,90.5 L140.0,88.8 L140.6,87.4 L140.9,85.8 L140.7,84.0 L140.0,82.5 L140.4,81.1 L141.3,80.0 L141.2,78.4 L141.5,76.6 L141.7,75.0 L140.4,74.8 L138.9,74.3 L137.5,73.8Z"/>
<path d="M885.6,255.7 L888.8,250.1 L895.0,245.1 L902.5,240.1 L911.3,235.1 L918.8,233.8 L920.1,234.5 L916.3,237.6 L912.5,240.1 L903.8,246.4 L896.3,251.4 L888.8,253.9Z"/>
<path d="M934.5,221.3 L938.2,220.7 L940.3,221.9 L937.6,222.9 L934.8,222.6Z"/>
<path d="M942.6,221.6 L948.2,220.1 L948.6,221.9 L944.1,222.8Z"/>
</g>
<path d="M864.1,285.7 L865.0,286.2 L865.3,287.6 L866.2,288.6 L865.1,289.8 L864.7,290.5 L866.3,291.4 L865.1,293.0 L865.8,293.8 L864.6,295.1 L864.8,294.3 L863.9,293.1 L863.9,291.8 L864.1,290.9 L863.8,290.1Z" fill="#E38B4B"/>
<path d="M865.3,297.6 L866.8,298.0 L867.6,299.4 L867.3,300.9 L868.2,301.3 L868.1,302.8 L868.8,303.8 L868.8,305.0 L868.6,306.0 L867.6,306.9 L867.2,305.8 L865.7,305.1 L864.8,303.7 L865.2,302.8 L864.8,301.3Z" fill="#E38B4B"/>
<path d="M869.4,310.1 L870.4,310.5 L871.0,311.4 L872.1,311.6 L872.6,312.6 L872.9,313.4 L873.0,314.9 L874.7,315.3 L874.4,316.3 L873.1,316.9 L873.2,318.2 L872.1,317.5 L872.2,316.1 L871.9,315.6 L870.7,315.1Z" fill="#E38B4B"/>
<path d="M855.0,293.2 L855.1,294.3 L856.0,295.1 L855.5,295.8 L855.9,297.2 L856.8,298.2 L855.6,298.9 L856.3,300.1 L855.3,301.3 L855.0,299.9 L854.5,299.0 L854.5,297.6Z" fill="#E38B4B"/>
<path d="M857.3,291.3 L857.1,292.4 L857.3,293.7 L856.8,294.6 L856.7,295.7 L856.8,296.7 L856.8,298.0 L857.5,299.0 L857.0,300.1 L857.4,301.2 L857.4,302.2 L858.2,303.3 L858.1,304.2 L858.1,305.3 L858.8,306.3 L859.5,307.5 L859.7,308.7 L860.8,309.3 L860.9,310.7 L861.1,311.7 L861.9,312.6 L862.4,313.3 L862.3,314.6 L862.6,315.4 L863.4,316.5 L863.6,317.5 L863.9,318.2 L864.3,319.1 L865.1,320.1 L865.0,321.2 L865.3,322.3 L865.8,323.4 L866.6,324.1 L866.2,325.5 L866.8,326.5 L866.9,327.6 L867.4,328.7 L867.3,329.8 L867.7,330.8 L867.7,331.7 L867.8,332.9 L868.1,333.9 L868.2,335.1 L868.6,335.9 L868.7,337.3 L869.7,337.8 L869.9,339.0 L870.1,340.1 L870.7,341.2 L871.5,341.7 L872.6,342.4 L873.4,341.7 L874.8,341.8 L875.8,341.7 L876.6,341.1 L876.6,339.6 L875.5,338.7 L875.2,337.7 L875.1,336.4 L875.0,335.5 L874.5,334.4 L874.3,333.2 L874.5,332.3 L873.6,331.2 L873.8,330.1 L873.3,329.2 L873.0,328.3 L872.8,327.0 L872.2,326.1 L871.9,325.1 L871.5,323.9 L871.0,323.3 L871.1,321.9 L870.5,321.1 L870.1,320.1 L869.6,319.2 L869.0,318.1 L868.7,317.1 L868.0,316.3 L867.6,315.1 L866.7,314.4 L866.5,313.1 L865.8,312.3 L865.4,311.6 L864.8,310.6 L863.8,310.1 L863.1,309.2 L863.1,308.0 L862.8,307.0 L862.0,306.1 L861.3,305.1 L861.3,304.1 L860.9,303.1 L860.5,302.2 L859.9,301.3 L859.8,300.1 L859.3,298.8 L859.2,297.8 L859.2,296.6 L859.2,295.6 L859.6,294.6 L859.4,293.7 L859.7,292.2 L859.4,291.3Z" fill="#fff"/>
<path d="M80.8,302.5 L82.9,301.7 L83.8,303.8 L81.7,304.6Z" fill="#fff" stroke="#4c4c4c" stroke-width=".8"/>
<path d="M80.8,310.0 L82.5,310.4 L83.1,311.8 L83.4,313.4 L82.1,314.6 L80.8,312.5Z" fill="#fff" stroke="#4c4c4c" stroke-width=".8"/>
<path d="M868.2,362.6 L869.7,361.6 L871.0,361.0 L872.5,360.1 L873.8,359.4 L875.0,358.9 L876.2,358.3 L877.4,357.8 L878.8,357.6 L880.3,357.9 L881.7,357.9 L883.2,358.2 L883.8,360.1 L882.0,360.4 L880.4,361.0 L878.8,361.3 L877.3,361.2 L875.6,361.5 L874.1,362.0 L872.5,361.9Z" fill="#fff" stroke="#4c4c4c" stroke-width=".8"/>
<path d="M886.3,362.6 L887.4,363.7 L888.5,364.8 L889.4,366.3 L889.4,367.9 L889.9,369.4 L889.8,371.1 L890.1,372.6 L889.1,373.3 L888.2,374.3 L887.2,375.3 L886.3,376.3 L885.6,377.3 L884.3,378.0 L883.5,379.2 L882.5,380.1 L881.4,380.8 L880.0,381.1 L878.9,381.5 L877.5,381.9 L876.0,381.7 L874.4,381.9 L874.5,380.5 L875.0,379.1 L875.0,377.8 L876.4,376.9 L877.9,376.0 L879.0,374.8 L880.2,373.6 L881.2,372.4 L882.3,371.3 L882.8,369.6 L883.2,368.1 L884.1,366.6Z" fill="#fff" stroke="#4c4c4c" stroke-width=".8"/>
<path d="M826.6,571.5 L827.3,570.4 L828.5,569.6 L829.3,568.5 L830.0,567.5 L831.1,566.5 L831.8,567.7 L832.8,568.9 L833.8,570.1 L834.8,571.0 L834.1,572.5 L833.4,574.1 L832.3,575.6 L830.8,575.3 L829.1,575.1 L827.3,574.8Z" fill="#fff" stroke="#4c4c4c" stroke-width=".8"/>
<path d="M649.5,527.5 L650.9,526.8 L652.3,526.1 L653.7,525.8 L655.1,525.0 L655.7,527.5 L654.7,528.8 L653.5,529.8 L652.6,531.3 L650.1,530.7Z" fill="#fff" stroke="#4c4c4c" stroke-width=".8"/>
<path d="M605.6,537.3 L607.2,537.0 L608.8,536.1 L610.6,535.9 L612.0,536.7 L613.5,537.7 L615.0,538.2 L613.7,539.2 L612.5,540.4 L610.9,540.0 L609.2,539.7 L607.5,539.4Z" fill="#fff" stroke="#4c4c4c" stroke-width=".8"/>
<path d="M552.0,540.6 L553.6,540.2 L554.9,539.6 L556.4,538.8 L556.9,540.4 L557.6,541.9 L557.2,543.1 L556.4,544.4 L555.9,545.6 L555.7,546.9 L554.2,546.8 L552.6,546.3Z" fill="#fff" stroke="#4c4c4c" stroke-width=".8"/>
<path d="M521.3,563.2 L522.7,563.4 L523.7,564.1 L525.1,564.4 L526.4,564.4 L527.6,565.0 L528.8,566.9 L527.6,567.5 L526.3,567.8 L525.1,568.2Z" fill="#fff" stroke="#4c4c4c" stroke-width=".8"/>
<path d="M506.6,601.3 L507.8,602.0 L507.8,603.4 L508.4,604.7 L508.3,606.0 L508.6,607.3 L508.9,608.7 L509.2,610.0 L508.8,611.3 L509.2,612.7 L509.3,614.0 L509.4,615.5 L509.7,616.7 L510.0,618.0 L510.1,619.5 L510.3,620.7 L509.2,620.7Z" fill="#fff" stroke="#4c4c4c" stroke-width=".8"/>
<path d="M505.7,581.3 L507.0,581.7 L508.7,581.6 L510.1,581.9 L510.7,584.4 L509.2,584.7 L507.6,585.1Z" fill="#fff" stroke="#4c4c4c" stroke-width=".8"/>
<path d="M970.7,131.9 L969.9,132.5 L968.5,133.1 L968.6,134.2 L968.4,135.7 L967.6,136.3 L966.8,136.4 L966.8,138.7 L965.5,138.6 L965.1,140.1 L963.7,139.5 L963.9,141.3 L963.1,142.8 L961.8,142.4 L962.5,143.7 L959.9,142.4 L960.1,143.8 L960.1,145.6 L957.3,144.1 L958.3,145.8 L956.3,145.7 L955.4,147.0 L955.1,147.6 L954.8,148.3 L955.3,149.6 L953.8,150.5 L953.5,151.2 L953.8,152.6 L953.4,153.4 L951.7,153.6 L951.3,153.1 L951.3,155.9 L950.1,155.1 L948.8,154.7 L948.5,157.3 L947.0,155.5 L946.4,156.3 L945.9,156.8 L945.1,157.6 L945.5,158.9 L945.5,159.7 L945.0,160.5 L942.8,160.3 L941.9,161.6 L942.6,162.6 L942.0,163.4 L940.9,162.5 L939.1,163.2 L938.6,163.2 L938.5,165.2 L937.6,165.1 L936.4,164.2 L936.1,167.3 L934.9,165.3 L935.3,167.6 L933.8,167.6 L932.3,167.0 L933.1,169.2 L932.3,170.4 L930.7,170.1 L928.8,170.7 L929.4,172.0" fill="none" stroke="#555555" stroke-width="3.0" stroke-linejoin="round" stroke-linecap="round"/>
<path d="M944.5,145.1 L945.6,145.4 L945.7,146.8 L945.1,148.7 L946.3,149.2 L946.3,150.1 L946.3,151.2 L946.9,152.1 L949.0,150.8 L948.7,152.7 L950.1,153.2 L951.2,152.3 L951.8,152.0 L951.6,150.7 L953.7,151.1 L953.8,150.1" fill="none" stroke="#555555" stroke-width="2.2" stroke-linejoin="round" stroke-linecap="round"/>
<path d="M955.1,156.4 L954.8,157.8 L953.0,157.6 L952.7,157.3 L951.7,158.1 L950.7,158.7 L950.1,159.5 L949.1,159.2 L948.1,161.2 L948.3,161.0 L948.2,162.6 L946.7,162.7 L946.6,162.2 L945.4,163.9 L944.8,163.5 L943.8,164.5" fill="none" stroke="#555555" stroke-width="1.2" stroke-linejoin="round" stroke-linecap="round"/>
<path d="M940.1,160.0 L939.7,161.5 L939.1,162.0 L937.8,162.3 L937.9,163.3 L936.8,163.7 L935.6,163.7 L935.1,165.0 L935.1,166.0 L933.5,166.0 L933.1,167.0 L932.9,168.6 L931.7,168.2 L931.9,169.6 L930.4,170.0 L930.1,170.6 L930.1,171.4 L930.2,172.9 L929.3,173.7 L928.5,174.1 L927.9,174.8 L928.2,176.3" fill="none" stroke="#555555" stroke-width="2.0" stroke-linejoin="round" stroke-linecap="round"/>
<path d="M888.8,253.9 L889.6,253.7 L890.9,253.1 L891.5,252.9 L892.2,252.4 L893.4,253.0 L894.6,252.2 L895.4,251.6 L896.3,251.4 L896.9,250.7 L898.2,250.9 L898.5,249.7 L899.1,249.1 L900.4,249.4 L900.4,247.9 L902.0,248.1 L902.1,247.4 L903.3,247.5 L903.8,246.4 L904.9,245.9 L905.5,245.3 L906.3,245.1 L907.4,244.4 L907.7,243.4 L908.4,243.0 L909.3,242.4 L910.5,242.1 L911.0,241.3 L911.9,240.5 L912.5,240.1 L913.6,239.6 L913.8,238.8 L915.3,239.1 L915.7,238.1 L916.6,237.6 L916.7,236.6 L918.5,236.9 L918.6,235.5 L919.9,235.5 L920.1,234.6" fill="none" stroke="#555555" stroke-width="1.8" stroke-linejoin="round" stroke-linecap="round"/>
<path d="M911.3,235.1 L912.1,234.5 L913.3,234.3 L914.0,233.7 L915.1,233.6 L916.1,233.7 L917.1,233.3 L918.1,233.5 L919.1,233.2" fill="none" stroke="#555555" stroke-width="1.2" stroke-linejoin="round" stroke-linecap="round"/>
<path d="M923.8,215.7 L924.8,216.2 L924.6,217.6 L924.9,218.1 L925.7,218.8 L926.5,219.3 L927.4,219.9 L927.7,221.8 L928.8,221.9 L927.8,222.7 L926.3,222.6 L925.5,222.1 L924.4,221.8 L924.0,220.6 L923.2,220.1" fill="none" stroke="#555555" stroke-width="2.5" stroke-linejoin="round" stroke-linecap="round"/>
<path d="M863.4,293.0 L863.8,294.3 L865.5,294.7 L866.2,296.1 L866.7,297.0 L866.7,298.0 L866.2,299.4 L865.9,300.2 L865.5,301.4 L866.5,302.5 L867.5,303.0 L866.6,304.3 L866.4,304.9 L867.0,306.4 L867.1,307.2" fill="none" stroke="#555555" stroke-width="1.8" stroke-linejoin="round" stroke-linecap="round"/>
<path d="M864.2,285.5 L864.2,287.0 L864.9,287.9 L865.5,288.9 L864.4,290.0 L864.5,291.2 L864.6,292.2" fill="none" stroke="#555555" stroke-width="1.6" stroke-linejoin="round" stroke-linecap="round"/>
<path d="M844.6,313.0 L845.5,312.9 L846.7,313.1 L847.4,312.5 L848.6,311.8 L849.2,311.4 L850.0,312.3 L850.7,313.2 L852.0,313.6 L853.1,313.6 L853.4,314.7 L854.8,314.3 L855.6,315.2 L856.7,315.6 L857.5,316.0 L858.5,316.9 L859.6,316.2 L859.5,317.5 L860.5,317.7 L861.7,318.0" fill="none" stroke="#555555" stroke-width="2.2" stroke-linejoin="round" stroke-linecap="round"/>
<path d="M847.9,318.0 L849.3,318.1 L849.8,318.8 L851.2,318.6 L851.3,320.5 L852.0,320.7 L853.2,319.9 L854.2,321.0 L855.0,321.4 L855.9,322.1 L856.0,322.8 L857.4,323.3 L857.5,324.5 L858.0,324.6 L859.0,325.6 L860.0,325.6 L860.9,325.4 L861.8,326.9 L862.9,326.3 L863.7,327.2 L864.2,327.8 L865.0,328.1" fill="none" stroke="#555555" stroke-width="1.8" stroke-linejoin="round" stroke-linecap="round"/>
<path d="M854.2,329.7 L855.5,329.7 L856.1,330.7 L856.8,331.1 L857.8,331.7 L859.2,331.4 L860.1,331.4 L860.9,332.4 L861.7,333.1 L862.3,333.4 L863.3,332.6 L864.5,333.4 L865.0,333.9" fill="none" stroke="#555555" stroke-width="1.6" stroke-linejoin="round" stroke-linecap="round"/>
<path d="M879.2,318.0 L879.6,319.0 L879.0,319.9 L879.1,320.8 L878.9,321.7 L878.7,322.9 L877.6,323.4 L877.5,324.2 L877.6,325.6 L877.5,326.4 L877.9,327.5 L877.6,328.3 L876.3,329.4 L876.6,330.0 L876.7,331.0 L876.5,332.3 L876.0,332.9 L875.6,334.0 L875.1,334.8 L875.5,336.0" fill="none" stroke="#555555" stroke-width="1.8" stroke-linejoin="round" stroke-linecap="round"/>
<path d="M854.4,321.2 L855.5,321.4 L855.6,322.7 L856.9,322.5 L857.5,323.7 L859.0,323.5 L859.5,324.0 L860.5,324.5 L861.2,324.4 L862.6,324.8 L863.0,325.0 L863.8,326.3" fill="none" stroke="#555555" stroke-width="1.6" stroke-linejoin="round" stroke-linecap="round"/>
<path d="M853.8,330.0 L854.7,329.5 L856.0,330.2 L856.7,331.1 L857.7,331.0 L858.3,331.8 L859.6,331.4 L860.0,331.8 L861.5,331.5 L862.3,331.3 L863.2,331.5 L864.1,332.2 L865.0,332.5 L865.5,333.2 L866.5,334.4 L867.2,334.0 L868.2,335.0" fill="none" stroke="#555555" stroke-width="1.6" stroke-linejoin="round" stroke-linecap="round"/>
<path d="M850.6,336.3 L851.2,337.2 L852.6,337.1 L853.1,336.2 L853.9,337.0 L855.3,337.2 L855.8,337.2 L857.3,337.1 L857.6,337.6 L858.5,337.9 L859.6,338.5 L860.8,338.5 L861.2,338.7 L862.7,337.8 L863.1,338.1 L864.2,338.9 L865.0,338.8 L865.7,340.2 L866.4,340.3 L867.8,339.5 L868.6,340.1 L868.8,342.0 L870.0,341.9 L870.7,341.2 L871.8,342.3 L872.8,341.5 L873.7,341.8 L874.4,340.8 L875.7,340.6" fill="none" stroke="#555555" stroke-width="1.8" stroke-linejoin="round" stroke-linecap="round"/>
<path d="M872.5,320.0 L872.3,320.9 L872.6,321.8 L872.7,322.9 L872.5,323.8 L872.4,324.7 L872.6,325.7 L872.6,326.4 L872.8,327.5 L872.9,328.4 L873.5,329.2 L874.0,330.4 L873.4,331.4 L873.7,332.3 L874.3,333.3 L875.0,334.3 L874.8,335.3" fill="none" stroke="#555555" stroke-width="2.0" stroke-linejoin="round" stroke-linecap="round"/>
<path d="M878.5,320.0 L878.5,320.8 L878.3,321.7 L878.4,322.9 L877.9,323.9 L878.1,324.7 L877.9,325.6 L878.1,326.7 L877.9,327.5 L877.6,328.4 L877.2,329.2 L877.6,330.3 L876.8,331.1 L877.3,332.2 L876.5,332.9 L876.3,333.7 L876.8,334.8 L876.3,335.6" fill="none" stroke="#555555" stroke-width="1.6" stroke-linejoin="round" stroke-linecap="round"/>
<path d="M875.7,340.6 L875.9,341.6 L876.2,342.5 L876.7,343.4 L877.4,344.1 L877.5,345.0 L878.0,345.7 L878.2,346.9 L878.8,347.6 L879.4,348.3 L879.7,349.2 L880.1,349.9 L880.8,350.8 L880.7,351.9 L881.3,352.5 L881.7,353.5 L882.6,353.9 L883.2,354.9 L883.9,355.5 L884.5,356.3 L884.8,357.4 L885.7,357.9 L886.3,358.8" fill="none" stroke="#555555" stroke-width="2.0" stroke-linejoin="round" stroke-linecap="round"/>
<path d="M861.9,355.0 L863.2,355.1 L863.8,355.3 L863.9,357.2 L864.8,357.4 L865.7,357.6 L866.6,358.3 L866.8,359.3 L867.2,360.4 L867.3,361.2 L866.9,362.6 L867.8,362.3 L868.2,361.3 L869.6,360.7 L869.3,359.3 L871.3,360.0 L871.3,358.8 L872.0,358.5 L872.8,357.1 L873.7,357.9 L874.5,356.3 L876.1,357.3 L876.3,356.3" fill="none" stroke="#555555" stroke-width="1.8" stroke-linejoin="round" stroke-linecap="round"/>
<path d="M877.5,362.6 L878.6,363.2 L878.0,364.3 L879.9,364.6 L879.7,365.2 L880.0,366.3 L881.0,366.1 L881.5,364.7 L882.3,364.4 L883.2,363.8" fill="none" stroke="#555555" stroke-width="1.8" stroke-linejoin="round" stroke-linecap="round"/>
<path d="M862.5,373.8 L863.3,373.9 L864.4,373.5 L865.6,373.7 L866.9,372.6 L867.8,374.2 L868.8,373.2 L869.9,373.2 L870.3,374.8 L871.0,375.0 L872.5,375.1 L873.5,376.1 L872.3,377.4 L873.7,378.3 L872.7,378.8 L873.2,380.1 L872.7,380.9 L872.1,381.6 L871.3,382.6" fill="none" stroke="#555555" stroke-width="2.4" stroke-linejoin="round" stroke-linecap="round"/>
<path d="M864.4,383.2 L864.7,384.3 L866.3,384.4 L866.9,384.2 L868.1,384.8 L869.1,384.9 L870.0,384.9 L870.1,386.0 L871.3,386.3 L872.3,386.1 L873.4,386.7 L874.3,385.9 L875.1,386.4 L875.7,385.3 L876.7,384.9 L877.5,385.1" fill="none" stroke="#555555" stroke-width="2.0" stroke-linejoin="round" stroke-linecap="round"/>
<path d="M860.6,393.8 L861.6,393.4 L862.9,394.0 L864.2,393.9 L865.0,393.8 L865.5,393.0 L866.8,393.0 L867.7,392.7 L869.0,392.6 L869.5,392.2 L870.4,391.0 L871.3,391.3 L872.2,391.3 L873.0,391.2 L874.0,391.5 L874.7,392.4 L876.0,391.4 L876.9,392.0" fill="none" stroke="#555555" stroke-width="1.4" stroke-linejoin="round" stroke-linecap="round"/>
<path d="M834.1,433.0 L832.7,432.9 L833.3,435.4 L830.8,434.5 L831.8,436.7 L830.4,436.5 L830.5,437.1 L829.6,437.8 L829.5,438.4 L828.1,439.3 L827.0,439.2 L827.3,441.1 L826.5,441.9 L825.8,442.7 L825.0,441.9 L824.0,443.0 L824.2,443.8 L823.8,445.1 L821.6,444.5 L822.1,446.5 L821.3,446.8 L820.4,447.7 L820.1,447.8 L819.8,449.7 L818.3,449.0 L817.0,449.4 L816.5,451.0 L816.5,451.1 L815.2,452.2 L815.3,453.1 L814.7,453.3 L814.3,454.1 L813.1,454.4 L812.7,455.9 L813.0,457.6 L811.0,457.0 L810.0,457.6 L810.5,458.4 L809.9,460.0 L807.9,459.6 L808.1,461.2 L807.8,461.8 L808.0,463.1 L806.1,463.9 L806.2,464.2 L806.2,465.5 L806.3,466.7 L805.9,467.4 L807.4,468.2 L806.0,469.3 L805.1,469.8 L805.9,470.8 L805.8,472.0 L805.3,473.1 L805.2,474.5 L804.8,475.5 L805.0,475.8 L805.3,476.9 L805.0,477.7 L803.2,478.0 L803.8,478.9 L802.4,480.1 L802.4,481.0 L802.2,481.6 L802.8,483.1 L802.7,483.9 L803.1,485.3 L803.3,485.8 L803.7,486.8 L802.2,487.4 L803.0,488.4 L804.1,489.6 L803.0,490.7 L802.6,491.0 L803.0,492.0 L803.5,493.1 L804.6,493.4 L802.6,495.0 L803.2,496.0 L805.4,497.0 L803.4,497.4 L804.4,498.1 L804.2,499.9 L803.5,501.0 L805.5,500.8 L805.5,502.0 L805.3,503.1" fill="none" stroke="#555555" stroke-width="2.4" stroke-linejoin="round" stroke-linecap="round"/>
<path d="M656.3,527.5 L657.2,526.2 L658.1,527.3 L659.4,526.5 L659.8,525.7 L660.3,527.0 L660.9,528.0 L660.3,528.8 L660.5,530.0 L659.5,530.6 L658.7,531.4 L658.8,532.6 L658.5,533.3 L657.5,534.5 L658.5,535.9 L657.6,536.3 L657.3,537.7 L655.8,537.3 L655.3,538.0 L655.3,539.6 L654.1,539.4" fill="none" stroke="#555555" stroke-width="2.6" stroke-linejoin="round" stroke-linecap="round"/>
<path d="M643.8,538.2 L644.2,538.9 L644.1,540.3 L645.1,540.4 L646.0,541.5 L646.3,542.0 L646.3,543.2 L647.4,543.0 L647.9,542.6 L649.1,543.6 L650.1,542.8 L650.8,542.0 L651.6,542.1 L652.6,542.3 L653.5,543.3 L654.3,542.0 L655.1,542.5 L656.1,543.2 L656.7,544.0 L657.8,543.3 L658.8,543.8 L659.4,544.7 L660.7,545.2 L661.6,545.3 L663.0,545.1 L663.8,545.7 L664.0,546.7 L662.6,547.6 L662.0,548.3 L661.5,549.2 L661.1,549.8" fill="none" stroke="#555555" stroke-width="1.7" stroke-linejoin="round" stroke-linecap="round"/>
<path d="M622.5,545.1 L623.3,544.8 L624.3,545.6 L624.4,546.8 L625.2,547.5 L626.0,548.0 L627.8,547.2 L628.0,548.0 L629.3,548.0 L629.6,549.3 L631.2,549.1 L631.3,550.1 L632.3,549.8 L633.0,549.6 L634.0,549.3 L635.4,548.9 L636.3,549.7 L637.5,550.0 L638.3,548.6 L639.0,548.1 L640.1,548.8 L641.3,548.1 L642.1,547.8 L642.8,547.3 L644.0,547.6 L645.1,547.0" fill="none" stroke="#555555" stroke-width="2.0" stroke-linejoin="round" stroke-linecap="round"/>
<path d="M694.5,516.5 L695.7,516.9 L696.9,516.9 L697.0,515.2 L698.2,516.1 L699.7,515.8 L700.1,515.0 L700.9,515.7 L702.1,515.0 L702.8,513.7 L703.9,513.6 L704.7,514.1 L705.8,514.5 L706.7,512.9 L708.1,512.8 L708.9,513.5 L710.2,513.2 L710.5,512.7 L711.6,512.8 L712.7,512.6 L713.4,512.5 L714.7,514.1 L715.3,513.6 L716.0,513.8 L717.3,513.1 L718.4,513.8 L719.0,512.9" fill="none" stroke="#555555" stroke-width="1.3" stroke-linejoin="round" stroke-linecap="round"/>
<path d="M667.6,526.3 L667.9,527.3 L668.6,528.1 L668.9,529.2 L669.5,530.0 L669.2,531.0 L668.9,531.9 L668.3,532.6 L668.2,533.7 L667.6,534.5 L667.2,535.4 L667.0,536.3" fill="none" stroke="#555555" stroke-width="0.9" stroke-linejoin="round" stroke-linecap="round"/>
<path d="M558.9,545.6 L557.9,545.9 L557.9,547.2 L556.6,547.0 L555.9,548.4 L555.5,548.9 L554.0,549.1 L553.9,550.0 L552.7,550.5 L552.4,551.2 L552.3,552.1 L551.5,552.9 L550.6,553.3 L550.7,554.5 L549.6,554.9 L548.7,555.6 L548.1,556.2 L547.6,556.9" fill="none" stroke="#555555" stroke-width="1.6" stroke-linejoin="round" stroke-linecap="round"/>
<path d="M525.1,570.7 L524.4,571.4 L523.9,572.4 L523.0,572.4 L521.9,572.5 L521.5,574.0 L520.0,573.5 L519.6,574.6 L518.8,575.1 L518.0,575.6 L517.3,576.3 L516.4,576.7 L516.3,578.2 L515.6,578.7 L514.9,579.7 L513.9,579.6 L513.5,580.6 L512.6,581.3 L512.6,582.2 L512.1,583.1 L511.6,583.9 L510.9,584.7 L510.5,585.7 L510.0,586.7 L509.7,587.4 L508.7,588.2 L508.2,588.8" fill="none" stroke="#555555" stroke-width="1.6" stroke-linejoin="round" stroke-linecap="round"/>
<path d="M107.5,104.2 L106.9,105.3 L107.7,106.1 L106.4,107.0 L106.9,108.4 L106.7,109.2 L107.6,109.4 L108.3,108.6 L109.6,108.6 L110.0,108.1 L111.1,108.5 L112.1,107.5 L111.1,107.4 L110.9,108.8 L109.9,108.8 L108.8,109.2 L109.1,110.3 L110.1,111.0 L109.6,112.3 L110.4,113.4 L109.3,113.2 L108.4,113.5 L107.5,114.2 L107.6,115.4 L106.3,116.1 L106.9,117.5 L105.8,118.4 L105.4,119.4 L104.6,120.0 L105.2,121.1 L104.2,121.7 L105.1,122.4 L106.7,122.5 L107.7,123.3 L108.7,122.9 L109.9,122.6 L110.8,123.4 L111.9,123.3 L112.9,124.5 L113.7,125.3 L114.2,125.9" fill="none" stroke="#555555" stroke-width="1.6" stroke-linejoin="round" stroke-linecap="round"/>
<path d="M802.0,494.3 L802.1,495.3 L802.2,496.4 L802.3,497.3 L802.3,498.4 L802.7,499.3 L802.8,500.2 L803.3,501.1 L803.1,502.3 L803.5,503.1 L803.2,504.0 L803.6,504.9 L803.5,505.9 L803.8,506.8 L803.8,507.7 L804.3,508.5 L804.4,509.4 L804.4,510.3 L804.1,511.4 L804.5,512.2 L804.5,513.1 L804.9,513.9 L804.7,515.0 L805.3,516.0 L805.2,516.8 L805.8,517.7 L806.4,518.6 L806.5,519.5 L806.5,520.6 L806.6,521.5 L807.1,522.4 L807.9,523.2 L807.7,524.3 L808.3,525.1 L807.2,525.4 L806.3,526.4 L806.3,525.4 L806.1,524.4 L805.3,524.0 L805.0,522.9 L805.0,522.0 L804.8,521.1" fill="none" stroke="#555555" stroke-width="1.0" stroke-linejoin="round" stroke-linecap="round"/>
<path d="M823.8,531.2 L824.2,532.2 L825.1,533.1 L826.0,533.8 L826.4,534.9 L827.0,535.6 L827.5,536.5 L828.3,536.8 L829.0,537.3 L829.5,538.4 L830.5,538.9 L831.1,539.4" fill="none" stroke="#555555" stroke-width="1.8" stroke-linejoin="round" stroke-linecap="round"/>
<path d="M790.6,555.7 L791.5,556.4 L792.7,556.0 L793.7,556.3 L794.5,556.2 L795.7,556.9 L795.8,557.9 L795.7,559.3 L795.5,560.3 L795.0,561.3 L794.9,562.1 L794.7,563.0 L794.2,564.3 L793.8,565.0" fill="none" stroke="#555555" stroke-width="1.5" stroke-linejoin="round" stroke-linecap="round"/>
<path d="M848.9,603.8 L848.6,604.5 L847.4,605.3 L847.4,606.4 L847.3,607.1 L846.4,607.6 L845.3,608.2 L844.6,608.7 L843.8,609.5 L843.0,608.9 L841.8,609.2 L840.9,610.1 L840.1,610.1 L838.9,610.2 L838.5,610.7 L837.6,611.4 L836.2,611.4 L835.6,610.4 L834.7,610.2 L833.4,610.8 L832.6,610.1 L831.6,609.3 L831.8,608.6 L831.7,607.5 L830.7,607.0" fill="none" stroke="#555555" stroke-width="1.8" stroke-linejoin="round" stroke-linecap="round"/>
<path d="M850.1,599.5 L850.0,600.4 L849.7,601.3 L849.6,602.2 L849.5,603.3 L849.5,604.2 L849.0,605.1 L848.8,606.1 L848.9,607.0 L848.1,607.6 L847.5,608.6 L847.3,609.4 L846.7,610.3 L846.1,611.0 L845.6,611.9 L845.0,612.8 L844.2,613.4 L843.9,614.4 L843.2,615.1 L842.4,615.9 L841.7,616.5 L840.9,616.8 L839.9,617.2 L839.1,618.0 L838.4,618.6 L837.6,619.1 L836.7,619.7 L835.8,620.1 L835.1,620.7" fill="none" stroke="#555555" stroke-width="0.9" stroke-linejoin="round" stroke-linecap="round"/>
<path d="M832.6,622.0 L831.5,622.1 L830.9,623.0 L830.0,623.3 L828.8,623.1 L827.7,623.2 L826.8,623.8 L826.2,624.7 L825.1,624.5 L824.4,624.8 L822.9,624.6 L822.4,625.2 L821.2,625.1 L820.1,625.0 L819.4,625.6 L818.5,625.8 L817.7,625.9 L816.6,626.2 L815.7,627.1 L814.8,626.3 L813.8,627.0" fill="none" stroke="#555555" stroke-width="1.6" stroke-linejoin="round" stroke-linecap="round"/>
<path d="M83.8,300.9 L84.4,299.8 L85.4,299.6 L85.5,300.8 L86.1,301.6 L85.9,302.5 L87.1,302.6 L88.4,303.4 L89.0,304.0 L90.3,303.8 L90.7,304.5 L91.7,305.0 L92.7,304.6 L94.1,304.7 L95.0,304.6 L95.7,305.3 L97.0,305.4 L97.4,306.6 L98.4,307.1" fill="none" stroke="#555555" stroke-width="1.8" stroke-linejoin="round" stroke-linecap="round"/>
<path d="M78.3,306.7 L79.3,306.3 L80.7,306.9 L81.7,306.7 L82.1,307.7 L82.9,308.4 L82.8,309.3 L83.4,310.4 L83.4,311.2 L82.9,312.3 L83.4,313.4 L83.5,314.6 L83.7,315.7 L84.2,316.7 L84.9,317.4 L85.9,317.5" fill="none" stroke="#555555" stroke-width="1.5" stroke-linejoin="round" stroke-linecap="round"/>
<path d="M71.7,301.3 L72.8,300.6 L73.8,300.0 L74.1,299.0 L74.2,297.9" fill="none" stroke="#555555" stroke-width="1.5" stroke-linejoin="round" stroke-linecap="round"/>
<path d="M67.1,305.0 L67.9,305.8 L68.8,306.5 L69.7,307.2 L70.4,307.9" fill="none" stroke="#555555" stroke-width="1.0" stroke-linejoin="round" stroke-linecap="round"/>
<path d="M93.8,396.7 L94.6,397.1 L95.7,397.1 L96.7,397.9 L97.5,398.4 L98.2,399.2 L97.9,400.0 L98.6,400.9 L99.2,401.7 L100.4,401.5 L101.7,400.9 L102.5,400.3 L103.3,399.9 L104.5,400.0 L105.0,399.2 L105.7,399.8 L106.8,400.7 L107.5,401.3 L108.5,401.0 L109.6,401.3 L110.4,401.7 L111.4,401.6 L112.5,402.1" fill="none" stroke="#555555" stroke-width="1.8" stroke-linejoin="round" stroke-linecap="round"/>
<path d="M104.6,417.5 L105.7,417.8 L106.6,418.5 L107.5,418.8" fill="none" stroke="#555555" stroke-width="1.8" stroke-linejoin="round" stroke-linecap="round"/>
<path d="M115.4,414.6 L115.7,415.4" fill="none" stroke="#555555" stroke-width="1.5" stroke-linejoin="round" stroke-linecap="round"/>
<path d="M123.4,416.7 L124.4,417.1 L124.9,418.1 L126.1,418.4 L126.7,419.2 L127.0,420.2 L127.5,420.9 L128.0,421.7" fill="none" stroke="#555555" stroke-width="2.2" stroke-linejoin="round" stroke-linecap="round"/>
<path d="M120.9,426.3 L121.2,427.3 L121.7,428.1 L122.3,429.0 L122.5,430.1 L123.2,430.7 L123.8,431.5 L124.6,432.1" fill="none" stroke="#555555" stroke-width="1.8" stroke-linejoin="round" stroke-linecap="round"/>
<path d="M855.9,291.3 L856.2,292.7 L857.0,293.3 L854.8,294.5 L856.6,295.7 L855.4,295.7 L856.6,297.2 L855.8,298.1 L857.0,299.4 L855.7,300.1 L856.6,300.9 L856.1,302.3 L857.2,302.7 L857.0,303.4 L856.0,304.5 L856.2,305.5 L857.3,306.6 L858.3,306.7 L857.4,309.2 L858.4,308.9 L859.6,310.1 L859.0,311.1 L860.7,311.8 L860.0,312.9 L861.2,314.1 L861.0,314.8 L861.6,315.4 L860.6,317.3 L863.0,317.7 L861.4,318.6 L863.6,318.8 L862.9,320.5 L864.1,321.3 L864.3,322.6 L863.6,323.4 L864.1,324.2 L864.6,325.2 L864.0,326.4 L865.4,326.3 L864.7,327.9 L866.0,328.2 L863.9,330.4 L864.5,330.5 L865.0,331.7 L864.4,333.2 L865.5,333.5 L866.1,333.9 L865.9,335.4 L865.4,336.9 L866.3,337.2 L867.7,338.0 L866.6,338.6 L867.3,339.8 L868.1,340.6" fill="none" stroke="#555555" stroke-width="1.7" stroke-linejoin="round" stroke-linecap="round"/>
<path d="M860.8,291.3 L861.4,291.8 L860.6,292.8 L859.9,294.2 L861.1,295.2 L861.9,295.9 L859.9,296.7 L861.8,298.1 L861.0,299.5 L861.3,300.1 L860.5,301.4 L862.3,301.7 L861.2,303.4 L862.9,304.4 L863.2,305.1 L862.9,306.4 L864.6,307.0 L865.3,307.7 L863.8,308.9 L864.8,310.1 L865.9,310.1 L866.2,310.9 L866.4,312.4 L866.4,312.7 L868.8,312.5 L869.3,312.9 L868.2,315.0 L869.8,315.1 L869.4,316.3 L869.7,317.2 L871.0,317.1 L872.5,317.5 L872.5,318.7 L872.4,320.1 L872.6,321.2 L873.8,322.3 L874.1,322.5 L874.8,323.8 L874.4,325.1 L875.7,325.5 L874.7,327.3 L875.9,327.3 L875.9,328.0 L875.4,329.8 L876.3,330.4 L875.5,331.9 L877.1,332.0 L875.7,333.9 L878.0,334.1 L877.8,335.5 L877.2,336.4" fill="none" stroke="#555555" stroke-width="1.7" stroke-linejoin="round" stroke-linecap="round"/>
<g fill="none" stroke="#4c4c4c" stroke-width=".8" stroke-linejoin="round">
<path d="M622.2,134.2 L622.9,133.0 L623.5,131.6 L623.7,130.2 L624.5,128.9 L625.0,127.7 L625.4,126.2 L626.0,125.0 L625.3,126.3 L624.5,127.4 L623.9,128.6 L623.2,129.7 L622.3,130.9 L621.5,131.9 L620.7,133.0 L620.0,134.2 L620.6,132.9 L621.6,131.9 L622.1,130.6 L622.8,129.4 L623.6,128.2 L624.5,126.9 L625.3,125.8 L625.9,124.6 L626.7,123.4 L627.8,122.5 L629.0,121.3 L630.2,120.4 L631.4,119.6 L632.5,118.3 L633.5,117.5 L634.3,116.4 L635.4,115.4 L636.1,114.1 L637.3,113.5 L638.2,112.5 L639.0,111.2 L640.0,110.3 L641.4,110.5 L642.6,110.9 L644.1,111.3 L645.5,111.4 L646.7,111.8 L648.0,112.3 L649.5,112.4 L650.6,112.8 L652.1,113.0 L653.4,113.3 L654.7,113.2 L655.9,113.3 L657.3,113.0 L658.5,112.9 L659.9,112.8 L661.2,112.9 L662.5,112.5 L663.7,112.5 L665.0,112.5 L665.8,113.9 L666.7,115.0 L667.7,116.3 L668.4,117.4 L669.2,118.8 L670.0,120.0 L670.9,121.2 L671.7,122.2 L672.6,123.3 L673.4,124.4 L674.2,125.5 L675.1,126.7 L676.4,126.7 L677.7,127.0 L679.1,126.8 L680.6,127.1 L681.9,127.1 L683.2,127.3 L684.6,127.4 L686.0,127.1 L687.4,127.6 L688.6,127.5 L690.1,127.5 L690.1,129.1 L690.5,130.4 L690.9,131.9 L690.9,133.4 L691.9,134.6 L692.9,135.8 L693.9,137.0 L694.8,138.2 L695.9,139.2 L696.3,140.5 L696.4,141.9 L696.3,143.3 L696.7,144.7 L696.7,146.2 L696.7,147.6 L698.0,148.1 L699.1,149.0 L700.7,149.3 L701.8,150.1 L701.3,151.4 L700.5,152.7 L700.1,153.9 L699.9,155.4 L699.2,156.7 L700.6,157.2 L702.1,157.2 L703.4,157.6"/>
<path d="M706.8,160.9 L708.0,160.7 L709.4,160.8 L710.8,160.7 L712.1,161.0 L713.5,160.9 L714.8,161.0 L716.0,160.7 L717.4,161.0 L718.7,161.1 L720.1,160.9 L721.5,160.9 L722.9,160.9 L724.3,160.5 L725.6,160.4 L727.1,160.4 L728.5,160.3 L729.8,160.2 L731.3,160.3 L732.6,160.3 L734.0,160.1 L735.4,159.9 L736.8,160.1 L738.1,160.1 L739.5,160.0 L740.9,159.8 L742.4,160.1 L743.7,159.6 L745.1,159.7 L746.4,159.7 L747.9,159.8 L749.2,160.0 L750.4,160.3 L751.7,160.6 L753.1,160.6 L754.5,160.9 L755.9,160.9 L757.2,161.2 L758.5,161.4 L759.4,162.3 L760.4,163.3 L761.4,164.4 L762.4,165.3 L763.3,166.4 L764.3,167.3 L765.1,168.4 L766.3,169.3 L767.4,170.0 L768.4,171.1 L769.5,171.8 L770.6,172.6 L771.8,173.4 L772.9,174.3 L773.7,175.4 L774.5,176.7 L775.8,177.4 L776.6,178.5 L777.3,179.8 L778.4,180.8 L779.3,181.8 L778.1,182.4 L777.0,183.1 L775.9,183.9 L774.7,184.4 L773.5,185.1 L773.9,186.4 L774.8,187.5 L775.4,188.9 L776.0,190.1 L774.5,189.8 L773.3,189.6 L772.0,188.9 L770.6,188.7 L769.3,188.4 L767.8,188.4 L766.4,188.7 L764.9,188.6 L763.4,188.3 L761.8,188.4 L760.8,187.5 L759.6,186.6 L758.7,185.6 L757.8,184.5 L756.8,183.4 L755.8,182.2 L754.8,181.1 L753.8,180.0 L752.7,178.8 L751.8,177.6 L750.4,177.9 L749.1,178.3 L747.6,178.4 L748.6,179.4 L749.4,180.7 L750.0,182.0 L751.1,183.1 L751.9,184.3 L752.6,185.6 L753.5,186.8 L753.7,188.1 L753.9,189.6 L754.4,190.9 L754.3,192.5 L754.6,193.8 L754.8,195.4 L755.1,196.8 L754.9,198.1 L754.1,199.2 L754.0,200.6 L753.5,201.7 L752.9,202.9 L752.5,204.1 L752.0,205.5 L751.8,206.8 L752.1,208.2 L752.2,209.5 L752.5,211.0 L752.7,212.5 L753.0,213.8 L753.4,215.4 L753.5,216.8 L752.9,218.1 L752.4,219.3 L751.6,220.6 L751.0,221.9 L750.3,222.9 L749.5,224.2 L749.1,225.6 L748.5,226.8 L747.2,227.4 L746.5,228.5 L745.3,229.3 L744.3,230.1"/>
<path d="M720.9,167.6 L722.3,167.4 L723.6,166.9 L724.9,167.1 L726.1,166.9 L727.4,166.2 L728.8,166.2 L730.1,165.9 L731.5,165.6 L732.8,165.1 L734.1,164.7 L735.4,164.6 L736.8,164.2 L738.2,164.2 L739.7,163.8 L741.2,163.9 L742.8,163.3 L744.3,163.4 L744.6,164.7 L744.5,166.2 L744.5,167.6 L744.8,168.9 L745.1,170.3 L745.1,171.7 L743.8,171.8 L742.4,171.4 L740.9,171.3 L739.6,171.3 L738.2,171.2 L736.8,170.9 L735.6,170.2 L734.4,169.5 L733.0,169.2 L731.8,168.4 L730.4,168.5 L728.9,168.4 L727.4,168.5 L726.2,168.7 L724.6,168.8 L723.3,168.9 L721.8,168.7 L720.9,167.6"/>
<path d="M733.5,166.7 L734.9,166.3 L736.3,165.9 L737.4,165.2 L738.8,164.6 L740.1,164.2 L741.2,165.2 L742.5,165.8 L743.5,166.7 L742.9,168.4 L742.6,170.1 L741.2,170.1 L739.8,169.9 L738.3,169.9 L736.8,170.1 L735.7,168.8 L734.5,167.8 L733.5,166.7"/>
<path d="M626.7,135.9 L628.0,135.0 L629.2,134.4 L630.4,133.5 L631.7,132.5 L633.0,131.9 L634.0,130.9 L635.3,130.2 L636.7,129.7 L636.0,131.0 L635.2,132.2 L634.2,133.4 L632.8,134.2 L631.7,135.3 L630.5,136.1 L629.2,137.0 L628.0,136.5 L626.7,135.9"/>
<path d="M630.0,125.0 L630.8,123.9 L631.7,122.7 L632.5,121.7 L632.7,123.0 L633.4,124.2 L632.1,125.4 L630.8,126.4 L630.0,125.0"/>
<path d="M634.2,120.8 L634.9,119.7 L635.9,118.7 L636.7,117.5 L637.0,118.8 L637.5,120.0 L636.4,121.1 L635.4,122.5 L634.2,120.8"/>
<path d="M637.5,116.7 L638.7,115.5 L640.0,114.2 L640.4,115.4 L641.2,116.7 L639.9,117.7 L638.9,118.8 L637.5,116.7"/>
<path d="M735.8,251.8 L737.2,251.4 L738.6,251.1 L740.0,251.2 L741.3,251.0 L742.6,250.9 L744.0,250.5 L745.3,250.1 L746.7,250.1 L747.7,249.2 L748.7,248.4 L749.9,247.6 L751.0,246.9 L751.8,245.8 L752.8,245.1 L754.0,244.3 L755.0,243.4 L755.9,242.6 L756.9,241.6 L757.8,240.6 L758.9,239.9 L759.6,238.7 L760.5,237.7 L761.3,236.8 L762.6,236.1 L763.4,235.1 L764.7,234.5 L766.2,234.5 L767.4,234.2 L768.7,233.9 L770.1,233.5 L771.5,233.3 L772.6,232.7 L774.1,232.5 L775.3,231.9 L776.7,231.8 L778.3,232.1 L780.0,232.4 L781.7,232.6 L780.6,231.9 L779.6,230.8 L778.4,230.1 L779.6,229.5 L780.8,228.6 L782.0,228.1 L783.3,227.4 L784.4,226.7 L785.6,226.0 L786.7,225.1 L788.1,224.8 L789.3,224.3 L790.4,223.6 L791.7,223.3 L793.1,223.1 L794.3,222.6 L795.5,222.3 L796.7,221.7 L798.4,223.4"/>
<path d="M794.2,214.2 L792.9,214.1 L791.5,214.4 L790.3,214.8 L789.0,214.9 L787.7,214.7 L786.3,215.1 L785.1,215.1 L785.1,213.7 L785.0,212.2 L784.9,210.7 L785.1,209.2 L785.9,208.0 L787.0,207.1 L788.0,206.0 L788.7,204.7 L789.7,203.7 L790.7,202.7 L791.7,201.7 L792.9,201.1 L794.1,200.5 L795.3,199.7 L796.5,199.2 L797.8,198.6 L798.9,197.9 L800.2,197.5 L801.3,196.7 L802.7,196.1 L804.0,195.6 L805.1,195.1 L806.3,194.8 L807.6,194.4 L808.9,194.0 L810.2,193.5 L811.3,192.7 L812.5,192.4 L813.8,192.0 L815.1,191.7 L816.1,190.8 L817.5,190.2 L818.6,189.3 L819.8,188.3 L820.9,187.5 L822.5,187.4 L823.8,187.1 L825.3,187.1 L826.8,186.7 L828.0,186.1 L829.1,185.5 L830.0,184.6 L831.3,184.0 L832.4,183.3 L833.4,182.5 L834.5,181.8 L835.5,181.0 L836.8,180.3 L837.9,179.9 L839.1,179.0 L840.1,178.4"/>
<path d="M815.1,190.9 L816.1,190.1 L817.1,189.3 L818.4,188.7 L819.8,188.6 L821.4,188.5 L822.8,188.1 L824.3,188.0 L824.8,190.0 L825.1,191.7 L823.9,192.9 L822.4,193.7 L820.9,194.7 L819.3,194.3 L817.6,193.7 L815.9,193.4 L815.7,192.1 L815.1,190.9"/>
</g>
<path d="M130.0,73.3 L130.9,72.7 L132.1,73.3 L133.2,73.0 L134.2,72.5 L135.3,73.2 L136.7,73.8 L137.3,72.7 L137.6,71.3 L137.5,70.0 L138.8,69.3 L138.4,70.2 L139.3,71.4 L139.4,72.1 L139.2,73.3 L140.0,74.1 L140.6,74.6 L141.7,75.0 L141.8,75.8 L141.9,76.9 L141.0,77.8 L141.2,78.8 L141.3,80.0 L140.3,81.2 L140.0,82.5 L140.2,83.9 L140.3,84.8 L140.9,85.8 L140.7,86.8 L140.2,87.6 L140.0,88.8 L140.5,89.9 L142.0,90.4 L142.5,91.7 L141.6,92.2 L141.1,93.0 L140.0,93.4 L139.2,94.4 L138.1,95.0 L137.5,95.9 L137.4,96.9 L137.2,97.9 L137.8,98.9 L137.6,99.9 L137.5,100.9 L137.1,102.1 L136.9,102.9 L136.7,104.2 L135.9,105.0 L134.7,105.6 L134.6,107.0 L133.6,107.8 L132.4,107.9 L131.7,109.2 L130.5,109.0 L129.4,110.1 L128.1,109.7 L127.0,109.9 L125.9,110.5 L125.0,110.1 L124.3,109.1 L123.4,108.4 L123.9,107.6 L123.8,106.3 L125.0,105.7 L125.9,104.6 L125.5,103.6 L124.8,102.4 L123.8,101.7 L124.8,101.0 L125.4,99.9 L125.7,98.9 L126.4,98.1 L127.5,97.5 L128.0,96.3 L128.7,95.8 L129.5,94.9 L130.0,94.2 L131.1,93.8 L131.7,92.5 L132.4,91.6 L133.3,90.7 L133.2,89.3 L134.2,88.4 L133.2,88.5 L132.2,87.9 L131.0,88.5 L130.0,88.4 L130.4,87.1 L130.1,86.3 L129.6,85.0 L130.8,85.2 L131.7,85.8 L133.0,85.7 L134.1,84.6 L135.0,84.2 L134.6,83.3 L134.6,82.1 L134.2,80.8 L133.2,80.3 L132.9,79.4 L132.0,78.8 L130.9,78.3Z M126.0,102.1 L128.2,98.5 L131.0,95.7 L133.0,96.9 L132.7,100.2 L131.4,102.7 L128.4,103.7Z" fill="#555555" fill-rule="evenodd" stroke="#555555" stroke-width=".6"/>
<circle cx="136.7" cy="77.1" r="0.58" fill="#fff"/>
<circle cx="138.5" cy="85.0" r="0.50" fill="#fff"/>
<circle cx="135.2" cy="94.4" r="0.50" fill="#fff"/>
<circle cx="137.2" cy="91.0" r="0.42" fill="#fff"/>
<circle cx="139.6" cy="80.0" r="0.42" fill="#fff"/>
<circle cx="134.2" cy="99.2" r="0.42" fill="#fff"/>
<circle cx="132.9" cy="76.7" r="0.50" fill="#fff"/>
<g fill="none" stroke="#4c4c4c" stroke-width="1.25" stroke-linejoin="round">
<path d="M223.4,577.5 L224.1,576.3 L224.7,575.4 L225.9,574.6 L226.6,573.6 L227.5,572.5 L228.8,572.1 L230.3,571.9 L231.5,571.3 L232.9,571.4 L234.4,571.2 L235.6,570.6 L236.9,570.2 L238.4,570.0 L239.2,569.2 L239.9,568.0 L240.9,566.9 L241.9,566.0 L242.5,564.6 L243.5,564.0 L244.0,562.7 L245.3,561.8 L245.8,560.6 L246.8,559.7 L247.5,558.5 L248.4,557.5 L249.8,556.9 L251.0,556.2 L252.3,555.5 L253.4,554.5 L254.7,554.2 L255.9,553.2 L257.2,552.4 L258.4,551.7 L259.7,551.1 L261.0,550.8 L262.5,550.2 L263.5,549.2 L265.0,548.9 L266.0,548.3 L267.3,547.7 L268.6,547.1 L270.1,546.7 L271.2,546.1 L272.4,545.7 L273.6,544.6 L274.8,544.1 L276.0,543.8 L277.3,543.2 L278.4,542.5 L279.7,541.8 L280.5,540.8 L281.8,540.0 L283.2,540.5 L284.5,541.4 L286.0,541.5 L287.1,542.4 L288.6,542.7 L290.1,543.4 L291.0,544.5 L291.7,545.9 L292.5,547.0 L293.4,548.4 L294.8,548.2 L296.0,548.2 L297.3,547.7 L298.8,548.0 L300.1,547.5 L301.1,548.5 L302.3,549.4 L303.8,550.0 L305.0,550.8 L306.0,551.9 L307.3,552.4 L308.4,553.4 L309.8,553.1 L311.2,552.8 L312.6,552.3 L314.1,552.4 L315.4,552.2 L316.8,551.7 L318.2,552.1 L319.5,551.9 L321.1,552.6 L322.5,552.6 L323.8,553.2 L325.1,553.4 L326.5,553.6 L327.9,554.2 L329.3,554.4 L330.8,554.5 L332.1,554.5 L333.5,555.0 L334.9,555.3 L336.3,555.5 L337.9,555.7 L339.1,556.0 L340.6,556.4 L342.0,556.5 L343.5,556.7 L344.8,556.4 L346.2,555.6 L347.4,555.2 L348.9,554.8 L350.1,554.2 L351.3,554.7 L352.8,555.2 L353.9,555.8 L355.0,556.3 L356.4,556.4 L357.6,557.1 L359.0,557.5 L360.2,558.1 L361.3,558.8 L362.7,559.2 L366.8,583.4 L372.0,605.1 L386.4,674.4 L390.8,696.9 L390.6,696.3 L392.6,696.7 L394.4,696.9 L395.6,696.3 L396.9,695.7 L398.2,695.1 L399.4,694.4 L401.1,694.1 L402.8,693.6 L404.4,693.1 L404.7,694.7 L405.2,696.1 L405.7,697.5 L406.6,699.1 L407.6,700.6 L408.8,701.4 L410.1,701.8 L411.2,702.6 L412.5,703.1 L413.8,703.8 L415.1,704.4 L416.4,705.0 L417.5,705.8 L418.8,706.2 L420.1,706.9 L420.4,708.2 L420.8,709.5 L421.3,710.7 L422.4,709.8 L423.4,709.0 L424.3,708.0 L425.2,707.1 L426.3,706.3 L426.6,704.7 L426.9,703.2 L427.3,701.6 L427.6,700.0 L428.8,699.1 L429.8,698.0 L431.0,697.1 L432.0,696.0 L433.2,695.0 L434.4,695.7 L435.3,696.6 L436.5,697.3 L437.6,698.1 L438.5,699.1 L439.3,700.3 L440.1,701.3 L441.3,702.1 L442.5,702.8 L443.9,703.5 L445.1,704.3 L446.4,705.0 L447.6,705.7 L448.9,706.1 L450.2,706.8 L451.3,707.6 L452.6,708.3 L453.9,708.7 L455.1,709.4 L455.8,710.5 L456.6,711.5 L457.5,712.6 L458.4,713.7 L459.2,714.7 L460.0,715.8 L460.9,716.8 L461.7,717.8 L462.6,718.8 L463.7,719.6 L464.7,720.4 L465.8,721.2 L466.7,722.1 L467.9,723.0 L468.9,723.8 L469.8,725.1 L470.7,726.4 L471.6,727.5 L472.6,728.8 L473.8,730.0 L475.1,730.8 L476.4,731.9 L477.9,732.0 L479.5,732.1 L481.1,731.9 L482.6,731.9 L484.0,732.4 L485.3,732.7 L486.7,733.0 L488.0,733.3 L489.4,733.6 L490.6,734.1 L492.0,734.4 L492.5,735.8 L492.7,737.2 L493.2,738.6 L493.5,739.9 L493.9,741.3 L494.6,742.6 L495.3,743.8 L495.9,745.0 L496.4,746.3 L496.2,747.8 L495.8,749.3 L495.8,750.8 L495.5,752.4 L495.2,753.8 L493.9,754.8 L492.7,755.7 L491.4,756.4 L486.4,756.4 L485.0,757.1 L483.8,757.9 L482.4,758.9 L481.4,760.1 L480.3,761.0 L479.1,761.5 L477.5,761.7 L476.4,762.6 L475.0,762.1 L474.0,761.0 L473.4,760.1 L472.0,759.5 L470.8,759.0 L469.8,758.1 L468.7,757.4 L467.6,756.4 L466.8,755.0 L466.2,754.0 L465.7,752.6 L464.9,751.1 L464.1,750.1 L463.4,748.8 L462.6,747.6 L461.1,747.2 L460.2,746.1 L458.7,745.8 L457.6,745.1 L456.0,745.2 L454.2,744.7 L452.6,745.1 L451.9,744.0 L450.6,743.2 L449.8,742.1 L448.4,741.6 L447.4,740.6 L446.2,739.7 L445.2,738.9 L444.4,737.8 L443.5,736.8 L442.5,736.0 L441.3,735.1 L440.6,734.0 L439.9,732.9 L439.0,731.9 L437.8,731.2 L437.0,729.8 L435.8,729.1 L435.0,728.1 L434.3,727.3 L433.4,726.1 L432.6,725.1 L432.4,723.6 L431.5,722.7 L431.2,721.2 L430.7,720.0 L430.1,718.8 L428.6,718.7 L427.1,718.3 L425.5,717.9 L424.1,717.5 L422.6,716.9 L421.3,716.1 L420.2,714.7 L419.1,713.8 L417.6,713.2 L416.2,712.8 L415.1,712.0 L413.8,711.8 L412.6,711.3 L411.4,710.5 L410.3,710.2 L408.9,709.6 L407.6,709.4 L406.2,708.8 L404.9,708.7 L403.7,707.8 L402.7,707.3 L401.3,706.9 L395.1,703.8 L393.3,703.7 L391.6,703.7 L390.1,703.2 L388.9,702.4 L387.6,701.3 L386.0,701.1 L384.4,701.7 L382.6,701.9 L381.2,701.8 L379.6,702.1 L378.1,702.1 L376.5,702.0 L375.1,702.5 L373.8,703.1 L372.0,703.4 L370.8,703.4 L369.0,703.4 L367.6,703.8 L367.5,705.1 L366.3,706.3 L366.5,707.5 L365.7,708.8 L365.7,707.5 L366.1,705.9 L366.5,704.6 L366.4,703.2 L365.0,702.3 L363.7,701.9 L362.8,700.6 L361.4,700.0 L359.9,700.3 L358.0,700.1 L356.9,699.3 L355.1,699.4 L353.9,698.4 L353.5,696.7 L352.6,695.7 L351.7,694.9 L350.5,693.8 L349.5,692.9 L348.8,691.9 L347.6,693.1 L346.3,694.4 L346.4,696.1 L347.0,697.3 L346.8,699.0 L347.0,700.4 L347.6,701.9 L346.5,702.9 L345.5,704.2 L345.1,705.7 L344.4,706.7 L343.3,707.9 L342.5,708.8 L342.3,710.3 L341.3,711.3 L340.5,710.4 L339.6,709.3 L338.1,708.7 L337.6,707.5 L336.4,708.4 L335.4,709.3 L334.7,710.3 L333.8,711.3 L332.4,711.2 L331.0,711.3 L329.4,711.9 L328.6,713.3 L327.6,714.5 L326.3,715.7 L325.2,717.0 L323.8,717.5 L322.5,718.2 L321.3,719.4 L319.9,720.4 L318.5,720.7 L317.4,721.6 L316.3,722.6 L314.5,722.7 L313.1,723.1 L311.3,723.2 L310.0,721.3 L311.0,720.1 L312.5,719.4 L313.1,718.2 L314.1,717.1 L315.3,716.3 L316.3,715.6 L316.9,714.4 L315.4,715.6 L313.8,716.3 L312.5,715.8 L311.6,714.5 L310.0,713.8 L310.1,711.9 L311.1,710.6 L311.3,708.8 L311.7,707.4 L312.1,706.2 L312.4,705.2 L312.8,704.0 L313.2,702.5 L312.8,701.2 L312.9,699.7 L312.3,698.5 L312.5,696.9 L313.6,696.4 L315.2,695.9 L316.4,695.8 L317.6,695.0 L319.1,694.8 L320.7,694.0 L322.6,693.8 L323.2,692.7 L323.8,691.3 L324.6,689.6 L326.1,688.7 L326.9,687.5 L326.1,688.4 L324.6,688.9 L323.9,690.0 L322.6,690.6 L320.8,691.1 L319.3,691.1 L317.6,691.3 L316.5,692.0 L315.2,692.9 L313.9,693.5 L312.5,693.8 L311.3,694.5 L310.0,695.0 L309.3,696.5 L309.8,698.4 L308.8,699.7 L308.8,701.3 L307.7,702.5 L307.1,703.9 L305.8,705.0 L305.0,706.3 L303.4,707.2 L301.9,707.5 L302.5,708.8 L302.3,710.1 L303.1,711.3 L302.0,712.3 L301.1,713.4 L299.7,714.0 L298.8,715.1 L297.6,715.6 L297.0,716.9 L295.9,717.9 L295.0,718.8 L294.7,720.0 L293.9,721.4 L293.5,722.4 L293.1,723.8 L294.4,724.3 L295.5,725.0 L296.2,726.4 L297.8,726.6 L298.8,727.6 L297.8,728.6 L297.3,729.8 L296.8,731.5 L296.3,732.6 L295.6,734.1 L294.6,735.1 L293.3,736.2 L292.5,737.6 L291.5,738.3 L290.6,739.6 L289.5,740.3 L288.4,741.1 L287.5,742.0 L286.4,742.8 L284.9,743.5 L283.6,744.3 L282.4,744.6 L281.1,745.6 L280.0,746.4 L275.1,751.8 L274.1,752.6 L273.1,753.3 L271.6,754.1 L270.9,755.1 L270.0,756.4 L268.9,756.7 L267.6,757.2 L266.8,758.5 L265.4,758.9 L264.2,759.8 L263.1,760.8 L262.3,761.7 L261.1,762.4 L259.5,762.7 L258.4,763.5 L257.4,764.4 L256.3,765.3 L255.1,765.8 L253.4,766.1 L252.2,766.7 L250.9,767.4 L250.1,768.5 L248.8,768.8 L247.3,769.5 L245.8,770.2 L244.4,770.9 L242.9,770.9 L241.7,771.8 L240.9,773.1 L239.5,773.2 L238.7,774.0 L237.6,775.1 L236.7,776.0 L227.5,779.8 L226.0,779.9 L224.6,779.4 L223.0,779.9 L221.5,779.9 L220.0,779.8 L220.2,778.4 L221.2,777.2 L221.2,776.0 L221.9,774.9 L223.2,774.3 L224.3,773.3 L225.0,772.2 L226.1,771.8 L227.6,771.4 L228.7,770.8 L230.1,770.9 L231.2,770.3 L232.5,770.1 L233.7,769.0 L234.8,768.8 L236.2,768.5 L240.1,768.5 L241.2,767.7 L242.0,766.6 L243.4,765.6 L243.9,764.1 L245.1,763.5 L246.4,762.7 L247.0,761.6 L248.2,761.1 L249.2,759.8 L250.5,759.4 L251.1,758.2 L252.5,757.8 L253.4,756.8 L254.6,755.9 L255.3,754.6 L256.5,754.2 L257.1,753.0 L257.9,751.7 L259.1,751.2 L260.1,750.1 L260.9,748.8 L261.9,748.1 L262.7,746.9 L263.4,745.8 L264.4,744.4 L265.1,743.4 L265.5,741.8 L265.9,740.5 L266.7,739.3 L267.3,737.8 L268.1,736.6 L268.4,735.1 L269.0,733.6 L269.1,732.2 L269.7,731.0 L270.2,729.6 L270.3,728.1 L270.9,726.8 L269.8,727.4 L268.5,728.2 L267.0,728.9 L265.8,729.2 L264.8,730.3 L263.4,730.9 L262.6,729.9 L261.4,729.4 L260.6,728.4 L259.1,727.7 L258.4,726.8 L257.5,727.6 L257.1,729.2 L256.5,730.4 L256.0,731.6 L255.1,732.6 L254.2,731.3 L253.5,730.3 L252.2,729.5 L251.2,728.3 L250.4,727.3 L249.7,725.9 L248.4,725.1 L247.1,725.6 L245.4,725.4 L244.2,726.3 L242.8,726.6 L241.6,726.8 L240.1,726.8 L238.8,727.0 L237.2,727.3 L235.8,727.2 L234.5,727.2 L233.1,727.0 L231.7,727.6 L231.7,726.0 L232.7,725.1 L233.0,723.7 L233.3,722.5 L233.9,721.0 L234.1,719.9 L234.2,718.4 L233.7,716.9 L233.2,715.6 L233.3,714.1 L232.5,712.7 L232.1,711.5 L232.3,709.7 L231.7,708.4 L230.4,708.4 L228.8,708.4 L227.6,708.1 L226.3,708.0 L224.9,707.3 L223.5,707.4 L222.3,707.0 L220.9,707.1 L219.3,707.3 L218.1,707.2 L216.7,706.7 L216.1,705.4 L215.3,704.3 L214.7,702.8 L213.8,701.9 L213.0,700.4 L212.6,699.1 L211.7,697.8 L210.9,696.7 L210.5,695.2 L210.8,693.9 L210.8,692.4 L210.7,690.9 L211.0,689.6 L210.9,688.1 L210.9,686.7 L210.2,685.5 L209.9,683.8 L209.0,682.5 L208.6,681.3 L208.1,679.7 L207.5,678.4 L208.6,677.2 L209.4,676.2 L210.1,674.9 L210.6,673.5 L211.7,672.4 L212.4,671.2 L213.4,670.0 L214.0,668.9 L215.5,668.3 L216.3,667.2 L217.2,666.2 L218.0,664.9 L219.3,664.5 L220.1,663.4 L220.6,662.1 L221.8,661.1 L222.4,659.9 L223.3,659.0 L224.1,657.7 L225.1,656.7 L226.3,657.2 L227.7,658.0 L228.9,658.1 L230.2,658.9 L231.7,659.2 L232.9,658.3 L233.9,657.3 L234.8,656.4 L235.6,655.2 L236.7,654.2 L238.1,654.7 L239.3,654.4 L240.6,655.0 L242.1,655.0 L243.4,655.0 L244.6,654.3 L245.5,653.2 L246.1,651.9 L247.6,651.2 L248.4,650.0 L248.7,648.7 L248.4,647.1 L248.5,645.7 L248.8,644.4 L249.1,643.0 L248.8,641.4 L249.2,640.0 L250.1,640.1 L249.9,638.8 L249.4,637.7 L248.6,636.5 L248.4,635.1 L247.2,635.5 L245.9,636.1 L244.7,636.2 L243.3,636.7 L242.1,636.8 L241.0,637.8 L239.8,638.2 L238.2,638.2 L237.2,638.9 L235.9,639.3 L234.4,638.6 L233.4,637.6 L231.9,637.6 L230.5,637.7 L229.2,637.1 L227.8,637.1 L226.5,637.1 L225.0,636.8 L223.6,636.8 L222.2,636.5 L220.9,636.0 L219.5,635.3 L218.1,635.1 L216.7,635.1 L216.4,633.5 L216.4,631.8 L215.8,630.1 L215.1,628.8 L214.8,627.3 L214.0,625.9 L213.4,624.6 L212.5,623.4 L211.6,622.4 L210.4,621.5 L209.4,620.1 L208.8,618.7 L207.6,618.0 L206.7,616.8 L207.8,616.0 L209.2,615.4 L210.4,614.8 L211.7,614.3 L212.9,613.6 L214.2,613.2 L215.4,612.2 L216.7,611.7 L217.7,610.9 L219.1,610.4 L220.4,609.9 L221.7,609.2 L223.0,609.1 L224.3,608.6 L225.8,608.8 L227.0,608.7 L228.3,608.7 L229.8,608.3 L230.9,608.1 L232.4,607.9 L233.8,607.8 L235.0,607.6 L235.5,609.0 L235.3,610.4 L236.0,612.0 L235.9,613.4 L237.0,614.1 L238.4,614.5 L239.7,615.1 L240.9,615.7 L242.1,616.5 L243.4,616.8 L244.6,616.2 L246.1,616.3 L247.5,615.9 L248.8,615.4 L250.1,615.1 L249.4,613.9 L248.9,612.5 L248.7,610.9 L247.9,609.9 L247.6,608.4 L246.7,607.4 L246.5,605.9 L245.9,604.5 L245.1,603.4 L243.2,602.7 L241.7,601.7 L240.6,600.6 L240.0,599.2 L239.2,598.1 L238.4,596.7 L237.3,595.2 L236.7,593.4 L236.1,592.2 L235.3,590.9 L235.2,589.4 L234.4,588.3 L233.9,586.8 L233.5,585.6 L232.7,584.3 L232.2,583.2 L231.7,581.7 L230.4,581.1 L229.1,581.1 L227.6,580.7 L226.4,580.2 L225.0,580.0Z"/>
<path d="M175.8,641.7 L177.3,641.2 L178.7,641.4 L180.2,641.2 L181.7,640.8 L182.9,641.7 L184.1,642.5 L185.5,643.4 L186.7,644.2 L187.8,645.0 L188.9,645.9 L190.1,646.8 L191.5,647.4 L192.7,648.5 L193.8,649.3 L195.0,650.0 L194.8,651.3 L194.2,652.5 L192.8,652.7 L191.2,653.2 L189.8,653.2 L188.3,653.4 L187.5,652.3 L187.0,651.0 L186.5,649.8 L185.4,648.7 L185.0,647.5 L183.8,647.2 L182.4,646.7 L180.9,646.8 L179.8,646.1 L178.3,645.8Z"/>
<path d="M194.2,698.4 L195.6,698.2 L196.8,698.0 L198.2,697.5 L199.4,697.7 L200.7,697.2 L202.1,697.1 L203.4,696.7 L204.7,697.3 L205.7,698.2 L206.9,699.2 L208.0,700.1 L207.8,701.7 L207.3,703.4 L206.7,705.1 L205.1,705.4 L203.3,705.7 L201.7,705.9 L200.5,705.1 L199.0,704.3 L197.8,703.6 L196.7,702.6Z"/>
<path d="M305.7,732.0 L306.6,732.9 L307.7,733.7 L308.8,734.4 L310.0,735.1 L310.8,736.7 L311.9,738.2 L310.9,739.4 L309.7,740.5 L308.2,741.3 L308.5,743.1 L308.8,744.7 L309.4,746.4 L308.9,747.5 L308.3,749.0 L307.6,750.1 L306.9,751.4 L305.3,752.1 L304.0,753.0 L302.5,753.9 L301.4,754.8 L300.0,755.5 L298.8,756.4 L297.7,757.3 L296.3,758.3 L295.0,758.9 L294.0,760.1 L293.1,761.6 L292.5,763.2 L291.1,763.9 L289.6,764.6 L288.1,765.1 L288.8,763.6 L289.4,762.0 L290.0,760.5 L290.9,759.3 L291.9,758.2 L291.0,757.3 L290.0,756.3 L289.4,755.1 L288.7,754.0 L288.5,752.5 L288.1,751.4 L289.0,750.2 L290.4,749.3 L291.3,748.2 L292.6,747.1 L293.7,746.3 L295.0,745.1 L296.5,744.2 L297.8,743.2 L298.8,742.0 L299.7,741.0 L300.8,739.9 L301.4,738.5 L302.5,737.6 L303.1,736.3 L303.7,735.0 L304.4,733.8Z"/>
<path d="M198.8,787.2 L199.8,786.2 L200.5,784.7 L201.6,783.5 L202.5,782.2 L204.0,782.2 L205.3,781.4 L206.7,781.2 L208.1,780.8 L209.7,780.2 L211.1,779.9 L212.5,779.8 L213.1,781.1 L214.4,782.1 L215.0,783.5 L213.8,784.0 L212.5,784.8 L211.2,785.4 L210.2,786.2 L208.8,786.5 L207.5,787.2Z"/>
<path d="M188.8,789.8 L190.0,789.4 L191.2,788.7 L192.7,788.6 L193.8,788.0 L195.1,789.3 L196.2,790.5 L195.0,790.9 L193.7,791.6 L192.7,792.6 L191.2,793.0Z"/>
<path d="M178.8,793.0 L179.9,792.4 L181.1,791.8 L182.5,791.4 L183.8,791.0 L184.9,791.8 L185.8,792.7 L187.0,793.5 L185.5,794.3 L184.0,794.8 L182.8,795.9 L181.2,796.5Z"/>
<path d="M163.8,798.0 L165.2,797.6 L166.4,796.7 L167.3,795.9 L168.8,795.5 L170.0,796.1 L171.2,797.4 L172.5,798.0 L171.4,798.8 L170.2,799.4 L169.2,800.3 L168.2,800.8 L167.0,801.5Z"/>
</g>
<path d="M425.1,709.4 L425.5,710.4 L426.6,710.1 L426.3,711.4 L427.4,712.1 L428.6,712.8 L427.9,713.9 L429.1,714.8 L429.8,715.4 L431.1,715.1 L431.0,716.7 L432.3,716.9 L432.6,717.5 L433.2,718.0 L432.7,719.6 L434.6,720.2 L434.5,720.5 L435.2,721.9 L436.5,722.3 L437.4,722.5 L437.6,723.9 L438.0,723.7 L437.7,725.4 L438.5,725.8 L439.1,726.9 L440.1,727.6 L440.7,728.2 L442.2,728.3 L441.6,730.1 L443.2,729.4 L443.9,730.3 L443.9,731.9 L444.7,732.3 L445.3,733.4 L446.1,733.3 L446.9,734.5 L446.8,736.3 L447.6,736.3 L449.1,736.9 L447.8,738.2 L449.1,738.3 L449.5,739.4 L450.7,739.5 L451.6,740.6 L452.4,741.6 L451.1,743.4 L452.0,743.3 L452.9,743.7 L453.2,745.1" fill="none" stroke="#555555" stroke-width="3" stroke-linejoin="round" stroke-linecap="round"/>
<path d="M435.1,701.3 L435.4,702.1 L435.4,702.9 L436.1,703.7 L436.2,705.0 L437.9,705.3 L437.4,706.3 L438.7,706.8 L437.6,708.3 L439.5,708.3 L438.8,710.0 L439.5,710.9 L440.1,711.3 L441.0,711.2 L442.3,712.0 L442.5,713.4 L442.8,713.7 L443.9,713.8 L445.1,714.7 L445.1,715.7 L446.2,716.7 L446.5,717.2 L447.6,717.5 L448.9,717.6 L449.7,718.0 L449.5,719.3 L451.0,719.5 L452.0,719.4 L452.3,720.2 L453.5,721.0 L454.6,720.1 L455.1,721.3" fill="none" stroke="#555555" stroke-width="2" stroke-linejoin="round" stroke-linecap="round"/>
<path d="M430.1,708.8 L431.2,708.8 L430.8,710.4 L431.9,711.0 L433.1,710.9 L433.4,712.4 L434.4,713.1 L434.7,713.7 L435.3,714.1 L436.1,715.3 L436.0,716.4 L437.6,716.1 L437.6,717.5 L438.4,718.3 L438.2,719.2 L438.9,719.7 L440.9,720.2 L441.0,721.2 L440.5,722.3 L442.0,722.8 L442.2,724.0 L443.6,724.1 L443.5,724.6 L444.1,725.9 L445.1,726.3 L446.3,726.9 L445.9,728.7 L446.3,728.7 L447.6,729.3 L447.9,730.0 L448.9,730.5 L450.1,731.6 L450.2,732.2 L450.3,733.6 L451.4,733.8" fill="none" stroke="#555555" stroke-width="2.5" stroke-linejoin="round" stroke-linecap="round"/>
<path d="M450.1,712.5 L450.4,713.4 L450.4,714.6 L451.6,714.6 L451.5,715.7 L452.1,717.0 L454.1,717.1 L453.6,717.9 L454.4,718.4 L455.7,718.6 L456.0,720.0 L457.6,720.6 L456.9,722.3 L457.6,722.5 L458.0,723.2 L459.7,723.5 L460.0,724.3 L459.9,725.2 L459.9,726.9 L461.3,727.6 L461.1,728.6 L461.7,729.0 L462.5,729.7 L464.1,729.9 L464.7,730.8 L463.7,732.3 L465.1,732.6 L465.4,734.0 L465.7,734.7 L466.2,735.2 L468.5,734.8 L468.1,736.2 L468.4,737.7 L468.8,738.0 L470.1,738.8" fill="none" stroke="#555555" stroke-width="3" stroke-linejoin="round" stroke-linecap="round"/>
<path d="M456.4,730.1 L457.0,731.3 L457.2,732.3 L457.5,733.0 L457.4,733.6 L458.5,734.8 L457.9,735.3 L458.1,736.8 L458.5,737.4 L460.0,738.2 L461.0,739.1 L460.1,740.1 L461.3,740.6 L459.9,742.4 L460.4,743.0 L461.3,743.8 L461.6,744.7 L462.5,745.0 L462.2,746.9 L462.9,747.2 L464.5,747.0 L463.3,748.7 L465.2,748.4 L465.1,750.1 L465.8,750.8 L467.7,750.7 L467.7,751.8 L467.3,753.3 L468.9,753.4 L468.7,754.5 L470.1,755.1 L470.2,756.5 L471.9,755.9 L472.6,756.4 L472.9,757.7 L473.7,758.5 L473.5,759.9 L475.8,758.9 L475.8,760.4 L476.4,761.4" fill="none" stroke="#555555" stroke-width="4" stroke-linejoin="round" stroke-linecap="round"/>
<path d="M465.1,733.8 L465.8,735.1 L467.1,734.6 L466.8,736.1 L467.9,737.1 L467.4,738.0 L469.8,737.9 L470.2,738.9 L470.9,739.0 L471.1,739.5 L470.5,741.8 L471.9,741.9 L472.6,742.6 L473.0,743.8 L474.4,743.5 L475.1,743.6 L474.6,746.0 L476.1,746.1 L477.6,745.9 L477.5,747.4 L478.2,748.5 L478.8,748.7 L479.1,749.6 L480.1,750.1 L481.2,750.5 L479.9,752.2 L480.7,753.4 L482.2,753.6 L482.4,754.9 L483.1,755.5 L482.8,756.4 L482.6,757.6" fill="none" stroke="#555555" stroke-width="3.5" stroke-linejoin="round" stroke-linecap="round"/>
<path d="M476.4,738.8 L477.5,739.3 L478.0,739.9 L479.2,740.3 L480.0,740.2 L481.3,741.0 L481.8,741.3 L481.8,743.7 L483.7,742.8 L482.9,744.8 L483.8,745.4 L485.1,745.1 L486.3,745.8 L486.6,746.3 L486.5,747.5 L487.0,748.4 L487.3,748.7 L487.1,750.1 L488.7,750.9 L489.4,751.3 L488.8,752.5 L490.1,752.6 L491.2,753.2 L492.2,753.8 L492.6,755.0 L493.3,755.1" fill="none" stroke="#555555" stroke-width="3" stroke-linejoin="round" stroke-linecap="round"/>
<path d="M440.1,730.1 L440.2,731.5 L441.1,731.8 L441.6,732.7 L442.0,733.7 L442.8,734.8 L443.6,735.5 L444.6,735.0 L445.1,736.3 L446.2,736.2 L447.2,737.1 L447.2,738.1 L447.8,739.6 L448.9,739.4 L450.1,740.1" fill="none" stroke="#555555" stroke-width="2.5" stroke-linejoin="round" stroke-linecap="round"/>
<path d="M428.8,712.5 L429.4,713.1 L430.0,713.7 L431.2,714.3 L430.8,716.0 L430.9,717.1 L432.6,716.5 L433.7,717.7 L432.8,719.1 L434.3,720.0 L433.7,720.9 L435.1,721.3 L436.1,722.0 L436.1,723.4 L435.9,724.0 L437.5,724.6 L437.1,725.5 L437.6,726.3 L438.7,726.5 L439.3,727.6 L440.7,728.3 L441.4,728.9 L442.2,729.5 L443.0,730.1 L442.6,731.3 L443.0,732.2 L443.9,732.7 L444.4,734.1 L445.4,734.1 L446.7,733.9 L447.1,734.6 L447.6,736.4 L448.3,736.1 L449.0,737.6 L450.1,737.8 L450.1,738.8" fill="none" stroke="#555555" stroke-width="2.5" stroke-linejoin="round" stroke-linecap="round"/>
<path d="M445.1,715.0 L444.8,716.1 L446.2,716.5 L446.4,717.2 L447.6,718.5 L447.4,719.1 L449.1,719.5 L450.5,719.5 L449.7,721.3 L451.6,721.2 L450.5,723.0 L452.1,723.6 L452.6,723.8 L452.6,725.0 L453.5,725.4 L455.0,725.9 L454.5,727.3 L455.1,728.2 L455.6,728.8 L457.3,728.3 L458.0,729.3 L457.0,731.2 L458.1,732.2 L458.5,732.1 L459.8,732.3 L460.1,733.8 L460.2,735.4 L462.1,734.6 L462.3,735.4 L461.6,737.8 L462.9,737.3 L463.3,738.4 L464.8,738.6 L465.0,739.4 L464.8,741.1 L466.1,741.9 L466.4,742.6 L467.5,743.2 L467.4,744.6 L468.1,744.8 L468.9,745.2 L468.1,746.8 L470.2,746.6 L470.0,747.9 L470.3,748.3 L470.9,748.9 L471.4,750.1" fill="none" stroke="#555555" stroke-width="3" stroke-linejoin="round" stroke-linecap="round"/>
<path d="M472.6,735.1 L473.6,735.3 L474.3,736.2 L474.9,737.3 L474.1,738.9 L474.9,740.0 L474.9,740.1 L477.4,739.8 L476.2,741.6 L478.1,741.5 L478.8,743.2 L478.9,743.8 L480.2,744.5 L480.2,745.7 L480.3,746.8 L481.8,746.1 L482.0,748.1 L484.0,747.5 L483.2,748.6 L483.9,750.1 L484.2,750.5 L486.1,750.1 L486.4,751.3" fill="none" stroke="#555555" stroke-width="3" stroke-linejoin="round" stroke-linecap="round"/>
<path d="M461.4,725.1 L462.4,726.0 L462.8,727.0 L462.6,727.6 L464.4,727.2 L464.7,728.5 L464.6,730.3 L466.0,730.3 L465.7,731.7 L466.8,732.0 L467.7,731.8 L469.1,732.7 L468.9,733.8 L469.8,734.8 L469.5,735.6 L470.2,736.1 L471.3,737.3 L472.0,737.6 L473.6,737.4 L474.3,738.3 L474.4,739.8 L475.1,740.1" fill="none" stroke="#555555" stroke-width="2.5" stroke-linejoin="round" stroke-linecap="round"/>
<path d="M482.6,736.3 L483.9,736.7 L483.2,738.0 L484.9,738.2 L485.2,738.9 L485.9,740.5 L486.3,740.7 L486.8,741.6 L488.3,741.8 L488.9,742.6 L489.0,743.3 L489.8,744.5 L489.9,745.5 L490.5,746.2 L491.4,746.7 L492.4,747.0 L492.1,748.5 L493.1,749.0 L493.3,750.1" fill="none" stroke="#555555" stroke-width="2.5" stroke-linejoin="round" stroke-linecap="round"/>
<path d="M400.7,703.8 L401.5,703.2 L401.7,702.1 L402.9,701.6 L403.2,700.6 L403.6,701.8 L404.5,702.3 L404.6,703.4 L405.1,704.2 L405.7,705.0 L404.7,705.0 L403.9,706.3 L402.6,706.3 L401.9,706.9" fill="none" stroke="#555555" stroke-width="1.6" stroke-linejoin="round" stroke-linecap="round"/>
<path d="M333.8,695.0 L334.5,694.4 L335.9,694.3 L334.9,692.5 L337.0,692.5 L338.0,692.9 L339.0,692.1 L338.8,690.6 L338.4,691.7 L340.1,692.7 L341.6,692.7 L341.3,693.8 L342.2,693.3 L343.1,693.7 L344.5,693.2 L345.1,692.5 L346.3,692.7 L347.4,692.0 L348.3,691.7 L348.8,691.3 L350.4,691.6 L349.8,693.4 L350.7,694.0 L352.8,693.6 L352.6,695.0 L352.4,696.0 L354.6,696.0 L355.0,696.8 L355.3,697.2 L355.1,698.8 L356.6,698.0 L356.7,700.0 L358.2,699.7 L359.0,699.9 L360.6,699.7 L361.4,699.4 L362.2,700.2 L363.3,699.2 L363.2,701.3 L364.3,701.6 L365.2,701.9 L366.3,702.1 L366.9,703.4 L367.6,703.2" fill="none" stroke="#555555" stroke-width="3.2" stroke-linejoin="round" stroke-linecap="round"/>
<path d="M335.1,698.8 L335.5,699.2 L336.4,700.5 L335.4,701.3 L336.0,702.1 L336.6,702.8 L336.0,704.7 L337.7,704.2 L336.6,705.6 L337.5,706.5 L337.6,707.5 L337.4,708.8 L339.3,709.5 L339.9,709.9 L341.3,710.0 L341.3,711.3 L341.6,710.7 L342.8,709.6 L342.3,709.2 L343.1,707.7 L344.6,707.7 L345.2,706.8 L345.4,705.9 L345.1,705.0 L345.9,704.5 L346.3,702.8 L347.6,702.5" fill="none" stroke="#555555" stroke-width="3.6" stroke-linejoin="round" stroke-linecap="round"/>
<path d="M329.4,711.9 L329.0,712.6 L327.8,712.9 L328.0,715.0 L327.4,715.6 L326.3,715.7 L325.6,717.1 L324.3,717.1 L324.3,718.1 L322.8,717.8 L321.6,718.5 L321.3,719.4 L320.7,720.8 L319.5,720.0 L319.1,721.5 L318.1,721.4 L317.1,721.9 L316.3,722.6" fill="none" stroke="#555555" stroke-width="2.2" stroke-linejoin="round" stroke-linecap="round"/>
<path d="M305.7,732.0 L305.9,733.1 L306.8,734.0 L307.7,734.2 L308.6,734.8 L310.0,735.1 L311.0,735.2 L311.6,735.9 L311.3,737.9 L311.9,738.2 L310.7,738.3 L310.7,739.4 L309.8,740.8 L309.1,740.6 L308.2,741.3" fill="none" stroke="#555555" stroke-width="2.6" stroke-linejoin="round" stroke-linecap="round"/>
<path d="M302.5,737.6 L301.3,737.8 L300.8,739.0 L300.5,739.8 L300.2,740.9 L299.9,742.0 L298.8,742.0 L297.9,742.3 L297.0,743.1 L296.9,744.0 L296.2,745.3 L295.0,745.1 L294.7,746.5 L293.5,746.8 L292.7,747.2 L291.5,747.3 L291.3,748.2" fill="none" stroke="#555555" stroke-width="2.0" stroke-linejoin="round" stroke-linecap="round"/>
<path d="M309.4,746.4 L308.7,747.1 L308.0,748.0 L308.3,748.8 L307.2,749.2 L307.3,750.7 L306.9,751.4 L306.2,751.5 L304.7,751.9 L304.5,753.1 L303.3,753.0 L302.5,753.9 L301.7,753.8 L300.7,754.1 L300.1,755.4 L298.9,755.4 L298.8,756.4 L298.1,756.8 L296.9,757.2 L296.8,758.1 L295.8,758.6 L295.0,758.9 L294.2,759.3 L293.7,760.6 L293.8,761.8 L293.1,762.8 L292.5,763.2 L291.7,763.5 L291.0,764.2 L290.1,765.2 L289.2,765.3 L288.1,765.1" fill="none" stroke="#555555" stroke-width="2.0" stroke-linejoin="round" stroke-linecap="round"/>
<path d="M298.8,747.6 L297.6,748.0 L297.4,748.9 L297.2,750.2 L295.6,750.9 L295.0,751.4 L295.1,752.5 L294.0,753.1 L293.9,754.2 L293.8,755.1 L292.8,755.7 L291.6,756.6 L291.9,757.6" fill="none" stroke="#555555" stroke-width="1.8" stroke-linejoin="round" stroke-linecap="round"/>
<path d="M250.0,771.0 L249.2,771.3 L249.1,772.6 L247.3,772.1 L246.2,772.3 L245.7,773.3 L245.4,774.2 L244.9,774.9 L244.2,775.2 L242.9,775.1 L242.4,775.3 L241.4,775.8 L240.9,776.4 L240.0,777.2 L239.5,778.1 L238.8,778.7 L238.0,778.8 L236.4,778.6 L236.2,779.6 L235.3,780.1 L234.2,780.5 L233.4,780.2 L233.0,781.1 L231.6,779.8 L231.2,781.5 L230.2,781.2 L229.0,781.9 L228.9,782.7 L227.4,782.6 L226.5,783.2 L226.1,783.7 L225.0,783.5 L224.8,784.6 L223.0,784.4 L222.6,784.8 L221.6,785.2 L220.9,785.3 L219.7,786.1 L218.5,785.8 L218.7,787.1 L217.5,787.2" fill="none" stroke="#555555" stroke-width="1.6" stroke-linejoin="round" stroke-linecap="round"/>
<path d="M275.1,751.8 L274.5,752.3 L273.7,752.8 L272.2,753.3 L272.1,754.2 L271.5,755.5 L270.6,755.2 L269.5,755.4 L268.7,756.3 L268.0,757.2 L267.5,758.2 L266.8,758.5 L266.4,759.5 L265.6,760.0 L264.1,759.9 L263.6,760.8 L263.0,761.6 L262.1,761.7 L260.5,761.6 L259.7,762.0 L258.7,762.4 L258.4,763.5 L257.6,763.5 L256.8,764.4 L255.8,765.1 L255.0,765.8 L253.8,765.4 L253.6,767.2 L252.3,766.5 L251.8,766.9 L250.7,767.8 L250.1,768.5 L249.2,769.6 L248.3,769.0 L247.2,769.8 L246.4,769.6 L245.5,770.0 L244.5,770.9 L243.4,771.2 L242.3,770.9 L241.7,771.8" fill="none" stroke="#555555" stroke-width="1.6" stroke-linejoin="round" stroke-linecap="round"/>
<ellipse cx="175.0" cy="797.2" rx="2.0" ry="1.2" fill="#555555"/>
<ellipse cx="160.0" cy="802.2" rx="1.8" ry="1.0" fill="#555555"/>
<ellipse cx="150.0" cy="803.0" rx="1.8" ry="1.2" fill="#555555"/>
<ellipse cx="142.5" cy="803.5" rx="1.5" ry="1.0" fill="#555555"/>
<ellipse cx="136.2" cy="804.0" rx="1.2" ry="1.0" fill="#555555"/>
<ellipse cx="125.0" cy="803.5" rx="1.8" ry="1.2" fill="#555555"/>
<ellipse cx="117.5" cy="804.0" rx="3.0" ry="1.0" fill="#555555"/>
<ellipse cx="110.0" cy="801.0" rx="1.8" ry="1.2" fill="#555555"/>
<ellipse cx="102.5" cy="800.2" rx="2.2" ry="1.0" fill="#555555"/>
<ellipse cx="95.0" cy="799.0" rx="2.2" ry="1.2" fill="#555555"/>
<ellipse cx="87.5" cy="798.0" rx="2.2" ry="1.2" fill="#555555"/>
<ellipse cx="81.2" cy="797.2" rx="2.0" ry="1.2" fill="#555555"/>
<ellipse cx="75.0" cy="795.5" rx="2.0" ry="1.5" fill="#555555"/>
<ellipse cx="72.5" cy="793.0" rx="1.2" ry="1.0" fill="#555555"/>
<ellipse cx="66.2" cy="791.5" rx="1.2" ry="1.0" fill="#555555"/>
<ellipse cx="61.2" cy="797.2" rx="1.5" ry="1.0" fill="#555555"/>
<ellipse cx="47.5" cy="789.8" rx="1.2" ry="2.0" fill="#555555"/>
<ellipse cx="44.5" cy="785.5" rx="1.2" ry="1.5" fill="#555555"/>
<ellipse cx="42.0" cy="780.5" rx="1.8" ry="1.2" fill="#555555"/>
<ellipse cx="35.0" cy="776.0" rx="2.5" ry="1.2" fill="#555555"/>
<ellipse cx="53.8" cy="784.0" rx="1.5" ry="1.5" fill="#555555"/>
<ellipse cx="25.0" cy="764.0" rx="1.0" ry="1.0" fill="#555555"/>
<ellipse cx="5.5" cy="754.0" rx="2.2" ry="1.5" fill="#555555"/>
<ellipse cx="3.8" cy="744.8" rx="3.5" ry="2.2" fill="#555555"/>
<ellipse cx="11.5" cy="751.5" rx="1.0" ry="1.0" fill="#555555"/>
<ellipse cx="162.5" cy="738.0" rx="2.0" ry="1.0" fill="#555555"/>
<ellipse cx="165.0" cy="747.5" rx="1.2" ry="1.2" fill="#555555"/>
<ellipse cx="157.0" cy="684.8" rx="1.5" ry="3.5" fill="#555555"/>
<ellipse cx="201.2" cy="613.5" rx="1.0" ry="1.0" fill="#555555"/>
<ellipse cx="205.0" cy="626.5" rx="0.8" ry="0.8" fill="#555555"/>
<ellipse cx="217.5" cy="786.0" rx="2.0" ry="1.2" fill="#555555"/>
<ellipse cx="235.0" cy="781.0" rx="2.5" ry="1.5" fill="#555555"/>
<ellipse cx="246.2" cy="783.5" rx="2.2" ry="2.0" fill="#555555"/>
<ellipse cx="242.5" cy="777.2" rx="2.0" ry="1.2" fill="#555555"/>
<ellipse cx="280.5" cy="774.0" rx="1.2" ry="1.2" fill="#555555"/>
<ellipse cx="271.0" cy="769.0" rx="1.0" ry="1.5" fill="#555555"/>
<ellipse cx="261.8" cy="766.5" rx="1.5" ry="1.0" fill="#555555"/>
<ellipse cx="315.0" cy="725.5" rx="2.5" ry="1.2" fill="#555555"/>
<ellipse cx="353.0" cy="716.0" rx="0.8" ry="0.8" fill="#555555"/>
<ellipse cx="352.6" cy="716.3" rx="1.1" ry="1.1" fill="#555555"/>
<text x="512.6" y="41.6" font-family="'Liberation Sans', Arial, sans-serif" font-size="49.5" font-weight="normal" text-anchor="middle" textLength="663.8" lengthAdjust="spacingAndGlyphs" fill="#000">Seasonal Temperature Outlook</text>
<text x="387.6" y="71.7" font-family="'DejaVu Sans Condensed', 'DejaVu Sans', 'Liberation Sans', sans-serif" font-size="19.9" font-weight="bold" text-anchor="start" textLength="63.3" lengthAdjust="spacingAndGlyphs">Valid:</text>
<text x="462.6" y="71.7" font-family="'DejaVu Sans Condensed', 'DejaVu Sans', 'Liberation Sans', sans-serif" font-size="19.9" font-weight="normal" text-anchor="start" textLength="173" lengthAdjust="spacingAndGlyphs">Oct-Nov-Dec 2025</text>
<text x="386.5" y="97.7" font-family="'DejaVu Sans Condensed', 'DejaVu Sans', 'Liberation Sans', sans-serif" font-size="19.9" font-weight="bold" text-anchor="start" textLength="82.4" lengthAdjust="spacingAndGlyphs">Issued:</text>
<text x="480.4" y="97.7" font-family="'DejaVu Sans Condensed', 'DejaVu Sans', 'Liberation Sans', sans-serif" font-size="19.9" font-weight="normal" text-anchor="start" textLength="194" lengthAdjust="spacingAndGlyphs">September 18, 2025</text>
<text x="189.9" y="117" font-family="'Liberation Sans', Arial, sans-serif" font-size="18.7" font-weight="bold" text-anchor="end" textLength="50.9" lengthAdjust="spacingAndGlyphs" stroke="#fff" stroke-width="3" stroke-linejoin="round" paint-order="stroke" fill="#000">Equal</text>
<text x="189.9" y="140.5" font-family="'Liberation Sans', Arial, sans-serif" font-size="18.7" font-weight="bold" text-anchor="end" textLength="78" lengthAdjust="spacingAndGlyphs" stroke="#fff" stroke-width="3" stroke-linejoin="round" paint-order="stroke" fill="#000">Chances</text>
<text x="896" y="181.5" font-family="'Liberation Sans', Arial, sans-serif" font-size="18.7" font-weight="bold" text-anchor="middle" textLength="57.2" lengthAdjust="spacingAndGlyphs" stroke="#fff" stroke-width="3" stroke-linejoin="round" paint-order="stroke" fill="#000">Above</text>
<text x="351.1" y="457.3" font-family="'Liberation Sans', Arial, sans-serif" font-size="18.7" font-weight="bold" text-anchor="middle" textLength="57.2" lengthAdjust="spacingAndGlyphs" stroke="#fff" stroke-width="3" stroke-linejoin="round" paint-order="stroke" fill="#000">Above</text>
<text x="827.5" y="585.5" font-family="'Liberation Sans', Arial, sans-serif" font-size="18.7" font-weight="bold" text-anchor="middle" textLength="57.2" lengthAdjust="spacingAndGlyphs" stroke="#fff" stroke-width="3" stroke-linejoin="round" paint-order="stroke" fill="#000">Above</text>
<text x="259.2" y="593.4" font-family="'Liberation Sans', Arial, sans-serif" font-size="18.7" font-weight="bold" text-anchor="middle" textLength="57.2" lengthAdjust="spacingAndGlyphs" stroke="#fff" stroke-width="3" stroke-linejoin="round" paint-order="stroke" fill="#000">Above</text>
<text x="351.1" y="649" font-family="'Liberation Sans', Arial, sans-serif" font-size="18.7" font-weight="bold" text-anchor="middle" textLength="50.9" lengthAdjust="spacingAndGlyphs" stroke="#fff" stroke-width="3" stroke-linejoin="round" paint-order="stroke" fill="#000">Equal</text>
<text x="351.1" y="672.3" font-family="'Liberation Sans', Arial, sans-serif" font-size="18.7" font-weight="bold" text-anchor="middle" textLength="78" lengthAdjust="spacingAndGlyphs" stroke="#fff" stroke-width="3" stroke-linejoin="round" paint-order="stroke" fill="#000">Chances</text>
<text x="845.3" y="648" font-family="'Liberation Sans', Arial, sans-serif" font-size="13" font-weight="bold" text-anchor="middle" textLength="66.6" lengthAdjust="spacingAndGlyphs">Probability</text>
<text x="845.3" y="662.3" font-family="'Liberation Sans', Arial, sans-serif" font-size="13" font-weight="bold" text-anchor="middle" textLength="106.6" lengthAdjust="spacingAndGlyphs">(Percent Chance)</text>
<text x="756.2" y="679" font-family="'Liberation Sans', Arial, sans-serif" font-size="10" font-weight="bold" text-anchor="middle">Above</text>
<text x="756.2" y="690.3" font-family="'Liberation Sans', Arial, sans-serif" font-size="10" font-weight="bold" text-anchor="middle">Normal</text>
<text x="845.2" y="679" font-family="'Liberation Sans', Arial, sans-serif" font-size="10" font-weight="bold" text-anchor="middle">Near</text>
<text x="845.2" y="690.3" font-family="'Liberation Sans', Arial, sans-serif" font-size="10" font-weight="bold" text-anchor="middle">Normal</text>
<text x="934.9" y="679" font-family="'Liberation Sans', Arial, sans-serif" font-size="10" font-weight="bold" text-anchor="middle">Below</text>
<text x="934.9" y="690.3" font-family="'Liberation Sans', Arial, sans-serif" font-size="10" font-weight="bold" text-anchor="middle">Normal</text>
<text x="845.2" y="744.8" font-family="'Liberation Sans', Arial, sans-serif" font-size="10" font-weight="bold" text-anchor="middle">Equal</text>
<text x="845.2" y="756.5" font-family="'Liberation Sans', Arial, sans-serif" font-size="10" font-weight="bold" text-anchor="middle">Chances</text>
<rect x="729.8" y="694.7" width="26.3" height="12.6" fill="#E8B36B" stroke="#c8c8c8" stroke-width=".6"/>
<text x="759.8" y="704.6" font-family="'Liberation Sans', Arial, sans-serif" font-size="10" font-weight="normal" text-anchor="start" fill="#222">33-40%</text>
<rect x="934.3" y="694.7" width="26.5" height="12.6" fill="#C0CBE8" stroke="#c8c8c8" stroke-width=".6"/>
<text x="929.8" y="704.6" font-family="'Liberation Sans', Arial, sans-serif" font-size="10" font-weight="normal" text-anchor="end" fill="#222">33-40%</text>
<rect x="729.8" y="711.6" width="26.3" height="12.6" fill="#E38C4D" stroke="#c8c8c8" stroke-width=".6"/>
<text x="759.8" y="721.5" font-family="'Liberation Sans', Arial, sans-serif" font-size="10" font-weight="normal" text-anchor="start" fill="#222">40-50%</text>
<rect x="934.3" y="711.6" width="26.5" height="12.6" fill="#A0C0E2" stroke="#c8c8c8" stroke-width=".6"/>
<text x="929.8" y="721.5" font-family="'Liberation Sans', Arial, sans-serif" font-size="10" font-weight="normal" text-anchor="end" fill="#222">40-50%</text>
<rect x="729.8" y="728.5" width="26.3" height="12.6" fill="#DB5834" stroke="#c8c8c8" stroke-width=".6"/>
<text x="759.8" y="738.35" font-family="'Liberation Sans', Arial, sans-serif" font-size="10" font-weight="normal" text-anchor="start" fill="#222">50-60%</text>
<rect x="934.3" y="728.5" width="26.5" height="12.6" fill="#78B4E4" stroke="#c8c8c8" stroke-width=".6"/>
<text x="929.8" y="738.35" font-family="'Liberation Sans', Arial, sans-serif" font-size="10" font-weight="normal" text-anchor="end" fill="#222">50-60%</text>
<rect x="729.8" y="745.2" width="26.3" height="12.6" fill="#C93A1C" stroke="#c8c8c8" stroke-width=".6"/>
<text x="759.8" y="755.1" font-family="'Liberation Sans', Arial, sans-serif" font-size="10" font-weight="normal" text-anchor="start" fill="#222">60-70%</text>
<rect x="934.3" y="745.2" width="26.5" height="12.6" fill="#3A9AD8" stroke="#c8c8c8" stroke-width=".6"/>
<text x="929.8" y="755.1" font-family="'Liberation Sans', Arial, sans-serif" font-size="10" font-weight="normal" text-anchor="end" fill="#222">60-70%</text>
<rect x="729.8" y="762.0" width="26.3" height="12.6" fill="#B32A02" stroke="#c8c8c8" stroke-width=".6"/>
<text x="759.8" y="771.85" font-family="'Liberation Sans', Arial, sans-serif" font-size="10" font-weight="normal" text-anchor="start" fill="#222">70-80%</text>
<rect x="934.3" y="762.0" width="26.5" height="12.6" fill="#0C5CA8" stroke="#c8c8c8" stroke-width=".6"/>
<text x="929.8" y="771.85" font-family="'Liberation Sans', Arial, sans-serif" font-size="10" font-weight="normal" text-anchor="end" fill="#222">70-80%</text>
<rect x="729.8" y="778.5" width="26.3" height="12.6" fill="#8E2006" stroke="#c8c8c8" stroke-width=".6"/>
<text x="759.8" y="788.35" font-family="'Liberation Sans', Arial, sans-serif" font-size="10" font-weight="normal" text-anchor="start" fill="#222">80-90%</text>
<rect x="934.3" y="778.5" width="26.5" height="12.6" fill="#2C2272" stroke="#c8c8c8" stroke-width=".6"/>
<text x="929.8" y="788.35" font-family="'Liberation Sans', Arial, sans-serif" font-size="10" font-weight="normal" text-anchor="end" fill="#222">80-90%</text>
<rect x="729.8" y="795.5" width="26.3" height="12.6" fill="#701C04" stroke="#c8c8c8" stroke-width=".6"/>
<text x="759.8" y="805.35" font-family="'Liberation Sans', Arial, sans-serif" font-size="10" font-weight="normal" text-anchor="start" fill="#222">90-100%</text>
<rect x="934.3" y="795.5" width="26.5" height="12.6" fill="#221852" stroke="#c8c8c8" stroke-width=".6"/>
<text x="929.8" y="805.35" font-family="'Liberation Sans', Arial, sans-serif" font-size="10" font-weight="normal" text-anchor="end" fill="#222">90-100%</text>
<rect x="812.3" y="694.7" width="26.3" height="12.6" fill="#CDCDCD" stroke="#c8c8c8" stroke-width=".6"/>
<text x="842.8" y="704.6" font-family="'Liberation Sans', Arial, sans-serif" font-size="10" font-weight="normal" text-anchor="start" fill="#222">33-40%</text>
<rect x="812.3" y="711.6" width="26.3" height="12.6" fill="#A3A3A3" stroke="#c8c8c8" stroke-width=".6"/>
<text x="842.8" y="721.5" font-family="'Liberation Sans', Arial, sans-serif" font-size="10" font-weight="normal" text-anchor="start" fill="#222">40-50%</text>
<rect x="832.2" y="762" width="26.3" height="13.2" fill="#fff" stroke="#777" stroke-width=".8"/>
<path d="M727.3,694.8 C718.3,694.8 717.3,696.55 717.3,701.8 L717.3,702.8 C717.3,707.6999999999999 711.3,709.8 707.3,709.8 C711.3,709.8 717.3,711.9 717.3,716.8 L717.3,717.8 C717.3,723.05 718.3,724.8 727.3,724.8" fill="none" stroke="#222" stroke-width=".7"/>
<path d="M727.3,728 C718.3,728 717.3,731.0 717.3,740 L717.3,756.25 C717.3,764.65 711.3,768.25 707.3,768.25 C711.3,768.25 717.3,771.85 717.3,780.25 L717.3,796.5 C717.3,805.5 718.3,808.5 727.3,808.5" fill="none" stroke="#222" stroke-width=".7"/>
<path d="M963,694.8 C972.0,694.8 973.0,696.55 973.0,701.8 L973.0,702.8 C973.0,707.6999999999999 979.0,709.8 983,709.8 C979.0,709.8 973.0,711.9 973.0,716.8 L973.0,717.8 C973.0,723.05 972.0,724.8 963,724.8" fill="none" stroke="#222" stroke-width=".7"/>
<path d="M963,728 C972.0,728 973.0,731.0 973.0,740 L973.0,756.25 C973.0,764.65 979.0,768.25 983,768.25 C979.0,768.25 973.0,771.85 973.0,780.25 L973.0,796.5 C973.0,805.5 972.0,808.5 963,808.5" fill="none" stroke="#222" stroke-width=".7"/>
<text x="685.2" y="706.5" font-family="'DejaVu Sans Condensed', 'DejaVu Sans', 'Liberation Sans', sans-serif" font-size="12" font-weight="normal" text-anchor="middle" textLength="39.3" lengthAdjust="spacingAndGlyphs" fill="#222">Leaning</text>
<text x="685.2" y="719.8" font-family="'DejaVu Sans Condensed', 'DejaVu Sans', 'Liberation Sans', sans-serif" font-size="12" font-weight="normal" text-anchor="middle" fill="#222">Above</text>
<text x="685.2" y="766.8" font-family="'DejaVu Sans Condensed', 'DejaVu Sans', 'Liberation Sans', sans-serif" font-size="12" font-weight="normal" text-anchor="middle" fill="#222">Likely</text>
<text x="685.2" y="780.5" font-family="'DejaVu Sans Condensed', 'DejaVu Sans', 'Liberation Sans', sans-serif" font-size="12" font-weight="normal" text-anchor="middle" fill="#222">Above</text>
<text x="1004.7" y="706.5" font-family="'DejaVu Sans Condensed', 'DejaVu Sans', 'Liberation Sans', sans-serif" font-size="12" font-weight="normal" text-anchor="middle" textLength="39.3" lengthAdjust="spacingAndGlyphs" fill="#222">Leaning</text>
<text x="1004.7" y="719.8" font-family="'DejaVu Sans Condensed', 'DejaVu Sans', 'Liberation Sans', sans-serif" font-size="12" font-weight="normal" text-anchor="middle" fill="#222">Below</text>
<text x="1004.7" y="766.8" font-family="'DejaVu Sans Condensed', 'DejaVu Sans', 'Liberation Sans', sans-serif" font-size="12" font-weight="normal" text-anchor="middle" fill="#222">Likely</text>
<text x="1004.7" y="780.5" font-family="'DejaVu Sans Condensed', 'DejaVu Sans', 'Liberation Sans', sans-serif" font-size="12" font-weight="normal" text-anchor="middle" fill="#222">Below</text>
<circle cx="31.25" cy="35.8" r="27.9" fill="#1B98D5"/>
<circle cx="31.25" cy="35.8" r="21.3" fill="#fff"/>
<defs><path id="rt" d="M8.05,35.8 A23.2,23.2 0 0 1 54.45,35.8"/><path id="rb" d="M5.649999999999999,35.8 A25.6,25.6 0 0 0 56.85,35.8"/></defs>
<text font-family="'Liberation Sans', Arial, sans-serif" font-size="3.9" font-weight="bold" fill="#fff" text-anchor="middle"><textPath href="#rt" startOffset="50%" textLength="65" lengthAdjust="spacingAndGlyphs">DEPARTMENT OF COMMERCE</textPath></text>
<text font-family="'Liberation Sans', Arial, sans-serif" font-size="3.9" font-weight="bold" fill="#fff" text-anchor="middle"><textPath href="#rb" startOffset="50%" textLength="70" lengthAdjust="spacingAndGlyphs">UNITED STATES OF AMERICA</textPath></text>
<circle cx="6.850000000000001" cy="36.099999999999994" r=".6" fill="#fff"/><circle cx="55.65" cy="36.099999999999994" r=".6" fill="#fff"/>
<path d="M19.2,31.7 H43.4 V32.6 H41.8 V50 Q41.6,52.3 31.3,55.5 Q21,52.3 20.8,50 V32.6 H19.2 Z" fill="#1B8FCB"/>
<path d="M20.8,43 H41.8 V50 Q41.6,52.3 31.3,55.5 Q21,52.3 20.8,50 Z" fill="#E2B713"/>
<path d="M19.2,31.7 H43.4 V32.6 H19.2 Z" fill="#5d7f96"/>
<path d="M30.9,43 H31.7 V55.3 H30.9 Z" fill="#8a8a80"/>
<path d="M23.5,38.3 L28,35 L29.5,35 L29.5,33.8 L30.3,33.8 L30.3,35 L32,35 L32,33.5 L32.8,33.5 L32.8,35 L34.5,35 L34.5,34 L35.3,34 L35.3,35 L37,35 L37.8,39.3 L36,40.3 L26,40.3 Z" fill="#e8eef2"/>
<path d="M24.5,40.6 L38,40.6 L37,41.6 L26,41.6 Z" fill="#23323c"/>
<path d="M24,18 Q27,19.5 29,23 L30.2,22 Q31.3,21 32.4,22 L33.6,23 Q35.6,19.5 38.8,18.5 Q38.5,23 35.5,26.5 L33.5,27.5 L33.8,29.5 L36,30 L36,30.8 L26.8,30.8 L26.8,30 L29,29.5 L29.2,27.5 L27.2,26.5 Q24.3,23 24,18 Z" fill="#B8941C"/>
<circle cx="31.3" cy="22.6" r="1.1" fill="#f4f1e4"/>
<defs><clipPath id="nc"><circle cx="994.75" cy="36.25" r="28.75"/></clipPath></defs>
<g clip-path="url(#nc)">
<circle cx="994.75" cy="36.25" r="29" fill="#0085CA"/>
<path d="M971.27,19.60 C974.19,21.68 976.69,25.02 978.36,27.52 C980.86,31.69 982.53,33.36 985.03,35.86 C988.37,39.20 991.71,41.28 995.88,41.70 C999.21,41.28 1000.88,40.03 1002.55,38.37 C1005.05,35.03 1006.72,31.69 1008.39,27.52 C1010.89,22.52 1013.39,20.43 1017.14,18.77 L1020.06,8.34 L995.04,4.17 L968.35,8.34 Z" fill="#003087"/>
</g>
<path d="M971.27,19.60 L965.02,20.85 L966.85,28.36 C970.02,30.03 975.03,35.86 980.03,39.20 C982.53,40.87 985.87,42.70 990.45,43.79 L985.45,47.37 C987.54,49.21 990.87,48.79 993.37,47.71 C995.88,46.29 996.71,45.04 998.38,44.37 L1006.72,43.37 L1007.55,42.37 L1002.55,41.53 C1008.39,38.37 1015.06,32.53 1020.48,23.77 L1023.40,20.02 L1017.14,18.77 C1013.39,20.43 1010.89,22.52 1008.39,27.52 C1006.72,31.69 1005.05,35.03 1002.55,38.37 C1000.88,40.03 999.21,41.28 995.88,41.70 C991.71,41.28 988.37,39.20 985.03,35.86 C982.53,33.36 980.86,31.69 978.36,27.52 C976.69,25.02 974.19,21.68 971.27,19.60 Z" fill="#fff"/>
<text x="994.6" y="26.2" font-family="'Liberation Sans', Arial, sans-serif" font-size="10.4" font-weight="bold" text-anchor="middle" textLength="23.4" lengthAdjust="spacingAndGlyphs" fill="#fff">NOAA</text>
</svg>
</body></html>
